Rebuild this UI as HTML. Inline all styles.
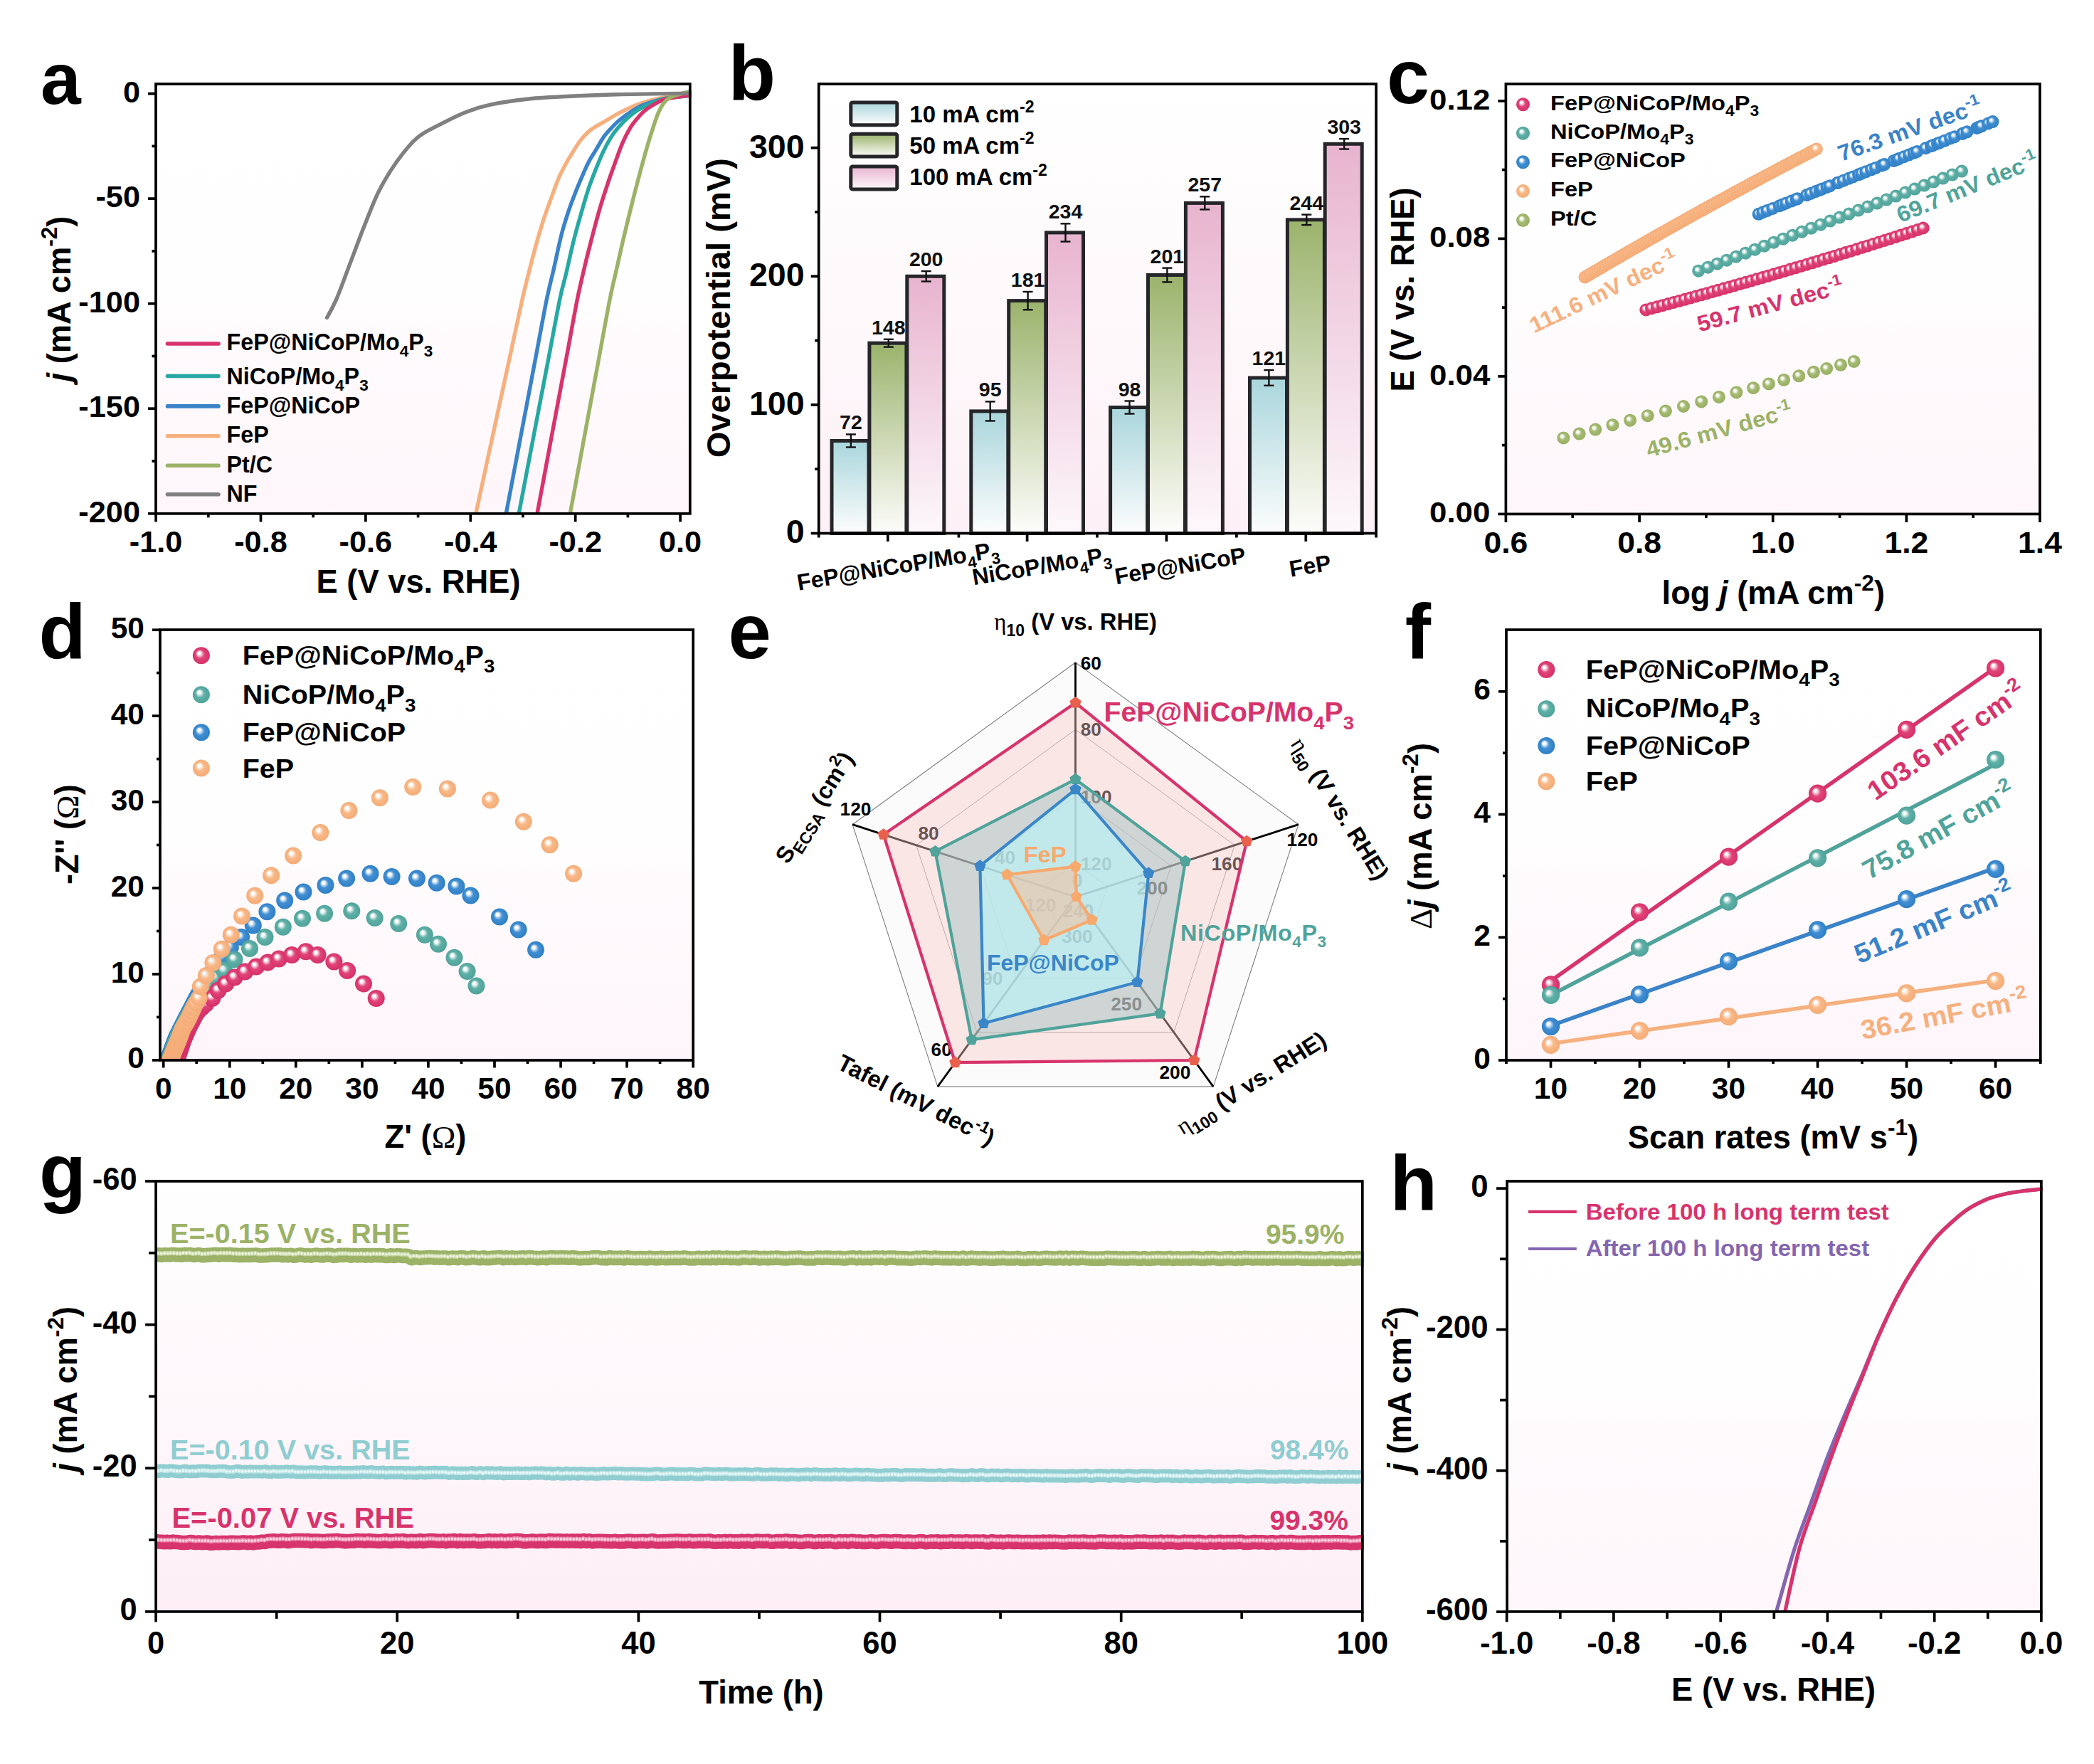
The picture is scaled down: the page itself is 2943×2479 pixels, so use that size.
<!DOCTYPE html>
<html><head><meta charset="utf-8"><title>Figure</title><style>html,body{margin:0;padding:0;background:#fff;}body{width:2943px;height:2479px;overflow:hidden;font-family:"Liberation Sans",sans-serif;}svg{display:block;}</style></head><body><svg width="2943" height="2479" viewBox="0 0 2943 2479" font-family="Liberation Sans, sans-serif" font-weight="bold"><defs><radialGradient id="sR" cx="0.5" cy="0.5" r="0.5" fx="0.35" fy="0.33"><stop offset="0" stop-color="#ffffff"/><stop offset="0.16" stop-color="#ffffff" stop-opacity="0.9"/><stop offset="0.5" stop-color="#e0457a"/><stop offset="1" stop-color="#d62f67"/></radialGradient><radialGradient id="sT" cx="0.5" cy="0.5" r="0.5" fx="0.35" fy="0.33"><stop offset="0" stop-color="#ffffff"/><stop offset="0.16" stop-color="#ffffff" stop-opacity="0.9"/><stop offset="0.5" stop-color="#5fb0a7"/><stop offset="1" stop-color="#4fa39a"/></radialGradient><radialGradient id="sB" cx="0.5" cy="0.5" r="0.5" fx="0.35" fy="0.33"><stop offset="0" stop-color="#ffffff"/><stop offset="0.16" stop-color="#ffffff" stop-opacity="0.9"/><stop offset="0.5" stop-color="#428fd2"/><stop offset="1" stop-color="#2f7fc6"/></radialGradient><radialGradient id="sO" cx="0.5" cy="0.5" r="0.5" fx="0.35" fy="0.33"><stop offset="0" stop-color="#ffffff"/><stop offset="0.16" stop-color="#ffffff" stop-opacity="0.9"/><stop offset="0.5" stop-color="#f8b988"/><stop offset="1" stop-color="#f5ab76"/></radialGradient><radialGradient id="sG" cx="0.5" cy="0.5" r="0.5" fx="0.35" fy="0.33"><stop offset="0" stop-color="#ffffff"/><stop offset="0.16" stop-color="#ffffff" stop-opacity="0.9"/><stop offset="0.5" stop-color="#a5bb72"/><stop offset="1" stop-color="#97ae62"/></radialGradient><linearGradient id="bgA" x1="0" y1="0" x2="0" y2="1"><stop offset="0" stop-color="#ffffff"/><stop offset="0.5" stop-color="#fffefe"/><stop offset="0.58" stop-color="#fffbfd"/><stop offset="1" stop-color="#fef6fa"/></linearGradient><linearGradient id="bgB" x1="0" y1="0" x2="0" y2="1"><stop offset="0" stop-color="#ffffff"/><stop offset="0.5" stop-color="#fef9fb"/><stop offset="1" stop-color="#fdf0f6"/></linearGradient><linearGradient id="gb1" x1="0" y1="0" x2="0" y2="1"><stop offset="0" stop-color="#a9d6dc"/><stop offset="1" stop-color="#fdfdfd"/></linearGradient><linearGradient id="gb2" x1="0" y1="0" x2="0" y2="1"><stop offset="0" stop-color="#9bb36c"/><stop offset="1" stop-color="#fdfdfb"/></linearGradient><linearGradient id="gb3" x1="0" y1="0" x2="0" y2="1"><stop offset="0" stop-color="#e8b4cf"/><stop offset="1" stop-color="#fdf8fb"/></linearGradient><linearGradient id="bgC" x1="0" y1="0" x2="0" y2="1"><stop offset="0" stop-color="#ffffff"/><stop offset="0.5" stop-color="#fffefe"/><stop offset="0.58" stop-color="#fffbfd"/><stop offset="1" stop-color="#fef6fa"/></linearGradient><linearGradient id="bgD" x1="0" y1="0" x2="0" y2="1"><stop offset="0" stop-color="#ffffff"/><stop offset="0.5" stop-color="#fffefe"/><stop offset="0.58" stop-color="#fffbfd"/><stop offset="1" stop-color="#fef5fa"/></linearGradient><linearGradient id="bgF" x1="0" y1="0" x2="0" y2="1"><stop offset="0" stop-color="#ffffff"/><stop offset="0.5" stop-color="#fffefe"/><stop offset="0.58" stop-color="#fffbfd"/><stop offset="1" stop-color="#fef5fa"/></linearGradient><linearGradient id="bgG" x1="0" y1="0" x2="0" y2="1"><stop offset="0" stop-color="#ffffff"/><stop offset="0.5" stop-color="#fef8fb"/><stop offset="1" stop-color="#fdeef6"/></linearGradient><linearGradient id="bgH" x1="0" y1="0" x2="0" y2="1"><stop offset="0" stop-color="#ffffff"/><stop offset="0.5" stop-color="#fffefe"/><stop offset="0.58" stop-color="#fffbfd"/><stop offset="1" stop-color="#fef6fa"/></linearGradient></defs><rect x="219" y="118" width="750.8" height="603.8" fill="url(#bgA)"/>
<clipPath id="clipA"><rect x="219" y="115" width="752.8" height="606.8"/></clipPath>
<g clip-path="url(#clipA)" fill="none" stroke-width="5.4" stroke-linecap="round" stroke-linejoin="round">
<path d="M668.8 721.8C671.5 709.2 679.7 671.5 685.1 646.3C690.6 621.2 696 596 701.5 570.9C707 545.8 712.4 520.6 717.9 495.4C723.3 470.3 730 438.6 734.2 420C738.4 401.4 739.8 396.7 743 384C746.2 371.3 750 356.3 753.5 343.7C757 331.1 760.5 319.3 764 308.5C767.5 297.7 771.1 288.4 774.6 278.7C778.1 269 781.6 258.7 785.1 250.5C788.6 242.3 792.2 235.9 795.7 229.5C799.2 223.1 802.7 217.5 806.2 211.9C809.7 206.3 812.7 201.1 816.8 196.1C820.9 191.1 825.5 186.1 830.8 182C836.1 177.9 842.5 175 848.4 171.5C854.3 168 860.1 164.2 866 161C871.9 157.8 877.6 154.8 883.5 152.2C889.4 149.5 895.2 147.1 901.1 145.1C907 143.1 912.9 141.3 918.7 139.9C924.6 138.5 927.7 137.6 936.2 136.4C944.7 135.2 964 133.4 969.6 132.8" stroke="#f6b07e"/>
<path d="M711.3 721.8C713.7 709.2 720.8 671.5 725.6 646.3C730.4 621.2 735.1 596 739.9 570.9C744.7 545.8 749.4 520.6 754.2 495.4C759 470.3 764.5 439.4 768.5 420C772.5 400.6 774.7 393.6 778.1 378.8C781.5 364 785.2 345.2 788.7 331.4C792.2 317.6 795.7 306.8 799.2 296.2C802.7 285.6 806.5 276.3 809.7 268.1C812.9 259.9 815.6 253.7 818.5 247C821.4 240.3 824.1 233.8 827.3 227.7C830.5 221.5 834.4 215.9 837.9 210.1C841.4 204.2 844.9 197.6 848.4 192.6C851.9 187.6 855.4 184.1 858.9 180.3C862.4 176.5 865.4 173.2 869.5 169.7C873.6 166.2 878.2 162.7 883.5 159.2C888.8 155.7 895.2 151.5 901.1 148.7C907 145.9 912.9 144.3 918.7 142.5C924.6 140.7 927.7 139.4 936.2 138.1C944.7 136.8 964 135.2 969.6 134.6" stroke="#3a83c8"/>
<path d="M729.2 721.8C731.6 709.2 738.8 671.5 743.6 646.3C748.4 621.2 753.2 596 758 570.9C762.9 545.8 767.7 520.6 772.5 495.4C777.3 470.3 783 438.6 786.9 420C790.8 401.4 792.5 397.7 795.7 384.1C798.9 370.5 802.7 352.5 806.2 338.4C809.7 324.3 813.3 312 816.8 299.7C820.3 287.4 823.8 275.1 827.3 264.6C830.8 254.1 834.4 245.3 837.9 236.5C841.4 227.7 844.9 219.2 848.4 211.9C851.9 204.6 855.4 198.2 858.9 192.6C862.4 187 865.4 183.2 869.5 178.5C873.6 173.8 878.8 168.6 883.5 164.5C888.2 160.4 892.3 157.1 897.6 153.9C902.9 150.7 908.8 147.7 915.2 145.1C921.6 142.5 927.1 139.9 936.2 138.1C945.3 136.2 964 134.7 969.6 134" stroke="#26a8a3"/>
<path d="M755 721.8C757.4 709.2 764.4 671.5 769.1 646.3C773.8 621.2 778.5 596 783.2 570.9C788 545.8 792.7 520.6 797.4 495.4C802.1 470.3 807.4 440.3 811.5 420C815.6 399.7 818.5 388.3 822 373.5C825.5 358.7 829.1 344.9 832.6 331.4C836.1 317.9 839.6 304.7 843.1 292.7C846.6 280.7 850.2 269.8 853.7 259.3C857.2 248.8 860.7 239.2 864.2 229.5C867.7 219.8 871.2 209.6 874.7 201.4C878.2 193.2 881.8 186.2 885.3 180.3C888.8 174.4 892 170.6 895.8 166.2C899.6 161.8 903.7 157.4 908.1 153.9C912.5 150.4 917.5 147.6 922.2 145.1C926.9 142.6 928.3 140.9 936.2 139C944.1 137.1 964 134.6 969.6 133.7" stroke="#d7336c"/>
<path d="M801.3 721.8C803.6 709.2 810.6 671.5 815.3 646.3C819.9 621.2 824.6 596 829.2 570.9C833.9 545.8 838.6 520.6 843.2 495.4C847.9 470.3 853.4 439.1 857.2 420C861 400.9 863.1 393.6 866 380.6C868.9 367.6 871.8 354.5 874.7 341.9C877.6 329.3 880.6 317 883.5 305C886.4 293 889.4 281.3 892.3 269.9C895.2 258.5 898.2 247.3 901.1 236.5C904 225.7 907 214.8 909.9 204.9C912.8 195 916.1 184.7 918.7 176.8C921.3 168.9 923.4 162.7 925.7 157.4C928 152.1 930.1 148.5 932.7 145.1C935.3 141.7 938 139.2 941.5 137.2C945 135.1 949.1 134.3 953.8 132.8C958.5 131.3 967 129.1 969.6 128.4" stroke="#9bb267"/>
<path d="M459.6 446.3C461.9 441.8 467.8 432.2 473.4 419.1C479 406 486.5 384.6 493.1 367.4C499.7 350.1 506.2 332.1 512.8 315.6C519.4 299.2 525.1 283.3 532.5 268.7C539.9 254.1 548.2 240.4 557.2 227.8C566.2 215.2 576.3 202.2 586.8 193.3C597.3 184.4 608.6 180.1 620 174.1C631.4 168.1 643.4 161.9 655.1 157.4C666.8 152.9 675.6 150 690.3 146.9C704.9 143.8 725.4 140.9 743 139C760.6 137.1 775.2 136.5 795.7 135.5C816.2 134.5 845.6 133.4 866 132.8C886.4 132.2 900.5 132.2 917.8 131.9C935.1 131.7 961 131.2 969.6 131.1" stroke="#808080"/>
</g>
<rect x="219" y="118" width="750.8" height="603.8" fill="none" stroke="#000" stroke-width="3.7"/>
<line x1="219.1" y1="721.8" x2="219.1" y2="733.3" stroke="#000" stroke-width="3.7" stroke-linecap="butt"/>
<line x1="366.5" y1="721.8" x2="366.5" y2="733.3" stroke="#000" stroke-width="3.7" stroke-linecap="butt"/>
<line x1="513.9" y1="721.8" x2="513.9" y2="733.3" stroke="#000" stroke-width="3.7" stroke-linecap="butt"/>
<line x1="661.3" y1="721.8" x2="661.3" y2="733.3" stroke="#000" stroke-width="3.7" stroke-linecap="butt"/>
<line x1="808.7" y1="721.8" x2="808.7" y2="733.3" stroke="#000" stroke-width="3.7" stroke-linecap="butt"/>
<line x1="956.1" y1="721.8" x2="956.1" y2="733.3" stroke="#000" stroke-width="3.7" stroke-linecap="butt"/>
<line x1="292.8" y1="721.8" x2="292.8" y2="727.3" stroke="#000" stroke-width="3.7" stroke-linecap="butt"/>
<line x1="440.2" y1="721.8" x2="440.2" y2="727.3" stroke="#000" stroke-width="3.7" stroke-linecap="butt"/>
<line x1="587.6" y1="721.8" x2="587.6" y2="727.3" stroke="#000" stroke-width="3.7" stroke-linecap="butt"/>
<line x1="735" y1="721.8" x2="735" y2="727.3" stroke="#000" stroke-width="3.7" stroke-linecap="butt"/>
<line x1="882.4" y1="721.8" x2="882.4" y2="727.3" stroke="#000" stroke-width="3.7" stroke-linecap="butt"/>
<text x="219.1" y="775.8" font-size="43.3" text-anchor="middle" fill="#000" font-weight="bold">-1.0</text>
<text x="366.5" y="775.8" font-size="43.3" text-anchor="middle" fill="#000" font-weight="bold">-0.8</text>
<text x="513.9" y="775.8" font-size="43.3" text-anchor="middle" fill="#000" font-weight="bold">-0.6</text>
<text x="661.3" y="775.8" font-size="43.3" text-anchor="middle" fill="#000" font-weight="bold">-0.4</text>
<text x="808.7" y="775.8" font-size="43.3" text-anchor="middle" fill="#000" font-weight="bold">-0.2</text>
<text x="956.1" y="775.8" font-size="43.3" text-anchor="middle" fill="#000" font-weight="bold">0.0</text>
<line x1="208" y1="131.6" x2="219" y2="131.6" stroke="#000" stroke-width="3.7" stroke-linecap="butt"/>
<line x1="208" y1="279.1" x2="219" y2="279.1" stroke="#000" stroke-width="3.7" stroke-linecap="butt"/>
<line x1="208" y1="426.7" x2="219" y2="426.7" stroke="#000" stroke-width="3.7" stroke-linecap="butt"/>
<line x1="208" y1="574.2" x2="219" y2="574.2" stroke="#000" stroke-width="3.7" stroke-linecap="butt"/>
<line x1="208" y1="721.8" x2="219" y2="721.8" stroke="#000" stroke-width="3.7" stroke-linecap="butt"/>
<line x1="213.5" y1="205.4" x2="219" y2="205.4" stroke="#000" stroke-width="3.7" stroke-linecap="butt"/>
<line x1="213.5" y1="352.9" x2="219" y2="352.9" stroke="#000" stroke-width="3.7" stroke-linecap="butt"/>
<line x1="213.5" y1="500.5" x2="219" y2="500.5" stroke="#000" stroke-width="3.7" stroke-linecap="butt"/>
<line x1="213.5" y1="648" x2="219" y2="648" stroke="#000" stroke-width="3.7" stroke-linecap="butt"/>
<text x="197" y="143.6" font-size="43.3" text-anchor="end" fill="#000" font-weight="bold">0</text>
<text x="197" y="291.1" font-size="43.3" text-anchor="end" fill="#000" font-weight="bold">-50</text>
<text x="197" y="438.7" font-size="43.3" text-anchor="end" fill="#000" font-weight="bold">-100</text>
<text x="197" y="586.2" font-size="43.3" text-anchor="end" fill="#000" font-weight="bold">-150</text>
<text x="197" y="733.8" font-size="43.3" text-anchor="end" fill="#000" font-weight="bold">-200</text>
<text x="588" y="833.2" font-size="45.3" text-anchor="middle" fill="#000" font-weight="bold">E (V vs. RHE)</text>
<text x="98.5" y="420" font-size="45.3" text-anchor="middle" fill="#000" font-weight="bold" transform="rotate(-90 98.5 420)"><tspan font-style="italic">j</tspan><tspan> (mA cm</tspan><tspan font-size="31.7" dy="-19">-2</tspan><tspan dy="19">)</tspan></text>
<text x="57" y="146" font-size="102" text-anchor="start" fill="#000" font-weight="bold">a</text>
<line x1="235.5" y1="483" x2="307" y2="483" stroke="#d7336c" stroke-width="5.6" stroke-linecap="round"/>
<text x="318.5" y="492.3" font-size="32.3" text-anchor="start" fill="#000" font-weight="bold"><tspan>FeP@NiCoP/Mo</tspan><tspan font-size="22.6" dy="9">4</tspan><tspan dy="-9">P</tspan><tspan font-size="22.6" dy="9">3</tspan><tspan dy="-9"></tspan></text>
<line x1="235.5" y1="528.5" x2="307" y2="528.5" stroke="#26a8a3" stroke-width="5.6" stroke-linecap="round"/>
<text x="318.5" y="539.5" font-size="32.3" text-anchor="start" fill="#000" font-weight="bold"><tspan>NiCoP/Mo</tspan><tspan font-size="22.6" dy="9">4</tspan><tspan dy="-9">P</tspan><tspan font-size="22.6" dy="9">3</tspan><tspan dy="-9"></tspan></text>
<line x1="235.5" y1="570.9" x2="307" y2="570.9" stroke="#3a83c8" stroke-width="5.6" stroke-linecap="round"/>
<text x="318.5" y="581.2" font-size="32.3" text-anchor="start" fill="#000" font-weight="bold">FeP@NiCoP</text>
<line x1="235.5" y1="612.7" x2="307" y2="612.7" stroke="#f6b07e" stroke-width="5.6" stroke-linecap="round"/>
<text x="318.5" y="622.3" font-size="32.3" text-anchor="start" fill="#000" font-weight="bold">FeP</text>
<line x1="235.5" y1="654.2" x2="307" y2="654.2" stroke="#9bb267" stroke-width="5.6" stroke-linecap="round"/>
<text x="318.5" y="663.6" font-size="32.3" text-anchor="start" fill="#000" font-weight="bold">Pt/C</text>
<line x1="235.5" y1="694.8" x2="307" y2="694.8" stroke="#808080" stroke-width="5.6" stroke-linecap="round"/>
<text x="318.5" y="705.4" font-size="32.3" text-anchor="start" fill="#000" font-weight="bold">NF</text>
<rect x="1150.7" y="118" width="783.4" height="631.5" fill="url(#bgB)"/>
<rect x="1169" y="619.5" width="52" height="130" fill="url(#gb1)" stroke="#26262a" stroke-width="5"/>
<line x1="1195.9" y1="610.4" x2="1195.9" y2="628.5" stroke="#111" stroke-width="2.4" stroke-linecap="butt"/>
<line x1="1188.9" y1="610.4" x2="1202.9" y2="610.4" stroke="#111" stroke-width="2.4" stroke-linecap="butt"/>
<line x1="1188.9" y1="628.5" x2="1202.9" y2="628.5" stroke="#111" stroke-width="2.4" stroke-linecap="butt"/>
<text x="1195.9" y="603.4" font-size="28.5" text-anchor="middle" fill="#111" font-weight="bold">72</text>
<rect x="1221.9" y="482.2" width="52" height="267.3" fill="url(#gb2)" stroke="#26262a" stroke-width="5"/>
<line x1="1248.8" y1="476.8" x2="1248.8" y2="487.6" stroke="#111" stroke-width="2.4" stroke-linecap="butt"/>
<line x1="1241.8" y1="476.8" x2="1255.8" y2="476.8" stroke="#111" stroke-width="2.4" stroke-linecap="butt"/>
<line x1="1241.8" y1="487.6" x2="1255.8" y2="487.6" stroke="#111" stroke-width="2.4" stroke-linecap="butt"/>
<text x="1248.8" y="469.8" font-size="28.5" text-anchor="middle" fill="#111" font-weight="bold">148</text>
<rect x="1274.8" y="388.3" width="52" height="361.2" fill="url(#gb3)" stroke="#26262a" stroke-width="5"/>
<line x1="1301.7" y1="381.1" x2="1301.7" y2="395.5" stroke="#111" stroke-width="2.4" stroke-linecap="butt"/>
<line x1="1294.7" y1="381.1" x2="1308.7" y2="381.1" stroke="#111" stroke-width="2.4" stroke-linecap="butt"/>
<line x1="1294.7" y1="395.5" x2="1308.7" y2="395.5" stroke="#111" stroke-width="2.4" stroke-linecap="butt"/>
<text x="1301.7" y="374.1" font-size="28.5" text-anchor="middle" fill="#111" font-weight="bold">200</text>
<rect x="1364.8" y="577.9" width="52" height="171.6" fill="url(#gb1)" stroke="#26262a" stroke-width="5"/>
<line x1="1391.7" y1="564.4" x2="1391.7" y2="591.5" stroke="#111" stroke-width="2.4" stroke-linecap="butt"/>
<line x1="1384.7" y1="564.4" x2="1398.7" y2="564.4" stroke="#111" stroke-width="2.4" stroke-linecap="butt"/>
<line x1="1384.7" y1="591.5" x2="1398.7" y2="591.5" stroke="#111" stroke-width="2.4" stroke-linecap="butt"/>
<text x="1391.7" y="557.4" font-size="28.5" text-anchor="middle" fill="#111" font-weight="bold">95</text>
<rect x="1417.7" y="422.6" width="52" height="326.9" fill="url(#gb2)" stroke="#26262a" stroke-width="5"/>
<line x1="1444.6" y1="410" x2="1444.6" y2="435.3" stroke="#111" stroke-width="2.4" stroke-linecap="butt"/>
<line x1="1437.6" y1="410" x2="1451.6" y2="410" stroke="#111" stroke-width="2.4" stroke-linecap="butt"/>
<line x1="1437.6" y1="435.3" x2="1451.6" y2="435.3" stroke="#111" stroke-width="2.4" stroke-linecap="butt"/>
<text x="1444.6" y="403" font-size="28.5" text-anchor="middle" fill="#111" font-weight="bold">181</text>
<rect x="1470.5" y="326.9" width="52" height="422.6" fill="url(#gb3)" stroke="#26262a" stroke-width="5"/>
<line x1="1497.5" y1="314.3" x2="1497.5" y2="339.5" stroke="#111" stroke-width="2.4" stroke-linecap="butt"/>
<line x1="1490.5" y1="314.3" x2="1504.5" y2="314.3" stroke="#111" stroke-width="2.4" stroke-linecap="butt"/>
<line x1="1490.5" y1="339.5" x2="1504.5" y2="339.5" stroke="#111" stroke-width="2.4" stroke-linecap="butt"/>
<text x="1497.5" y="307.3" font-size="28.5" text-anchor="middle" fill="#111" font-weight="bold">234</text>
<rect x="1560.6" y="572.5" width="52" height="177" fill="url(#gb1)" stroke="#26262a" stroke-width="5"/>
<line x1="1587.5" y1="563.5" x2="1587.5" y2="581.5" stroke="#111" stroke-width="2.4" stroke-linecap="butt"/>
<line x1="1580.5" y1="563.5" x2="1594.5" y2="563.5" stroke="#111" stroke-width="2.4" stroke-linecap="butt"/>
<line x1="1580.5" y1="581.5" x2="1594.5" y2="581.5" stroke="#111" stroke-width="2.4" stroke-linecap="butt"/>
<text x="1587.5" y="556.5" font-size="28.5" text-anchor="middle" fill="#111" font-weight="bold">98</text>
<rect x="1613.5" y="386.5" width="52" height="363" fill="url(#gb2)" stroke="#26262a" stroke-width="5"/>
<line x1="1640.4" y1="376.6" x2="1640.4" y2="396.4" stroke="#111" stroke-width="2.4" stroke-linecap="butt"/>
<line x1="1633.4" y1="376.6" x2="1647.4" y2="376.6" stroke="#111" stroke-width="2.4" stroke-linecap="butt"/>
<line x1="1633.4" y1="396.4" x2="1647.4" y2="396.4" stroke="#111" stroke-width="2.4" stroke-linecap="butt"/>
<text x="1640.4" y="369.6" font-size="28.5" text-anchor="middle" fill="#111" font-weight="bold">201</text>
<rect x="1666.4" y="285.4" width="52" height="464.1" fill="url(#gb3)" stroke="#26262a" stroke-width="5"/>
<line x1="1693.3" y1="276.3" x2="1693.3" y2="294.4" stroke="#111" stroke-width="2.4" stroke-linecap="butt"/>
<line x1="1686.3" y1="276.3" x2="1700.3" y2="276.3" stroke="#111" stroke-width="2.4" stroke-linecap="butt"/>
<line x1="1686.3" y1="294.4" x2="1700.3" y2="294.4" stroke="#111" stroke-width="2.4" stroke-linecap="butt"/>
<text x="1693.3" y="269.3" font-size="28.5" text-anchor="middle" fill="#111" font-weight="bold">257</text>
<rect x="1756.5" y="531" width="52" height="218.5" fill="url(#gb1)" stroke="#26262a" stroke-width="5"/>
<line x1="1783.4" y1="520.1" x2="1783.4" y2="541.8" stroke="#111" stroke-width="2.4" stroke-linecap="butt"/>
<line x1="1776.4" y1="520.1" x2="1790.4" y2="520.1" stroke="#111" stroke-width="2.4" stroke-linecap="butt"/>
<line x1="1776.4" y1="541.8" x2="1790.4" y2="541.8" stroke="#111" stroke-width="2.4" stroke-linecap="butt"/>
<text x="1783.4" y="513.1" font-size="28.5" text-anchor="middle" fill="#111" font-weight="bold">121</text>
<rect x="1809.4" y="308.8" width="52" height="440.7" fill="url(#gb2)" stroke="#26262a" stroke-width="5"/>
<line x1="1836.3" y1="301.6" x2="1836.3" y2="316.1" stroke="#111" stroke-width="2.4" stroke-linecap="butt"/>
<line x1="1829.3" y1="301.6" x2="1843.3" y2="301.6" stroke="#111" stroke-width="2.4" stroke-linecap="butt"/>
<line x1="1829.3" y1="316.1" x2="1843.3" y2="316.1" stroke="#111" stroke-width="2.4" stroke-linecap="butt"/>
<text x="1836.3" y="294.6" font-size="28.5" text-anchor="middle" fill="#111" font-weight="bold">244</text>
<rect x="1862.2" y="202.3" width="52" height="547.2" fill="url(#gb3)" stroke="#26262a" stroke-width="5"/>
<line x1="1889.2" y1="195.1" x2="1889.2" y2="209.5" stroke="#111" stroke-width="2.4" stroke-linecap="butt"/>
<line x1="1882.2" y1="195.1" x2="1896.2" y2="195.1" stroke="#111" stroke-width="2.4" stroke-linecap="butt"/>
<line x1="1882.2" y1="209.5" x2="1896.2" y2="209.5" stroke="#111" stroke-width="2.4" stroke-linecap="butt"/>
<text x="1889.2" y="188.1" font-size="28.5" text-anchor="middle" fill="#111" font-weight="bold">303</text>
<rect x="1150.7" y="118" width="783.4" height="631.5" fill="none" stroke="#000" stroke-width="3.7"/>
<line x1="1139.7" y1="749.5" x2="1150.7" y2="749.5" stroke="#000" stroke-width="3.7" stroke-linecap="butt"/>
<line x1="1139.7" y1="568.9" x2="1150.7" y2="568.9" stroke="#000" stroke-width="3.7" stroke-linecap="butt"/>
<line x1="1139.7" y1="388.3" x2="1150.7" y2="388.3" stroke="#000" stroke-width="3.7" stroke-linecap="butt"/>
<line x1="1139.7" y1="207.7" x2="1150.7" y2="207.7" stroke="#000" stroke-width="3.7" stroke-linecap="butt"/>
<line x1="1145.2" y1="659.2" x2="1150.7" y2="659.2" stroke="#000" stroke-width="3.7" stroke-linecap="butt"/>
<line x1="1145.2" y1="478.6" x2="1150.7" y2="478.6" stroke="#000" stroke-width="3.7" stroke-linecap="butt"/>
<line x1="1145.2" y1="298" x2="1150.7" y2="298" stroke="#000" stroke-width="3.7" stroke-linecap="butt"/>
<text x="1130.7" y="763.3" font-size="46.6" text-anchor="end" fill="#000" font-weight="bold">0</text>
<text x="1130.7" y="582.7" font-size="46.6" text-anchor="end" fill="#000" font-weight="bold">100</text>
<text x="1130.7" y="402.1" font-size="46.6" text-anchor="end" fill="#000" font-weight="bold">200</text>
<text x="1130.7" y="221.5" font-size="46.6" text-anchor="end" fill="#000" font-weight="bold">300</text>
<line x1="1247.8" y1="749.5" x2="1247.8" y2="761" stroke="#000" stroke-width="3.7" stroke-linecap="butt"/>
<line x1="1443.6" y1="749.5" x2="1443.6" y2="761" stroke="#000" stroke-width="3.7" stroke-linecap="butt"/>
<line x1="1639.4" y1="749.5" x2="1639.4" y2="761" stroke="#000" stroke-width="3.7" stroke-linecap="butt"/>
<line x1="1835.3" y1="749.5" x2="1835.3" y2="761" stroke="#000" stroke-width="3.7" stroke-linecap="butt"/>
<line x1="1150.7" y1="749.5" x2="1150.7" y2="755.5" stroke="#000" stroke-width="3.7" stroke-linecap="butt"/>
<line x1="1347.4" y1="749.5" x2="1347.4" y2="755.5" stroke="#000" stroke-width="3.7" stroke-linecap="butt"/>
<line x1="1542" y1="749.5" x2="1542" y2="755.5" stroke="#000" stroke-width="3.7" stroke-linecap="butt"/>
<line x1="1737.9" y1="749.5" x2="1737.9" y2="755.5" stroke="#000" stroke-width="3.7" stroke-linecap="butt"/>
<line x1="1934.1" y1="749.5" x2="1934.1" y2="755.5" stroke="#000" stroke-width="3.7" stroke-linecap="butt"/>
<text x="1026.5" y="432.7" font-size="47.1" text-anchor="middle" fill="#000" font-weight="bold" transform="rotate(-90 1026.5 432.7)">Overpotential (mV)</text>
<text x="1023.5" y="139.5" font-size="109" text-anchor="start" fill="#000" font-weight="bold">b</text>
<rect x="1195.8" y="143.9" width="65" height="31.8" rx="2.5" fill="url(#gb1)" stroke="#26262a" stroke-width="5"/>
<text x="1278.3" y="171.6" font-size="33" text-anchor="start" fill="#000" font-weight="bold"><tspan>10 mA cm</tspan><tspan font-size="23.1" dy="-13.9">-2</tspan><tspan dy="13.9"></tspan></text>
<rect x="1195.8" y="188.3" width="65" height="31.8" rx="2.5" fill="url(#gb2)" stroke="#26262a" stroke-width="5"/>
<text x="1278.3" y="215.5" font-size="33" text-anchor="start" fill="#000" font-weight="bold"><tspan>50 mA cm</tspan><tspan font-size="23.1" dy="-13.9">-2</tspan><tspan dy="13.9"></tspan></text>
<rect x="1195.8" y="234.1" width="65" height="31.8" rx="2.5" fill="url(#gb3)" stroke="#26262a" stroke-width="5"/>
<text x="1278.3" y="260.4" font-size="33" text-anchor="start" fill="#000" font-weight="bold"><tspan>100 mA cm</tspan><tspan font-size="23.1" dy="-13.9">-2</tspan><tspan dy="13.9"></tspan></text>
<text x="1264" y="806" font-size="32" text-anchor="middle" fill="#000" font-weight="bold" transform="rotate(-9.5 1264 806)"><tspan>FeP@NiCoP/Mo</tspan><tspan font-size="22.4" dy="9">4</tspan><tspan dy="-9">P</tspan><tspan font-size="22.4" dy="9">3</tspan><tspan dy="-9"></tspan></text>
<text x="1465.8" y="806" font-size="32" text-anchor="middle" fill="#000" font-weight="bold" transform="rotate(-9.5 1465.8 806)"><tspan>NiCoP/Mo</tspan><tspan font-size="22.4" dy="9">4</tspan><tspan dy="-9">P</tspan><tspan font-size="22.4" dy="9">3</tspan><tspan dy="-9"></tspan></text>
<text x="1660.5" y="806" font-size="32" text-anchor="middle" fill="#000" font-weight="bold" transform="rotate(-9.5 1660.5 806)">FeP@NiCoP</text>
<text x="1843" y="806" font-size="32" text-anchor="middle" fill="#000" font-weight="bold" transform="rotate(-9.5 1843 806)">FeP</text>
<rect x="2116.4" y="118" width="750.6" height="604.4" fill="url(#bgC)"/>
<circle cx="2197.4" cy="615.4" r="9" fill="url(#sG)"/>
<circle cx="2219.6" cy="609.6" r="9" fill="url(#sG)"/>
<circle cx="2242.3" cy="603.6" r="9" fill="url(#sG)"/>
<circle cx="2266.4" cy="597.2" r="9" fill="url(#sG)"/>
<circle cx="2291.1" cy="590.7" r="9" fill="url(#sG)"/>
<circle cx="2315.7" cy="584.2" r="9" fill="url(#sG)"/>
<circle cx="2340.9" cy="577.6" r="9" fill="url(#sG)"/>
<circle cx="2366" cy="571" r="9" fill="url(#sG)"/>
<circle cx="2391.2" cy="564.4" r="9" fill="url(#sG)"/>
<circle cx="2415.9" cy="557.9" r="9" fill="url(#sG)"/>
<circle cx="2440.5" cy="551.4" r="9" fill="url(#sG)"/>
<circle cx="2464.2" cy="545.2" r="9" fill="url(#sG)"/>
<circle cx="2485.9" cy="539.4" r="9" fill="url(#sG)"/>
<circle cx="2507.1" cy="533.9" r="9" fill="url(#sG)"/>
<circle cx="2528.3" cy="528.3" r="9" fill="url(#sG)"/>
<circle cx="2549" cy="522.8" r="9" fill="url(#sG)"/>
<circle cx="2567.2" cy="518" r="9" fill="url(#sG)"/>
<circle cx="2587" cy="512.8" r="9" fill="url(#sG)"/>
<circle cx="2605.7" cy="507.9" r="9" fill="url(#sG)"/>
<circle cx="2227.5" cy="389.5" r="9" fill="url(#sO)"/>
<circle cx="2231.1" cy="387.4" r="9" fill="url(#sO)"/>
<circle cx="2234.7" cy="385.3" r="9" fill="url(#sO)"/>
<circle cx="2238.2" cy="383.2" r="9" fill="url(#sO)"/>
<circle cx="2241.8" cy="381.1" r="9" fill="url(#sO)"/>
<circle cx="2245.4" cy="379" r="9" fill="url(#sO)"/>
<circle cx="2249" cy="376.9" r="9" fill="url(#sO)"/>
<circle cx="2252.5" cy="374.8" r="9" fill="url(#sO)"/>
<circle cx="2256.1" cy="372.7" r="9" fill="url(#sO)"/>
<circle cx="2259.7" cy="370.6" r="9" fill="url(#sO)"/>
<circle cx="2263.3" cy="368.6" r="9" fill="url(#sO)"/>
<circle cx="2266.8" cy="366.5" r="9" fill="url(#sO)"/>
<circle cx="2270.4" cy="364.4" r="9" fill="url(#sO)"/>
<circle cx="2274" cy="362.3" r="9" fill="url(#sO)"/>
<circle cx="2277.6" cy="360.3" r="9" fill="url(#sO)"/>
<circle cx="2281.1" cy="358.2" r="9" fill="url(#sO)"/>
<circle cx="2284.7" cy="356.1" r="9" fill="url(#sO)"/>
<circle cx="2288.3" cy="354.1" r="9" fill="url(#sO)"/>
<circle cx="2291.9" cy="352" r="9" fill="url(#sO)"/>
<circle cx="2295.4" cy="350" r="9" fill="url(#sO)"/>
<circle cx="2299" cy="347.9" r="9" fill="url(#sO)"/>
<circle cx="2302.6" cy="345.9" r="9" fill="url(#sO)"/>
<circle cx="2306.2" cy="343.8" r="9" fill="url(#sO)"/>
<circle cx="2309.7" cy="341.8" r="9" fill="url(#sO)"/>
<circle cx="2313.3" cy="339.7" r="9" fill="url(#sO)"/>
<circle cx="2316.9" cy="337.7" r="9" fill="url(#sO)"/>
<circle cx="2320.5" cy="335.7" r="9" fill="url(#sO)"/>
<circle cx="2324" cy="333.6" r="9" fill="url(#sO)"/>
<circle cx="2327.6" cy="331.6" r="9" fill="url(#sO)"/>
<circle cx="2331.2" cy="329.6" r="9" fill="url(#sO)"/>
<circle cx="2334.8" cy="327.5" r="9" fill="url(#sO)"/>
<circle cx="2338.4" cy="325.5" r="9" fill="url(#sO)"/>
<circle cx="2341.9" cy="323.5" r="9" fill="url(#sO)"/>
<circle cx="2345.5" cy="321.5" r="9" fill="url(#sO)"/>
<circle cx="2349.1" cy="319.5" r="9" fill="url(#sO)"/>
<circle cx="2352.7" cy="317.5" r="9" fill="url(#sO)"/>
<circle cx="2356.2" cy="315.5" r="9" fill="url(#sO)"/>
<circle cx="2359.8" cy="313.5" r="9" fill="url(#sO)"/>
<circle cx="2363.4" cy="311.5" r="9" fill="url(#sO)"/>
<circle cx="2367" cy="309.5" r="9" fill="url(#sO)"/>
<circle cx="2370.5" cy="307.5" r="9" fill="url(#sO)"/>
<circle cx="2374.1" cy="305.5" r="9" fill="url(#sO)"/>
<circle cx="2377.7" cy="303.5" r="9" fill="url(#sO)"/>
<circle cx="2381.3" cy="301.5" r="9" fill="url(#sO)"/>
<circle cx="2384.8" cy="299.5" r="9" fill="url(#sO)"/>
<circle cx="2388.4" cy="297.5" r="9" fill="url(#sO)"/>
<circle cx="2392" cy="295.6" r="9" fill="url(#sO)"/>
<circle cx="2395.6" cy="293.6" r="9" fill="url(#sO)"/>
<circle cx="2399.1" cy="291.6" r="9" fill="url(#sO)"/>
<circle cx="2402.7" cy="289.6" r="9" fill="url(#sO)"/>
<circle cx="2406.3" cy="287.7" r="9" fill="url(#sO)"/>
<circle cx="2409.9" cy="285.7" r="9" fill="url(#sO)"/>
<circle cx="2413.4" cy="283.8" r="9" fill="url(#sO)"/>
<circle cx="2417" cy="281.8" r="9" fill="url(#sO)"/>
<circle cx="2420.6" cy="279.9" r="9" fill="url(#sO)"/>
<circle cx="2424.2" cy="277.9" r="9" fill="url(#sO)"/>
<circle cx="2427.7" cy="276" r="9" fill="url(#sO)"/>
<circle cx="2431.3" cy="274" r="9" fill="url(#sO)"/>
<circle cx="2434.9" cy="272.1" r="9" fill="url(#sO)"/>
<circle cx="2438.5" cy="270.1" r="9" fill="url(#sO)"/>
<circle cx="2442" cy="268.2" r="9" fill="url(#sO)"/>
<circle cx="2445.6" cy="266.3" r="9" fill="url(#sO)"/>
<circle cx="2449.2" cy="264.3" r="9" fill="url(#sO)"/>
<circle cx="2452.8" cy="262.4" r="9" fill="url(#sO)"/>
<circle cx="2456.4" cy="260.5" r="9" fill="url(#sO)"/>
<circle cx="2459.9" cy="258.6" r="9" fill="url(#sO)"/>
<circle cx="2463.5" cy="256.6" r="9" fill="url(#sO)"/>
<circle cx="2467.1" cy="254.7" r="9" fill="url(#sO)"/>
<circle cx="2470.7" cy="252.8" r="9" fill="url(#sO)"/>
<circle cx="2474.2" cy="250.9" r="9" fill="url(#sO)"/>
<circle cx="2477.8" cy="249" r="9" fill="url(#sO)"/>
<circle cx="2481.4" cy="247.1" r="9" fill="url(#sO)"/>
<circle cx="2485" cy="245.2" r="9" fill="url(#sO)"/>
<circle cx="2488.5" cy="243.3" r="9" fill="url(#sO)"/>
<circle cx="2492.1" cy="241.4" r="9" fill="url(#sO)"/>
<circle cx="2495.7" cy="239.5" r="9" fill="url(#sO)"/>
<circle cx="2499.3" cy="237.6" r="9" fill="url(#sO)"/>
<circle cx="2502.8" cy="235.7" r="9" fill="url(#sO)"/>
<circle cx="2506.4" cy="233.8" r="9" fill="url(#sO)"/>
<circle cx="2510" cy="231.9" r="9" fill="url(#sO)"/>
<circle cx="2513.6" cy="230.1" r="9" fill="url(#sO)"/>
<circle cx="2517.1" cy="228.2" r="9" fill="url(#sO)"/>
<circle cx="2520.7" cy="226.3" r="9" fill="url(#sO)"/>
<circle cx="2524.3" cy="224.5" r="9" fill="url(#sO)"/>
<circle cx="2527.9" cy="222.6" r="9" fill="url(#sO)"/>
<circle cx="2531.4" cy="220.7" r="9" fill="url(#sO)"/>
<circle cx="2535" cy="218.9" r="9" fill="url(#sO)"/>
<circle cx="2538.6" cy="217" r="9" fill="url(#sO)"/>
<circle cx="2542.2" cy="215.1" r="9" fill="url(#sO)"/>
<circle cx="2545.7" cy="213.3" r="9" fill="url(#sO)"/>
<circle cx="2549.3" cy="211.4" r="9" fill="url(#sO)"/>
<circle cx="2552.9" cy="209.6" r="9" fill="url(#sO)"/>
<circle cx="2471.6" cy="300.8" r="9" fill="url(#sB)"/>
<circle cx="2477.4" cy="298.5" r="9" fill="url(#sB)"/>
<circle cx="2483.5" cy="296.1" r="9" fill="url(#sB)"/>
<circle cx="2491.5" cy="293" r="9" fill="url(#sB)"/>
<circle cx="2501" cy="289.2" r="9" fill="url(#sB)"/>
<circle cx="2505.3" cy="287.5" r="9" fill="url(#sB)"/>
<circle cx="2510.4" cy="285.5" r="9" fill="url(#sB)"/>
<circle cx="2517.7" cy="282.6" r="9" fill="url(#sB)"/>
<circle cx="2524.6" cy="279.9" r="9" fill="url(#sB)"/>
<circle cx="2526.1" cy="279.3" r="9" fill="url(#sB)"/>
<circle cx="2539.2" cy="274.1" r="9" fill="url(#sB)"/>
<circle cx="2544.7" cy="272" r="9" fill="url(#sB)"/>
<circle cx="2551.9" cy="269.1" r="9" fill="url(#sB)"/>
<circle cx="2557.8" cy="266.8" r="9" fill="url(#sB)"/>
<circle cx="2561" cy="265.5" r="9" fill="url(#sB)"/>
<circle cx="2567.5" cy="263" r="9" fill="url(#sB)"/>
<circle cx="2571.7" cy="261.3" r="9" fill="url(#sB)"/>
<circle cx="2582.3" cy="257.1" r="9" fill="url(#sB)"/>
<circle cx="2584.2" cy="256.4" r="9" fill="url(#sB)"/>
<circle cx="2590.7" cy="253.8" r="9" fill="url(#sB)"/>
<circle cx="2598.3" cy="250.8" r="9" fill="url(#sB)"/>
<circle cx="2604.4" cy="248.4" r="9" fill="url(#sB)"/>
<circle cx="2612.2" cy="245.3" r="9" fill="url(#sB)"/>
<circle cx="2616.4" cy="243.7" r="9" fill="url(#sB)"/>
<circle cx="2622.4" cy="241.3" r="9" fill="url(#sB)"/>
<circle cx="2630.1" cy="238.3" r="9" fill="url(#sB)"/>
<circle cx="2636.1" cy="235.9" r="9" fill="url(#sB)"/>
<circle cx="2644.6" cy="232.6" r="9" fill="url(#sB)"/>
<circle cx="2648.4" cy="231.1" r="9" fill="url(#sB)"/>
<circle cx="2661.6" cy="225.9" r="9" fill="url(#sB)"/>
<circle cx="2666" cy="224.2" r="9" fill="url(#sB)"/>
<circle cx="2668.7" cy="223.1" r="9" fill="url(#sB)"/>
<circle cx="2676" cy="220.2" r="9" fill="url(#sB)"/>
<circle cx="2683.2" cy="217.4" r="9" fill="url(#sB)"/>
<circle cx="2689.8" cy="214.8" r="9" fill="url(#sB)"/>
<circle cx="2694.3" cy="213" r="9" fill="url(#sB)"/>
<circle cx="2706.5" cy="208.2" r="9" fill="url(#sB)"/>
<circle cx="2714.1" cy="205.2" r="9" fill="url(#sB)"/>
<circle cx="2716.4" cy="204.3" r="9" fill="url(#sB)"/>
<circle cx="2723" cy="201.7" r="9" fill="url(#sB)"/>
<circle cx="2726.3" cy="200.4" r="9" fill="url(#sB)"/>
<circle cx="2732.9" cy="197.8" r="9" fill="url(#sB)"/>
<circle cx="2741.2" cy="194.5" r="9" fill="url(#sB)"/>
<circle cx="2747.1" cy="192.2" r="9" fill="url(#sB)"/>
<circle cx="2758" cy="187.9" r="9" fill="url(#sB)"/>
<circle cx="2759.1" cy="187.4" r="9" fill="url(#sB)"/>
<circle cx="2764.5" cy="185.3" r="9" fill="url(#sB)"/>
<circle cx="2778.3" cy="179.9" r="9" fill="url(#sB)"/>
<circle cx="2781.4" cy="178.6" r="9" fill="url(#sB)"/>
<circle cx="2784.8" cy="177.3" r="9" fill="url(#sB)"/>
<circle cx="2794.4" cy="173.5" r="9" fill="url(#sB)"/>
<circle cx="2800.5" cy="171.1" r="9" fill="url(#sB)"/>
<circle cx="2387.2" cy="380.7" r="9" fill="url(#sT)"/>
<circle cx="2400.4" cy="375.7" r="9" fill="url(#sT)"/>
<circle cx="2413.6" cy="370.7" r="9" fill="url(#sT)"/>
<circle cx="2426.8" cy="365.7" r="9" fill="url(#sT)"/>
<circle cx="2440" cy="360.7" r="9" fill="url(#sT)"/>
<circle cx="2453.3" cy="355.7" r="9" fill="url(#sT)"/>
<circle cx="2466.5" cy="350.7" r="9" fill="url(#sT)"/>
<circle cx="2479.7" cy="345.7" r="9" fill="url(#sT)"/>
<circle cx="2492.9" cy="340.7" r="9" fill="url(#sT)"/>
<circle cx="2506.1" cy="335.7" r="9" fill="url(#sT)"/>
<circle cx="2519.3" cy="330.7" r="9" fill="url(#sT)"/>
<circle cx="2532.5" cy="325.7" r="9" fill="url(#sT)"/>
<circle cx="2545.7" cy="320.7" r="9" fill="url(#sT)"/>
<circle cx="2558.9" cy="315.7" r="9" fill="url(#sT)"/>
<circle cx="2572.1" cy="310.6" r="9" fill="url(#sT)"/>
<circle cx="2585.4" cy="305.6" r="9" fill="url(#sT)"/>
<circle cx="2598.6" cy="300.6" r="9" fill="url(#sT)"/>
<circle cx="2611.8" cy="295.6" r="9" fill="url(#sT)"/>
<circle cx="2625" cy="290.6" r="9" fill="url(#sT)"/>
<circle cx="2638.2" cy="285.6" r="9" fill="url(#sT)"/>
<circle cx="2651.4" cy="280.6" r="9" fill="url(#sT)"/>
<circle cx="2664.6" cy="275.6" r="9" fill="url(#sT)"/>
<circle cx="2677.8" cy="270.6" r="9" fill="url(#sT)"/>
<circle cx="2691" cy="265.6" r="9" fill="url(#sT)"/>
<circle cx="2704.3" cy="260.6" r="9" fill="url(#sT)"/>
<circle cx="2717.5" cy="255.6" r="9" fill="url(#sT)"/>
<circle cx="2730.7" cy="250.6" r="9" fill="url(#sT)"/>
<circle cx="2743.9" cy="245.6" r="9" fill="url(#sT)"/>
<circle cx="2757.1" cy="240.6" r="9" fill="url(#sT)"/>
<circle cx="2313.3" cy="435.4" r="9" fill="url(#sR)"/>
<circle cx="2321.1" cy="433.3" r="9" fill="url(#sR)"/>
<circle cx="2328.9" cy="431.3" r="9" fill="url(#sR)"/>
<circle cx="2336.7" cy="429.2" r="9" fill="url(#sR)"/>
<circle cx="2344.5" cy="427.1" r="9" fill="url(#sR)"/>
<circle cx="2352.2" cy="425" r="9" fill="url(#sR)"/>
<circle cx="2360" cy="422.9" r="9" fill="url(#sR)"/>
<circle cx="2367.8" cy="420.8" r="9" fill="url(#sR)"/>
<circle cx="2375.6" cy="418.6" r="9" fill="url(#sR)"/>
<circle cx="2383.4" cy="416.5" r="9" fill="url(#sR)"/>
<circle cx="2391.2" cy="414.3" r="9" fill="url(#sR)"/>
<circle cx="2399" cy="412.2" r="9" fill="url(#sR)"/>
<circle cx="2406.8" cy="410" r="9" fill="url(#sR)"/>
<circle cx="2414.6" cy="407.8" r="9" fill="url(#sR)"/>
<circle cx="2422.4" cy="405.6" r="9" fill="url(#sR)"/>
<circle cx="2430.2" cy="403.4" r="9" fill="url(#sR)"/>
<circle cx="2437.9" cy="401.2" r="9" fill="url(#sR)"/>
<circle cx="2445.7" cy="399" r="9" fill="url(#sR)"/>
<circle cx="2453.5" cy="396.8" r="9" fill="url(#sR)"/>
<circle cx="2461.3" cy="394.6" r="9" fill="url(#sR)"/>
<circle cx="2469.1" cy="392.3" r="9" fill="url(#sR)"/>
<circle cx="2476.9" cy="390.1" r="9" fill="url(#sR)"/>
<circle cx="2484.7" cy="387.8" r="9" fill="url(#sR)"/>
<circle cx="2492.5" cy="385.5" r="9" fill="url(#sR)"/>
<circle cx="2500.3" cy="383.2" r="9" fill="url(#sR)"/>
<circle cx="2508.1" cy="380.9" r="9" fill="url(#sR)"/>
<circle cx="2515.8" cy="378.6" r="9" fill="url(#sR)"/>
<circle cx="2523.6" cy="376.3" r="9" fill="url(#sR)"/>
<circle cx="2531.4" cy="374" r="9" fill="url(#sR)"/>
<circle cx="2539.2" cy="371.7" r="9" fill="url(#sR)"/>
<circle cx="2547" cy="369.3" r="9" fill="url(#sR)"/>
<circle cx="2554.8" cy="367" r="9" fill="url(#sR)"/>
<circle cx="2562.6" cy="364.6" r="9" fill="url(#sR)"/>
<circle cx="2570.4" cy="362.3" r="9" fill="url(#sR)"/>
<circle cx="2578.2" cy="359.9" r="9" fill="url(#sR)"/>
<circle cx="2586" cy="357.5" r="9" fill="url(#sR)"/>
<circle cx="2593.7" cy="355.1" r="9" fill="url(#sR)"/>
<circle cx="2601.5" cy="352.7" r="9" fill="url(#sR)"/>
<circle cx="2609.3" cy="350.3" r="9" fill="url(#sR)"/>
<circle cx="2617.1" cy="347.8" r="9" fill="url(#sR)"/>
<circle cx="2624.9" cy="345.4" r="9" fill="url(#sR)"/>
<circle cx="2632.7" cy="343" r="9" fill="url(#sR)"/>
<circle cx="2640.5" cy="340.5" r="9" fill="url(#sR)"/>
<circle cx="2648.3" cy="338" r="9" fill="url(#sR)"/>
<circle cx="2656.1" cy="335.6" r="9" fill="url(#sR)"/>
<circle cx="2663.9" cy="333.1" r="9" fill="url(#sR)"/>
<circle cx="2671.6" cy="330.6" r="9" fill="url(#sR)"/>
<circle cx="2679.4" cy="328.1" r="9" fill="url(#sR)"/>
<circle cx="2687.2" cy="325.6" r="9" fill="url(#sR)"/>
<circle cx="2695" cy="323" r="9" fill="url(#sR)"/>
<circle cx="2702.8" cy="320.5" r="9" fill="url(#sR)"/>
<rect x="2116.4" y="118" width="750.6" height="604.4" fill="none" stroke="#000" stroke-width="3.7"/>
<line x1="2116.4" y1="722.4" x2="2116.4" y2="733.9" stroke="#000" stroke-width="3.7" stroke-linecap="butt"/>
<line x1="2304.1" y1="722.4" x2="2304.1" y2="733.9" stroke="#000" stroke-width="3.7" stroke-linecap="butt"/>
<line x1="2491.7" y1="722.4" x2="2491.7" y2="733.9" stroke="#000" stroke-width="3.7" stroke-linecap="butt"/>
<line x1="2679.4" y1="722.4" x2="2679.4" y2="733.9" stroke="#000" stroke-width="3.7" stroke-linecap="butt"/>
<line x1="2867" y1="722.4" x2="2867" y2="733.9" stroke="#000" stroke-width="3.7" stroke-linecap="butt"/>
<line x1="2210.2" y1="722.4" x2="2210.2" y2="727.9" stroke="#000" stroke-width="3.7" stroke-linecap="butt"/>
<line x1="2397.9" y1="722.4" x2="2397.9" y2="727.9" stroke="#000" stroke-width="3.7" stroke-linecap="butt"/>
<line x1="2585.6" y1="722.4" x2="2585.6" y2="727.9" stroke="#000" stroke-width="3.7" stroke-linecap="butt"/>
<line x1="2773.2" y1="722.4" x2="2773.2" y2="727.9" stroke="#000" stroke-width="3.7" stroke-linecap="butt"/>
<text transform="translate(2116.4 777.4) scale(1.060 1)" font-size="42" text-anchor="middle" fill="#000" font-weight="bold">0.6</text>
<text transform="translate(2304.1 777.4) scale(1.060 1)" font-size="42" text-anchor="middle" fill="#000" font-weight="bold">0.8</text>
<text transform="translate(2491.7 777.4) scale(1.060 1)" font-size="42" text-anchor="middle" fill="#000" font-weight="bold">1.0</text>
<text transform="translate(2679.4 777.4) scale(1.060 1)" font-size="42" text-anchor="middle" fill="#000" font-weight="bold">1.2</text>
<text transform="translate(2867 777.4) scale(1.060 1)" font-size="42" text-anchor="middle" fill="#000" font-weight="bold">1.4</text>
<line x1="2105.4" y1="722.4" x2="2116.4" y2="722.4" stroke="#000" stroke-width="3.7" stroke-linecap="butt"/>
<line x1="2105.4" y1="528.9" x2="2116.4" y2="528.9" stroke="#000" stroke-width="3.7" stroke-linecap="butt"/>
<line x1="2105.4" y1="335.4" x2="2116.4" y2="335.4" stroke="#000" stroke-width="3.7" stroke-linecap="butt"/>
<line x1="2105.4" y1="141.9" x2="2116.4" y2="141.9" stroke="#000" stroke-width="3.7" stroke-linecap="butt"/>
<line x1="2110.9" y1="625.6" x2="2116.4" y2="625.6" stroke="#000" stroke-width="3.7" stroke-linecap="butt"/>
<line x1="2110.9" y1="432.1" x2="2116.4" y2="432.1" stroke="#000" stroke-width="3.7" stroke-linecap="butt"/>
<line x1="2110.9" y1="238.6" x2="2116.4" y2="238.6" stroke="#000" stroke-width="3.7" stroke-linecap="butt"/>
<text transform="translate(2094.4 734.4) scale(1.070 1)" font-size="41" text-anchor="end" fill="#000" font-weight="bold">0.00</text>
<text transform="translate(2094.4 540.9) scale(1.070 1)" font-size="41" text-anchor="end" fill="#000" font-weight="bold">0.04</text>
<text transform="translate(2094.4 347.4) scale(1.070 1)" font-size="41" text-anchor="end" fill="#000" font-weight="bold">0.08</text>
<text transform="translate(2094.4 153.9) scale(1.070 1)" font-size="41" text-anchor="end" fill="#000" font-weight="bold">0.12</text>
<text x="1986.5" y="407" font-size="45.3" text-anchor="middle" fill="#000" font-weight="bold" transform="rotate(-90 1986.5 407)">E (V vs. RHE)</text>
<text x="2492.3" y="849" font-size="45.3" text-anchor="middle" fill="#000" font-weight="bold"><tspan>log </tspan><tspan font-style="italic">j</tspan><tspan> (mA cm</tspan><tspan font-size="31.7" dy="-19">-2</tspan><tspan dy="19">)</tspan></text>
<text x="1949" y="145.2" font-size="108" text-anchor="start" fill="#000" font-weight="bold">c</text>
<circle cx="2140.5" cy="146.7" r="9.5" fill="url(#sR)"/>
<text transform="translate(2179 154.8) scale(1.075 1)" font-size="30.4" text-anchor="start" fill="#000" font-weight="bold"><tspan>FeP@NiCoP/Mo</tspan><tspan font-size="21.3" dy="8.5">4</tspan><tspan dy="-8.5">P</tspan><tspan font-size="21.3" dy="8.5">3</tspan><tspan dy="-8.5"></tspan></text>
<circle cx="2140.5" cy="187.2" r="9.5" fill="url(#sT)"/>
<text transform="translate(2179 194.9) scale(1.075 1)" font-size="30.4" text-anchor="start" fill="#000" font-weight="bold"><tspan>NiCoP/Mo</tspan><tspan font-size="21.3" dy="8.5">4</tspan><tspan dy="-8.5">P</tspan><tspan font-size="21.3" dy="8.5">3</tspan><tspan dy="-8.5"></tspan></text>
<circle cx="2140.5" cy="227.7" r="9.5" fill="url(#sB)"/>
<text transform="translate(2179 235.4) scale(1.075 1)" font-size="30.4" text-anchor="start" fill="#000" font-weight="bold">FeP@NiCoP</text>
<circle cx="2140.5" cy="268.6" r="9.5" fill="url(#sO)"/>
<text transform="translate(2179 275.9) scale(1.075 1)" font-size="30.4" text-anchor="start" fill="#000" font-weight="bold">FeP</text>
<circle cx="2140.5" cy="309.6" r="9.5" fill="url(#sG)"/>
<text transform="translate(2179 317.3) scale(1.075 1)" font-size="30.4" text-anchor="start" fill="#000" font-weight="bold">Pt/C</text>
<text transform="translate(2687.5 192.3) rotate(-19.2) scale(1.050 1)" font-size="31.5" text-anchor="middle" fill="#3a83c8" font-weight="bold"><tspan>76.3 mV dec</tspan><tspan font-size="22" dy="-13.2">-1</tspan><tspan dy="13.2"></tspan></text>
<text transform="translate(2769 273.5) rotate(-22.1) scale(1.050 1)" font-size="31.5" text-anchor="middle" fill="#4fa39a" font-weight="bold"><tspan>69.7 mV dec</tspan><tspan font-size="22" dy="-13.2">-1</tspan><tspan dy="13.2"></tspan></text>
<text transform="translate(2490.7 439) rotate(-15) scale(1.050 1)" font-size="31.5" text-anchor="middle" fill="#d7336c" font-weight="bold"><tspan>59.7 mV dec</tspan><tspan font-size="22" dy="-13.2">-1</tspan><tspan dy="13.2"></tspan></text>
<text transform="translate(2258.3 420) rotate(-25.5) scale(1.050 1)" font-size="31.5" text-anchor="middle" fill="#f6b07e" font-weight="bold"><tspan>111.6 mV dec</tspan><tspan font-size="22" dy="-13.2">-1</tspan><tspan dy="13.2"></tspan></text>
<text transform="translate(2419 615) rotate(-15.5) scale(1.050 1)" font-size="31.5" text-anchor="middle" fill="#9bb267" font-weight="bold"><tspan>49.6 mV dec</tspan><tspan font-size="22" dy="-13.2">-1</tspan><tspan dy="13.2"></tspan></text>
<rect x="225" y="885" width="749.2" height="605" fill="url(#bgD)"/>
<clipPath id="clipD"><rect x="225" y="885" width="749.2" height="605"/></clipPath>
<g clip-path="url(#clipD)">
<circle cx="236.5" cy="1489" r="12" fill="url(#sB)"/>
<circle cx="237.1" cy="1487.5" r="12" fill="url(#sB)"/>
<circle cx="237.6" cy="1486" r="12" fill="url(#sB)"/>
<circle cx="238.2" cy="1484.4" r="12" fill="url(#sB)"/>
<circle cx="238.8" cy="1482.8" r="12" fill="url(#sB)"/>
<circle cx="239.4" cy="1481.2" r="12" fill="url(#sB)"/>
<circle cx="240" cy="1479.5" r="12" fill="url(#sB)"/>
<circle cx="240.7" cy="1477.8" r="12" fill="url(#sB)"/>
<circle cx="241.3" cy="1476.1" r="12" fill="url(#sB)"/>
<circle cx="242" cy="1474.3" r="12" fill="url(#sB)"/>
<circle cx="242.6" cy="1472.4" r="12" fill="url(#sB)"/>
<circle cx="243.3" cy="1470.6" r="12" fill="url(#sB)"/>
<circle cx="244.1" cy="1468.6" r="12" fill="url(#sB)"/>
<circle cx="244.8" cy="1466.7" r="12" fill="url(#sB)"/>
<circle cx="245.5" cy="1464.6" r="12" fill="url(#sB)"/>
<circle cx="246.3" cy="1462.5" r="12" fill="url(#sB)"/>
<circle cx="247.1" cy="1460.4" r="12" fill="url(#sB)"/>
<circle cx="247.9" cy="1458.2" r="12" fill="url(#sB)"/>
<circle cx="249" cy="1456" r="12" fill="url(#sB)"/>
<circle cx="250.1" cy="1453.8" r="12" fill="url(#sB)"/>
<circle cx="251.3" cy="1451.4" r="12" fill="url(#sB)"/>
<circle cx="252.5" cy="1449" r="12" fill="url(#sB)"/>
<circle cx="253.7" cy="1446.6" r="12" fill="url(#sB)"/>
<circle cx="255" cy="1444" r="12" fill="url(#sB)"/>
<circle cx="256.3" cy="1441.4" r="12" fill="url(#sB)"/>
<circle cx="257.7" cy="1438.6" r="12" fill="url(#sB)"/>
<circle cx="259.1" cy="1435.7" r="12" fill="url(#sB)"/>
<circle cx="260.6" cy="1432.7" r="12" fill="url(#sB)"/>
<circle cx="262.2" cy="1429.6" r="12" fill="url(#sB)"/>
<circle cx="263.9" cy="1426.4" r="12" fill="url(#sB)"/>
<circle cx="265.6" cy="1423" r="12" fill="url(#sB)"/>
<circle cx="267.5" cy="1419.4" r="12" fill="url(#sB)"/>
<circle cx="269.4" cy="1415.7" r="12" fill="url(#sB)"/>
<circle cx="271.5" cy="1411.7" r="12" fill="url(#sB)"/>
<circle cx="273.6" cy="1407.5" r="12" fill="url(#sB)"/>
<circle cx="275.9" cy="1403.1" r="12" fill="url(#sB)"/>
<circle cx="278.5" cy="1398.4" r="12" fill="url(#sB)"/>
<circle cx="281.4" cy="1393.5" r="12" fill="url(#sB)"/>
<circle cx="284.4" cy="1388.1" r="12" fill="url(#sB)"/>
<circle cx="287.7" cy="1382.4" r="12" fill="url(#sB)"/>
<circle cx="291.3" cy="1376.1" r="12" fill="url(#sB)"/>
<circle cx="295.6" cy="1369.5" r="12" fill="url(#sB)"/>
<circle cx="300.4" cy="1362.1" r="12" fill="url(#sB)"/>
<circle cx="305.7" cy="1354" r="12" fill="url(#sB)"/>
<circle cx="312.5" cy="1345.2" r="12" fill="url(#sB)"/>
<circle cx="323.8" cy="1331.4" r="12" fill="url(#sB)"/>
<circle cx="339.1" cy="1317.1" r="12" fill="url(#sB)"/>
<circle cx="355.8" cy="1300.4" r="12" fill="url(#sB)"/>
<circle cx="375.4" cy="1281.3" r="12" fill="url(#sB)"/>
<circle cx="400.2" cy="1265.5" r="12" fill="url(#sB)"/>
<circle cx="426.5" cy="1253.6" r="12" fill="url(#sB)"/>
<circle cx="457.5" cy="1244" r="12" fill="url(#sB)"/>
<circle cx="487.1" cy="1234.5" r="12" fill="url(#sB)"/>
<circle cx="520.5" cy="1227.8" r="12" fill="url(#sB)"/>
<circle cx="550.6" cy="1232.1" r="12" fill="url(#sB)"/>
<circle cx="586" cy="1234.5" r="12" fill="url(#sB)"/>
<circle cx="613.7" cy="1240.7" r="12" fill="url(#sB)"/>
<circle cx="641.4" cy="1245.5" r="12" fill="url(#sB)"/>
<circle cx="661.4" cy="1258.4" r="12" fill="url(#sB)"/>
<circle cx="702" cy="1288.5" r="12" fill="url(#sB)"/>
<circle cx="728.7" cy="1306.6" r="12" fill="url(#sB)"/>
<circle cx="753.1" cy="1334.8" r="12" fill="url(#sB)"/>
<circle cx="238" cy="1489" r="12" fill="url(#sT)"/>
<circle cx="238.6" cy="1487.5" r="12" fill="url(#sT)"/>
<circle cx="239.1" cy="1486" r="12" fill="url(#sT)"/>
<circle cx="239.7" cy="1484.4" r="12" fill="url(#sT)"/>
<circle cx="240.4" cy="1482.8" r="12" fill="url(#sT)"/>
<circle cx="241" cy="1481.1" r="12" fill="url(#sT)"/>
<circle cx="241.6" cy="1479.4" r="12" fill="url(#sT)"/>
<circle cx="242.3" cy="1477.7" r="12" fill="url(#sT)"/>
<circle cx="243" cy="1475.9" r="12" fill="url(#sT)"/>
<circle cx="243.7" cy="1474.1" r="12" fill="url(#sT)"/>
<circle cx="244.4" cy="1472.2" r="12" fill="url(#sT)"/>
<circle cx="245.1" cy="1470.2" r="12" fill="url(#sT)"/>
<circle cx="245.9" cy="1468.2" r="12" fill="url(#sT)"/>
<circle cx="246.7" cy="1466.1" r="12" fill="url(#sT)"/>
<circle cx="247.5" cy="1463.9" r="12" fill="url(#sT)"/>
<circle cx="248.4" cy="1461.7" r="12" fill="url(#sT)"/>
<circle cx="249.3" cy="1459.4" r="12" fill="url(#sT)"/>
<circle cx="250.4" cy="1457.1" r="12" fill="url(#sT)"/>
<circle cx="251.6" cy="1454.7" r="12" fill="url(#sT)"/>
<circle cx="252.8" cy="1452.1" r="12" fill="url(#sT)"/>
<circle cx="254" cy="1449.5" r="12" fill="url(#sT)"/>
<circle cx="255.4" cy="1446.8" r="12" fill="url(#sT)"/>
<circle cx="256.7" cy="1443.9" r="12" fill="url(#sT)"/>
<circle cx="258.2" cy="1440.9" r="12" fill="url(#sT)"/>
<circle cx="259.7" cy="1437.8" r="12" fill="url(#sT)"/>
<circle cx="261.3" cy="1434.5" r="12" fill="url(#sT)"/>
<circle cx="263.1" cy="1431" r="12" fill="url(#sT)"/>
<circle cx="265.1" cy="1427.4" r="12" fill="url(#sT)"/>
<circle cx="267.3" cy="1423.6" r="12" fill="url(#sT)"/>
<circle cx="269.6" cy="1419.5" r="12" fill="url(#sT)"/>
<circle cx="272" cy="1415.1" r="12" fill="url(#sT)"/>
<circle cx="274.7" cy="1410.3" r="12" fill="url(#sT)"/>
<circle cx="277.9" cy="1405.3" r="12" fill="url(#sT)"/>
<circle cx="281.6" cy="1400" r="12" fill="url(#sT)"/>
<circle cx="285.6" cy="1394.2" r="12" fill="url(#sT)"/>
<circle cx="290.2" cy="1387.8" r="12" fill="url(#sT)"/>
<circle cx="296.3" cy="1381.3" r="12" fill="url(#sT)"/>
<circle cx="303.2" cy="1373.8" r="12" fill="url(#sT)"/>
<circle cx="315.2" cy="1363.7" r="12" fill="url(#sT)"/>
<circle cx="329.5" cy="1348.2" r="12" fill="url(#sT)"/>
<circle cx="351" cy="1332.9" r="12" fill="url(#sT)"/>
<circle cx="372.5" cy="1317.1" r="12" fill="url(#sT)"/>
<circle cx="397.8" cy="1302.8" r="12" fill="url(#sT)"/>
<circle cx="425" cy="1290.8" r="12" fill="url(#sT)"/>
<circle cx="456.1" cy="1283.7" r="12" fill="url(#sT)"/>
<circle cx="494.3" cy="1280.3" r="12" fill="url(#sT)"/>
<circle cx="526.7" cy="1289.9" r="12" fill="url(#sT)"/>
<circle cx="560.2" cy="1298" r="12" fill="url(#sT)"/>
<circle cx="596.9" cy="1313.8" r="12" fill="url(#sT)"/>
<circle cx="616" cy="1326.7" r="12" fill="url(#sT)"/>
<circle cx="638.5" cy="1345.8" r="12" fill="url(#sT)"/>
<circle cx="656.6" cy="1364.9" r="12" fill="url(#sT)"/>
<circle cx="669.5" cy="1385.4" r="12" fill="url(#sT)"/>
<circle cx="248.3" cy="1489" r="12" fill="url(#sR)"/>
<circle cx="248.8" cy="1487.6" r="12" fill="url(#sR)"/>
<circle cx="249.3" cy="1486.1" r="12" fill="url(#sR)"/>
<circle cx="249.8" cy="1484.6" r="12" fill="url(#sR)"/>
<circle cx="250.3" cy="1483" r="12" fill="url(#sR)"/>
<circle cx="250.8" cy="1481.4" r="12" fill="url(#sR)"/>
<circle cx="251.4" cy="1479.8" r="12" fill="url(#sR)"/>
<circle cx="252" cy="1478.1" r="12" fill="url(#sR)"/>
<circle cx="252.6" cy="1476.3" r="12" fill="url(#sR)"/>
<circle cx="253.2" cy="1474.4" r="12" fill="url(#sR)"/>
<circle cx="253.9" cy="1472.5" r="12" fill="url(#sR)"/>
<circle cx="254.5" cy="1470.5" r="12" fill="url(#sR)"/>
<circle cx="255.2" cy="1468.4" r="12" fill="url(#sR)"/>
<circle cx="256" cy="1466.3" r="12" fill="url(#sR)"/>
<circle cx="256.7" cy="1464" r="12" fill="url(#sR)"/>
<circle cx="257.6" cy="1461.6" r="12" fill="url(#sR)"/>
<circle cx="258.6" cy="1459.2" r="12" fill="url(#sR)"/>
<circle cx="259.8" cy="1456.7" r="12" fill="url(#sR)"/>
<circle cx="260.9" cy="1454" r="12" fill="url(#sR)"/>
<circle cx="262.2" cy="1451.1" r="12" fill="url(#sR)"/>
<circle cx="263.5" cy="1448.1" r="12" fill="url(#sR)"/>
<circle cx="265" cy="1444.9" r="12" fill="url(#sR)"/>
<circle cx="266.5" cy="1441.5" r="12" fill="url(#sR)"/>
<circle cx="268.5" cy="1437.9" r="12" fill="url(#sR)"/>
<circle cx="270.5" cy="1434" r="12" fill="url(#sR)"/>
<circle cx="272.8" cy="1429.8" r="12" fill="url(#sR)"/>
<circle cx="275.3" cy="1425.1" r="12" fill="url(#sR)"/>
<circle cx="278.8" cy="1420.5" r="12" fill="url(#sR)"/>
<circle cx="283.6" cy="1416.1" r="12" fill="url(#sR)"/>
<circle cx="289" cy="1411" r="12" fill="url(#sR)"/>
<circle cx="298.4" cy="1402.7" r="12" fill="url(#sR)"/>
<circle cx="306.6" cy="1391.7" r="12" fill="url(#sR)"/>
<circle cx="317.2" cy="1382.5" r="12" fill="url(#sR)"/>
<circle cx="329.7" cy="1373.5" r="12" fill="url(#sR)"/>
<circle cx="344.2" cy="1365.5" r="12" fill="url(#sR)"/>
<circle cx="360.1" cy="1358.5" r="12" fill="url(#sR)"/>
<circle cx="376.4" cy="1352.6" r="12" fill="url(#sR)"/>
<circle cx="391.9" cy="1347.5" r="12" fill="url(#sR)"/>
<circle cx="410.2" cy="1342" r="12" fill="url(#sR)"/>
<circle cx="429.8" cy="1337.2" r="12" fill="url(#sR)"/>
<circle cx="446.5" cy="1341.9" r="12" fill="url(#sR)"/>
<circle cx="469.4" cy="1351.5" r="12" fill="url(#sR)"/>
<circle cx="488.1" cy="1363.9" r="12" fill="url(#sR)"/>
<circle cx="511" cy="1382.5" r="12" fill="url(#sR)"/>
<circle cx="528.7" cy="1403.1" r="12" fill="url(#sR)"/>
<circle cx="239.5" cy="1489" r="12" fill="url(#sO)"/>
<circle cx="240.1" cy="1487.6" r="12" fill="url(#sO)"/>
<circle cx="240.7" cy="1486.2" r="12" fill="url(#sO)"/>
<circle cx="241.3" cy="1484.7" r="12" fill="url(#sO)"/>
<circle cx="241.9" cy="1483.2" r="12" fill="url(#sO)"/>
<circle cx="242.5" cy="1481.6" r="12" fill="url(#sO)"/>
<circle cx="243.2" cy="1480" r="12" fill="url(#sO)"/>
<circle cx="243.9" cy="1478.3" r="12" fill="url(#sO)"/>
<circle cx="244.6" cy="1476.6" r="12" fill="url(#sO)"/>
<circle cx="245.3" cy="1474.8" r="12" fill="url(#sO)"/>
<circle cx="246.1" cy="1472.9" r="12" fill="url(#sO)"/>
<circle cx="246.9" cy="1471" r="12" fill="url(#sO)"/>
<circle cx="247.7" cy="1469" r="12" fill="url(#sO)"/>
<circle cx="248.6" cy="1466.9" r="12" fill="url(#sO)"/>
<circle cx="249.5" cy="1464.7" r="12" fill="url(#sO)"/>
<circle cx="250.4" cy="1462.4" r="12" fill="url(#sO)"/>
<circle cx="251.4" cy="1459.9" r="12" fill="url(#sO)"/>
<circle cx="252.4" cy="1457.4" r="12" fill="url(#sO)"/>
<circle cx="253.4" cy="1454.6" r="12" fill="url(#sO)"/>
<circle cx="254.4" cy="1451.8" r="12" fill="url(#sO)"/>
<circle cx="255.5" cy="1448.7" r="12" fill="url(#sO)"/>
<circle cx="256.8" cy="1445.5" r="12" fill="url(#sO)"/>
<circle cx="258.6" cy="1442.3" r="12" fill="url(#sO)"/>
<circle cx="260.7" cy="1438.9" r="12" fill="url(#sO)"/>
<circle cx="262.8" cy="1435.2" r="12" fill="url(#sO)"/>
<circle cx="265.1" cy="1431.1" r="12" fill="url(#sO)"/>
<circle cx="267.2" cy="1426.5" r="12" fill="url(#sO)"/>
<circle cx="269.6" cy="1421.3" r="12" fill="url(#sO)"/>
<circle cx="272.2" cy="1415.6" r="12" fill="url(#sO)"/>
<circle cx="275.6" cy="1409.4" r="12" fill="url(#sO)"/>
<circle cx="279.7" cy="1402.4" r="12" fill="url(#sO)"/>
<circle cx="281.8" cy="1386.4" r="12" fill="url(#sO)"/>
<circle cx="289.9" cy="1371.1" r="12" fill="url(#sO)"/>
<circle cx="299.4" cy="1352.9" r="12" fill="url(#sO)"/>
<circle cx="311.8" cy="1333.8" r="12" fill="url(#sO)"/>
<circle cx="324.7" cy="1313.8" r="12" fill="url(#sO)"/>
<circle cx="340" cy="1287.5" r="12" fill="url(#sO)"/>
<circle cx="358.2" cy="1258.8" r="12" fill="url(#sO)"/>
<circle cx="381.1" cy="1230.2" r="12" fill="url(#sO)"/>
<circle cx="412.1" cy="1202.5" r="12" fill="url(#sO)"/>
<circle cx="450.3" cy="1170" r="12" fill="url(#sO)"/>
<circle cx="490.4" cy="1139" r="12" fill="url(#sO)"/>
<circle cx="533.9" cy="1121.3" r="12" fill="url(#sO)"/>
<circle cx="580.2" cy="1106" r="12" fill="url(#sO)"/>
<circle cx="628.9" cy="1108.4" r="12" fill="url(#sO)"/>
<circle cx="689.1" cy="1124.6" r="12" fill="url(#sO)"/>
<circle cx="735.9" cy="1154.7" r="12" fill="url(#sO)"/>
<circle cx="772.7" cy="1187.2" r="12" fill="url(#sO)"/>
<circle cx="806.1" cy="1227.8" r="12" fill="url(#sO)"/>
</g>
<rect x="225" y="885" width="749.2" height="605" fill="none" stroke="#000" stroke-width="3.7"/>
<line x1="229.7" y1="1490" x2="229.7" y2="1500.5" stroke="#000" stroke-width="3.7" stroke-linecap="butt"/>
<line x1="322.8" y1="1490" x2="322.8" y2="1500.5" stroke="#000" stroke-width="3.7" stroke-linecap="butt"/>
<line x1="415.8" y1="1490" x2="415.8" y2="1500.5" stroke="#000" stroke-width="3.7" stroke-linecap="butt"/>
<line x1="508.9" y1="1490" x2="508.9" y2="1500.5" stroke="#000" stroke-width="3.7" stroke-linecap="butt"/>
<line x1="601.9" y1="1490" x2="601.9" y2="1500.5" stroke="#000" stroke-width="3.7" stroke-linecap="butt"/>
<line x1="695" y1="1490" x2="695" y2="1500.5" stroke="#000" stroke-width="3.7" stroke-linecap="butt"/>
<line x1="788.1" y1="1490" x2="788.1" y2="1500.5" stroke="#000" stroke-width="3.7" stroke-linecap="butt"/>
<line x1="881.1" y1="1490" x2="881.1" y2="1500.5" stroke="#000" stroke-width="3.7" stroke-linecap="butt"/>
<line x1="974.2" y1="1490" x2="974.2" y2="1500.5" stroke="#000" stroke-width="3.7" stroke-linecap="butt"/>
<line x1="276.2" y1="1490" x2="276.2" y2="1495" stroke="#000" stroke-width="3.7" stroke-linecap="butt"/>
<line x1="369.3" y1="1490" x2="369.3" y2="1495" stroke="#000" stroke-width="3.7" stroke-linecap="butt"/>
<line x1="462.3" y1="1490" x2="462.3" y2="1495" stroke="#000" stroke-width="3.7" stroke-linecap="butt"/>
<line x1="555.4" y1="1490" x2="555.4" y2="1495" stroke="#000" stroke-width="3.7" stroke-linecap="butt"/>
<line x1="648.5" y1="1490" x2="648.5" y2="1495" stroke="#000" stroke-width="3.7" stroke-linecap="butt"/>
<line x1="741.5" y1="1490" x2="741.5" y2="1495" stroke="#000" stroke-width="3.7" stroke-linecap="butt"/>
<line x1="834.6" y1="1490" x2="834.6" y2="1495" stroke="#000" stroke-width="3.7" stroke-linecap="butt"/>
<line x1="927.6" y1="1490" x2="927.6" y2="1495" stroke="#000" stroke-width="3.7" stroke-linecap="butt"/>
<text x="229.7" y="1544" font-size="42.5" text-anchor="middle" fill="#000" font-weight="bold">0</text>
<text x="322.8" y="1544" font-size="42.5" text-anchor="middle" fill="#000" font-weight="bold">10</text>
<text x="415.8" y="1544" font-size="42.5" text-anchor="middle" fill="#000" font-weight="bold">20</text>
<text x="508.9" y="1544" font-size="42.5" text-anchor="middle" fill="#000" font-weight="bold">30</text>
<text x="601.9" y="1544" font-size="42.5" text-anchor="middle" fill="#000" font-weight="bold">40</text>
<text x="695" y="1544" font-size="42.5" text-anchor="middle" fill="#000" font-weight="bold">50</text>
<text x="788.1" y="1544" font-size="42.5" text-anchor="middle" fill="#000" font-weight="bold">60</text>
<text x="881.1" y="1544" font-size="42.5" text-anchor="middle" fill="#000" font-weight="bold">70</text>
<text x="974.2" y="1544" font-size="42.5" text-anchor="middle" fill="#000" font-weight="bold">80</text>
<line x1="214" y1="1489.9" x2="225" y2="1489.9" stroke="#000" stroke-width="3.7" stroke-linecap="butt"/>
<line x1="214" y1="1369" x2="225" y2="1369" stroke="#000" stroke-width="3.7" stroke-linecap="butt"/>
<line x1="214" y1="1248" x2="225" y2="1248" stroke="#000" stroke-width="3.7" stroke-linecap="butt"/>
<line x1="214" y1="1127.1" x2="225" y2="1127.1" stroke="#000" stroke-width="3.7" stroke-linecap="butt"/>
<line x1="214" y1="1006.1" x2="225" y2="1006.1" stroke="#000" stroke-width="3.7" stroke-linecap="butt"/>
<line x1="214" y1="885.2" x2="225" y2="885.2" stroke="#000" stroke-width="3.7" stroke-linecap="butt"/>
<line x1="220" y1="1429.4" x2="225" y2="1429.4" stroke="#000" stroke-width="3.7" stroke-linecap="butt"/>
<line x1="220" y1="1308.5" x2="225" y2="1308.5" stroke="#000" stroke-width="3.7" stroke-linecap="butt"/>
<line x1="220" y1="1187.5" x2="225" y2="1187.5" stroke="#000" stroke-width="3.7" stroke-linecap="butt"/>
<line x1="220" y1="1066.6" x2="225" y2="1066.6" stroke="#000" stroke-width="3.7" stroke-linecap="butt"/>
<line x1="220" y1="945.6" x2="225" y2="945.6" stroke="#000" stroke-width="3.7" stroke-linecap="butt"/>
<text x="203" y="1501.4" font-size="42.5" text-anchor="end" fill="#000" font-weight="bold">0</text>
<text x="203" y="1380.5" font-size="42.5" text-anchor="end" fill="#000" font-weight="bold">10</text>
<text x="203" y="1259.5" font-size="42.5" text-anchor="end" fill="#000" font-weight="bold">20</text>
<text x="203" y="1138.6" font-size="42.5" text-anchor="end" fill="#000" font-weight="bold">30</text>
<text x="203" y="1017.6" font-size="42.5" text-anchor="end" fill="#000" font-weight="bold">40</text>
<text x="203" y="896.7" font-size="42.5" text-anchor="end" fill="#000" font-weight="bold">50</text>
<text x="54.5" y="924.5" font-size="108.5" text-anchor="start" fill="#000" font-weight="bold">d</text>
<text x="110" y="1172.6" font-size="45.3" text-anchor="middle" fill="#000" font-weight="bold" transform="rotate(-90 110 1172.6)"><tspan>-Z'' (</tspan><tspan font-family="Liberation Serif, serif" font-weight="normal">Ω</tspan><tspan>)</tspan></text>
<text x="598" y="1613" font-size="45.3" text-anchor="middle" fill="#000" font-weight="bold"><tspan>Z' (</tspan><tspan font-family="Liberation Serif, serif" font-weight="normal">Ω</tspan><tspan>)</tspan></text>
<circle cx="282.9" cy="921.3" r="12" fill="url(#sR)"/>
<text transform="translate(340.7 934.2) scale(1.068 1)" font-size="37" text-anchor="start" fill="#000" font-weight="bold"><tspan>FeP@NiCoP/Mo</tspan><tspan font-size="25.9" dy="10.4">4</tspan><tspan dy="-10.4">P</tspan><tspan font-size="25.9" dy="10.4">3</tspan><tspan dy="-10.4"></tspan></text>
<circle cx="282.9" cy="976.3" r="12" fill="url(#sT)"/>
<text transform="translate(340.7 989.2) scale(1.068 1)" font-size="37" text-anchor="start" fill="#000" font-weight="bold"><tspan>NiCoP/Mo</tspan><tspan font-size="25.9" dy="10.4">4</tspan><tspan dy="-10.4">P</tspan><tspan font-size="25.9" dy="10.4">3</tspan><tspan dy="-10.4"></tspan></text>
<circle cx="282.9" cy="1029.3" r="12" fill="url(#sB)"/>
<text transform="translate(340.7 1042.2) scale(1.068 1)" font-size="37" text-anchor="start" fill="#000" font-weight="bold">FeP@NiCoP</text>
<circle cx="282.9" cy="1079.4" r="12" fill="url(#sO)"/>
<text transform="translate(340.7 1093.3) scale(1.068 1)" font-size="37" text-anchor="start" fill="#000" font-weight="bold">FeP</text>
<polygon points="1511.5,931 1824.9,1158.7 1705.2,1527.1 1317.8,1527.1 1198.1,1158.7" fill="#fbfbfb" stroke="#808080" stroke-width="1.1"/>
<polygon points="1511.5,1025.2 1735.2,1187.8 1649.8,1450.8 1373.2,1450.8 1287.8,1187.8" fill="none" stroke="#8a8a8a" stroke-width="0.9"/>
<polygon points="1511.5,1119.1 1645.9,1216.8 1594.6,1374.9 1428.4,1374.9 1377.1,1216.8" fill="none" stroke="#8a8a8a" stroke-width="0.9"/>
<polygon points="1511.5,1213.4 1556.3,1245.9 1539.2,1298.6 1483.8,1298.6 1466.7,1245.9" fill="none" stroke="#8a8a8a" stroke-width="0.9"/>
<line x1="1511.5" y1="1260.5" x2="1511.5" y2="931" stroke="#000" stroke-width="2.8" stroke-linecap="butt"/>
<line x1="1511.5" y1="1260.5" x2="1824.9" y2="1158.7" stroke="#000" stroke-width="2.8" stroke-linecap="butt"/>
<line x1="1511.5" y1="1260.5" x2="1705.2" y2="1527.1" stroke="#000" stroke-width="2.8" stroke-linecap="butt"/>
<line x1="1511.5" y1="1260.5" x2="1317.8" y2="1527.1" stroke="#000" stroke-width="2.8" stroke-linecap="butt"/>
<line x1="1511.5" y1="1260.5" x2="1198.1" y2="1158.7" stroke="#000" stroke-width="2.8" stroke-linecap="butt"/>
<text transform="translate(1518.7 940.8) scale(1.030 1)" font-size="25.5" text-anchor="start" fill="#000" font-weight="bold">60</text>
<text transform="translate(1518.7 1034.4) scale(1.030 1)" font-size="25.5" text-anchor="start" fill="#000" font-weight="bold">80</text>
<text transform="translate(1518.7 1128.5) scale(1.030 1)" font-size="25.5" text-anchor="start" fill="#000" font-weight="bold">100</text>
<text transform="translate(1518.7 1222.5) scale(1.030 1)" font-size="25.5" text-anchor="start" fill="#000" font-weight="bold">120</text>
<text transform="translate(1808.6 1188.6) scale(1.030 1)" font-size="25.5" text-anchor="start" fill="#000" font-weight="bold">120</text>
<text transform="translate(1702.5 1222.5) scale(1.030 1)" font-size="25.5" text-anchor="start" fill="#000" font-weight="bold">160</text>
<text transform="translate(1597.5 1257.4) scale(1.030 1)" font-size="25.5" text-anchor="start" fill="#000" font-weight="bold">200</text>
<text transform="translate(1493.4 1288.5) scale(1.030 1)" font-size="25.5" text-anchor="start" fill="#000" font-weight="bold">240</text>
<text transform="translate(1629.5 1516.2) scale(1.030 1)" font-size="25.5" text-anchor="start" fill="#000" font-weight="bold">200</text>
<text transform="translate(1561.2 1419.8) scale(1.030 1)" font-size="25.5" text-anchor="start" fill="#000" font-weight="bold">250</text>
<text transform="translate(1491.9 1325.2) scale(1.030 1)" font-size="25.5" text-anchor="start" fill="#000" font-weight="bold">300</text>
<text transform="translate(1308.6 1484.3) scale(1.030 1)" font-size="25.5" text-anchor="start" fill="#000" font-weight="bold">60</text>
<text transform="translate(1380.2 1384) scale(1.030 1)" font-size="25.5" text-anchor="start" fill="#000" font-weight="bold">90</text>
<text transform="translate(1440.8 1281.3) scale(1.030 1)" font-size="25.5" text-anchor="start" fill="#000" font-weight="bold">120</text>
<text transform="translate(1180.6 1146.1) scale(1.030 1)" font-size="25.5" text-anchor="start" fill="#000" font-weight="bold">120</text>
<text transform="translate(1290.4 1179.6) scale(1.030 1)" font-size="25.5" text-anchor="start" fill="#000" font-weight="bold">80</text>
<text transform="translate(1397.9 1214.4) scale(1.030 1)" font-size="25.5" text-anchor="start" fill="#000" font-weight="bold">40</text>
<text transform="translate(1506.7 1245.5) scale(1.030 1)" font-size="25.5" text-anchor="start" fill="#000" font-weight="bold">0</text>
<polygon points="1511.5,987.7 1752.2,1182.3 1678.3,1490 1342.4,1493.2 1241.7,1172.8" fill="rgba(250,200,200,0.42)" stroke="#d7336c" stroke-width="4.2" stroke-linejoin="miter"/>
<polygon points="1511.5,979.1 1519.7,985 1516.6,994.6 1506.4,994.6 1503.3,985" fill="#e9604d"/>
<polygon points="1752.2,1173.7 1760.3,1179.6 1757.2,1189.3 1747.1,1189.3 1744,1179.6" fill="#e9604d"/>
<polygon points="1678.3,1481.4 1686.4,1487.4 1683.3,1497 1673.2,1497 1670.1,1487.4" fill="#e9604d"/>
<polygon points="1342.4,1484.6 1350.6,1490.6 1347.5,1500.2 1337.4,1500.2 1334.2,1490.6" fill="#e9604d"/>
<polygon points="1241.7,1164.2 1249.9,1170.2 1246.7,1179.8 1236.6,1179.8 1233.5,1170.2" fill="#e9604d"/>
<polygon points="1511.5,1095.1 1666,1210.3 1630.6,1424.4 1365.7,1461.2 1314.4,1196.5" fill="rgba(165,198,196,0.52)" stroke="#4fa39a" stroke-width="4.2" stroke-linejoin="miter"/>
<polygon points="1511.5,1086.5 1519.7,1092.4 1516.6,1102 1506.4,1102 1503.3,1092.4" fill="#4fa39a"/>
<polygon points="1666,1201.7 1674.2,1207.6 1671,1217.3 1660.9,1217.3 1657.8,1207.6" fill="#4fa39a"/>
<polygon points="1630.6,1415.8 1638.8,1421.8 1635.7,1431.4 1625.6,1431.4 1622.4,1421.8" fill="#4fa39a"/>
<polygon points="1365.7,1452.6 1373.8,1458.6 1370.7,1468.2 1360.6,1468.2 1357.5,1458.6" fill="#4fa39a"/>
<polygon points="1314.4,1187.9 1322.6,1193.8 1319.4,1203.4 1309.3,1203.4 1306.2,1193.8" fill="#4fa39a"/>
<polygon points="1511.5,1109.3 1614.3,1227.1 1598.5,1380.2 1382.5,1438 1377.4,1216.9" fill="rgba(186,246,250,0.62)" stroke="#3a86c8" stroke-width="4.2" stroke-linejoin="miter"/>
<polygon points="1511.5,1100.7 1519.7,1106.6 1516.6,1116.2 1506.4,1116.2 1503.3,1106.6" fill="#3a86c8"/>
<polygon points="1614.3,1218.5 1622.5,1224.4 1619.3,1234.1 1609.2,1234.1 1606.1,1224.4" fill="#3a86c8"/>
<polygon points="1598.5,1371.6 1606.6,1377.5 1603.5,1387.1 1593.4,1387.1 1590.3,1377.5" fill="#3a86c8"/>
<polygon points="1382.5,1429.4 1390.7,1435.4 1387.6,1445 1377.5,1445 1374.3,1435.4" fill="#3a86c8"/>
<polygon points="1377.4,1208.3 1385.6,1214.3 1382.4,1223.9 1372.3,1223.9 1369.2,1214.3" fill="#3a86c8"/>
<polygon points="1511.5,1217.7 1512.8,1260.1 1534.9,1292.8 1467.3,1321.3 1415.3,1229.2" fill="rgba(250,188,148,0.50)" stroke="#f7a96e" stroke-width="4.2" stroke-linejoin="miter"/>
<polygon points="1511.5,1209.1 1519.7,1215 1516.6,1224.6 1506.4,1224.6 1503.3,1215" fill="#f7a96e"/>
<polygon points="1512.8,1251.5 1520.9,1257.4 1517.8,1267.1 1507.7,1267.1 1504.6,1257.4" fill="#f7a96e"/>
<polygon points="1534.9,1284.2 1543.1,1290.1 1540,1299.7 1529.9,1299.7 1526.8,1290.1" fill="#f7a96e"/>
<polygon points="1467.3,1312.7 1475.5,1318.6 1472.4,1328.2 1462.3,1328.2 1459.2,1318.6" fill="#f7a96e"/>
<polygon points="1415.3,1220.6 1423.5,1226.6 1420.3,1236.2 1410.2,1236.2 1407.1,1226.6" fill="#f7a96e"/>
<text transform="translate(1551.6 1013.9) scale(1.030 1)" font-size="38" text-anchor="start" fill="#d7336c" font-weight="bold"><tspan>FeP@NiCoP/Mo</tspan><tspan font-size="26.6" dy="10.6">4</tspan><tspan dy="-10.6">P</tspan><tspan font-size="26.6" dy="10.6">3</tspan><tspan dy="-10.6"></tspan></text>
<text transform="translate(1659 1321.9) scale(1.030 1)" font-size="31.5" text-anchor="start" fill="#4fa39a" font-weight="bold" letter-spacing="0.5"><tspan>NiCoP/Mo</tspan><tspan font-size="22" dy="8.8">4</tspan><tspan dy="-8.8">P</tspan><tspan font-size="22" dy="8.8">3</tspan><tspan dy="-8.8"></tspan></text>
<text x="1386.9" y="1363.9" font-size="32" text-anchor="start" fill="#3a86c8" font-weight="bold">FeP@NiCoP</text>
<text transform="translate(1438.4 1212) scale(1.030 1)" font-size="32" text-anchor="start" fill="#f7a96e" font-weight="bold">FeP</text>
<text x="1511.7" y="884.9" font-size="32.8" text-anchor="middle" fill="#000" font-weight="bold"><tspan font-family="Liberation Serif, serif" font-weight="normal">η</tspan><tspan font-size="23" dy="9.2">10</tspan><tspan dy="-9.2"> (V vs. RHE)</tspan></text>
<text x="1873.6" y="1142.3" font-size="32.8" text-anchor="middle" fill="#000" font-weight="bold" transform="rotate(58 1873.6 1142.3)"><tspan font-family="Liberation Serif, serif" font-weight="normal">η</tspan><tspan font-size="23" dy="9.2">50</tspan><tspan dy="-9.2"> (V vs. RHE)</tspan></text>
<text x="1764.5" y="1531.5" font-size="32.8" text-anchor="middle" fill="#000" font-weight="bold" transform="rotate(-32 1764.5 1531.5)"><tspan font-family="Liberation Serif, serif" font-weight="normal">η</tspan><tspan font-size="23" dy="9.2">100</tspan><tspan dy="-9.2"> (V vs. RHE)</tspan></text>
<text x="1282.5" y="1556" font-size="32.8" text-anchor="middle" fill="#000" font-weight="bold" transform="rotate(27 1282.5 1556)"><tspan>Tafel (mV dec</tspan><tspan font-size="23" dy="-13.8">-1</tspan><tspan dy="13.8">)</tspan></text>
<text x="1154.1" y="1140.7" font-size="32.8" text-anchor="middle" fill="#000" font-weight="bold" transform="rotate(-58 1154.1 1140.7)"><tspan>S</tspan><tspan font-size="23" dy="9.2">ECSA</tspan><tspan dy="-9.2"> (cm</tspan><tspan font-size="23" dy="-13.8">2</tspan><tspan dy="13.8">)</tspan></text>
<text x="1023.6" y="924.8" font-size="108.5" text-anchor="start" fill="#000" font-weight="bold">e</text>
<rect x="2117" y="885" width="750.8" height="605" fill="url(#bgF)"/>
<line x1="2179.5" y1="1378.4" x2="2804.6" y2="938" stroke="#d7336c" stroke-width="5.5" stroke-linecap="round"/>
<line x1="2179.5" y1="1398.5" x2="2804.6" y2="1073.9" stroke="#4fa39a" stroke-width="5.5" stroke-linecap="round"/>
<line x1="2179.5" y1="1441.3" x2="2804.6" y2="1219.7" stroke="#3a83c8" stroke-width="5.5" stroke-linecap="round"/>
<line x1="2179.5" y1="1466.6" x2="2804.6" y2="1377.5" stroke="#f6b07e" stroke-width="5.5" stroke-linecap="round"/>
<circle cx="2179.5" cy="1383.9" r="12.6" fill="url(#sR)"/>
<circle cx="2304.5" cy="1281.8" r="12.6" fill="url(#sR)"/>
<circle cx="2429.5" cy="1204.1" r="12.6" fill="url(#sR)"/>
<circle cx="2554.6" cy="1115.2" r="12.6" fill="url(#sR)"/>
<circle cx="2679.6" cy="1025.3" r="12.6" fill="url(#sR)"/>
<circle cx="2804.6" cy="939" r="12.6" fill="url(#sR)"/>
<circle cx="2179.5" cy="1398.4" r="12.6" fill="url(#sT)"/>
<circle cx="2304.5" cy="1331.9" r="12.6" fill="url(#sT)"/>
<circle cx="2429.5" cy="1267.2" r="12.6" fill="url(#sT)"/>
<circle cx="2554.6" cy="1205.8" r="12.6" fill="url(#sT)"/>
<circle cx="2679.6" cy="1146.2" r="12.6" fill="url(#sT)"/>
<circle cx="2804.6" cy="1067.7" r="12.6" fill="url(#sT)"/>
<circle cx="2179.5" cy="1442.5" r="12.6" fill="url(#sB)"/>
<circle cx="2304.5" cy="1397.6" r="12.6" fill="url(#sB)"/>
<circle cx="2429.5" cy="1350.9" r="12.6" fill="url(#sB)"/>
<circle cx="2554.6" cy="1306.9" r="12.6" fill="url(#sB)"/>
<circle cx="2679.6" cy="1263.7" r="12.6" fill="url(#sB)"/>
<circle cx="2804.6" cy="1221.4" r="12.6" fill="url(#sB)"/>
<circle cx="2179.5" cy="1468.4" r="12.6" fill="url(#sO)"/>
<circle cx="2304.5" cy="1448.5" r="12.6" fill="url(#sO)"/>
<circle cx="2429.5" cy="1428.7" r="12.6" fill="url(#sO)"/>
<circle cx="2554.6" cy="1412.3" r="12.6" fill="url(#sO)"/>
<circle cx="2679.6" cy="1395.9" r="12.6" fill="url(#sO)"/>
<circle cx="2804.6" cy="1378.6" r="12.6" fill="url(#sO)"/>
<rect x="2117" y="885" width="750.8" height="605" fill="none" stroke="#000" stroke-width="3.7"/>
<line x1="2179.5" y1="1490" x2="2179.5" y2="1500.7" stroke="#000" stroke-width="3.7" stroke-linecap="butt"/>
<line x1="2304.5" y1="1490" x2="2304.5" y2="1500.7" stroke="#000" stroke-width="3.7" stroke-linecap="butt"/>
<line x1="2429.5" y1="1490" x2="2429.5" y2="1500.7" stroke="#000" stroke-width="3.7" stroke-linecap="butt"/>
<line x1="2554.6" y1="1490" x2="2554.6" y2="1500.7" stroke="#000" stroke-width="3.7" stroke-linecap="butt"/>
<line x1="2679.6" y1="1490" x2="2679.6" y2="1500.7" stroke="#000" stroke-width="3.7" stroke-linecap="butt"/>
<line x1="2804.6" y1="1490" x2="2804.6" y2="1500.7" stroke="#000" stroke-width="3.7" stroke-linecap="butt"/>
<line x1="2117" y1="1490" x2="2117" y2="1495" stroke="#000" stroke-width="3.7" stroke-linecap="butt"/>
<line x1="2242" y1="1490" x2="2242" y2="1495" stroke="#000" stroke-width="3.7" stroke-linecap="butt"/>
<line x1="2367" y1="1490" x2="2367" y2="1495" stroke="#000" stroke-width="3.7" stroke-linecap="butt"/>
<line x1="2492.1" y1="1490" x2="2492.1" y2="1495" stroke="#000" stroke-width="3.7" stroke-linecap="butt"/>
<line x1="2617.1" y1="1490" x2="2617.1" y2="1495" stroke="#000" stroke-width="3.7" stroke-linecap="butt"/>
<line x1="2742.1" y1="1490" x2="2742.1" y2="1495" stroke="#000" stroke-width="3.7" stroke-linecap="butt"/>
<line x1="2867.8" y1="1490" x2="2867.8" y2="1495" stroke="#000" stroke-width="3.7" stroke-linecap="butt"/>
<text x="2179.5" y="1544" font-size="42.5" text-anchor="middle" fill="#000" font-weight="bold">10</text>
<text x="2304.5" y="1544" font-size="42.5" text-anchor="middle" fill="#000" font-weight="bold">20</text>
<text x="2429.5" y="1544" font-size="42.5" text-anchor="middle" fill="#000" font-weight="bold">30</text>
<text x="2554.6" y="1544" font-size="42.5" text-anchor="middle" fill="#000" font-weight="bold">40</text>
<text x="2679.6" y="1544" font-size="42.5" text-anchor="middle" fill="#000" font-weight="bold">50</text>
<text x="2804.6" y="1544" font-size="42.5" text-anchor="middle" fill="#000" font-weight="bold">60</text>
<line x1="2106" y1="1490" x2="2117" y2="1490" stroke="#000" stroke-width="3.7" stroke-linecap="butt"/>
<line x1="2106" y1="1317.3" x2="2117" y2="1317.3" stroke="#000" stroke-width="3.7" stroke-linecap="butt"/>
<line x1="2106" y1="1144.5" x2="2117" y2="1144.5" stroke="#000" stroke-width="3.7" stroke-linecap="butt"/>
<line x1="2106" y1="971.8" x2="2117" y2="971.8" stroke="#000" stroke-width="3.7" stroke-linecap="butt"/>
<line x1="2112" y1="1403.6" x2="2117" y2="1403.6" stroke="#000" stroke-width="3.7" stroke-linecap="butt"/>
<line x1="2112" y1="1230.9" x2="2117" y2="1230.9" stroke="#000" stroke-width="3.7" stroke-linecap="butt"/>
<line x1="2112" y1="1058.2" x2="2117" y2="1058.2" stroke="#000" stroke-width="3.7" stroke-linecap="butt"/>
<text x="2095" y="1501.5" font-size="42.5" text-anchor="end" fill="#000" font-weight="bold">0</text>
<text x="2095" y="1328.8" font-size="42.5" text-anchor="end" fill="#000" font-weight="bold">2</text>
<text x="2095" y="1156" font-size="42.5" text-anchor="end" fill="#000" font-weight="bold">4</text>
<text x="2095" y="983.3" font-size="42.5" text-anchor="end" fill="#000" font-weight="bold">6</text>
<text x="1974.7" y="924.6" font-size="109" text-anchor="start" fill="#000" font-weight="bold">f</text>
<text x="2012" y="1175" font-size="45.3" text-anchor="middle" fill="#000" font-weight="bold" transform="rotate(-90 2012 1175)"><tspan font-family="Liberation Serif, serif" font-weight="normal">Δ</tspan><tspan font-style="italic">j</tspan><tspan> (mA cm</tspan><tspan font-size="31.7" dy="-19">-2</tspan><tspan dy="19">)</tspan></text>
<text x="2492" y="1614" font-size="45.3" text-anchor="middle" fill="#000" font-weight="bold"><tspan>Scan rates (mV s</tspan><tspan font-size="31.7" dy="-19">-1</tspan><tspan dy="19">)</tspan></text>
<circle cx="2173.3" cy="941.1" r="12" fill="url(#sR)"/>
<text transform="translate(2228.8 953.6) scale(1.075 1)" font-size="37" text-anchor="start" fill="#000" font-weight="bold"><tspan>FeP@NiCoP/Mo</tspan><tspan font-size="25.9" dy="10.4">4</tspan><tspan dy="-10.4">P</tspan><tspan font-size="25.9" dy="10.4">3</tspan><tspan dy="-10.4"></tspan></text>
<circle cx="2173.3" cy="996.2" r="12" fill="url(#sT)"/>
<text transform="translate(2228.8 1008.2) scale(1.075 1)" font-size="37" text-anchor="start" fill="#000" font-weight="bold"><tspan>NiCoP/Mo</tspan><tspan font-size="25.9" dy="10.4">4</tspan><tspan dy="-10.4">P</tspan><tspan font-size="25.9" dy="10.4">3</tspan><tspan dy="-10.4"></tspan></text>
<circle cx="2173.3" cy="1047.9" r="12" fill="url(#sB)"/>
<text transform="translate(2228.8 1060.9) scale(1.075 1)" font-size="37" text-anchor="start" fill="#000" font-weight="bold">FeP@NiCoP</text>
<circle cx="2173.3" cy="1098.2" r="12" fill="url(#sO)"/>
<text transform="translate(2228.8 1111.2) scale(1.075 1)" font-size="37" text-anchor="start" fill="#000" font-weight="bold">FeP</text>
<text transform="translate(2743 1052) rotate(-34.6) scale(1.040 1)" font-size="37.8" text-anchor="middle" fill="#d7336c" font-weight="bold"><tspan>103.6 mF cm</tspan><tspan font-size="26.5" dy="-15.9">-2</tspan><tspan dy="15.9"></tspan></text>
<text transform="translate(2731 1179) rotate(-29) scale(1.040 1)" font-size="37.8" text-anchor="middle" fill="#4fa39a" font-weight="bold"><tspan>75.8 mF cm</tspan><tspan font-size="26.5" dy="-15.9">-2</tspan><tspan dy="15.9"></tspan></text>
<text transform="translate(2723 1309) rotate(-22.5) scale(1.040 1)" font-size="37.8" text-anchor="middle" fill="#3a83c8" font-weight="bold"><tspan>51.2 mF cm</tspan><tspan font-size="26.5" dy="-15.9">-2</tspan><tspan dy="15.9"></tspan></text>
<text transform="translate(2735 1439) rotate(-10.5) scale(1.040 1)" font-size="37.8" text-anchor="middle" fill="#f6b07e" font-weight="bold"><tspan>36.2 mF cm</tspan><tspan font-size="26.5" dy="-15.9">-2</tspan><tspan dy="15.9"></tspan></text>
<rect x="219.1" y="1660" width="1695.7" height="604.9" fill="url(#bgG)"/>
<clipPath id="clipG"><rect x="219.1" y="1660" width="1697.7" height="604.9"/></clipPath>
<g clip-path="url(#clipG)">
<path d="M219.1 1763.2L223.1 1763.4L227.2 1763.9L231.2 1763.3L235.2 1763.4L239.3 1763.5L243.3 1762.9L247.4 1763.4L251.4 1763.6L255.4 1763.8L259.5 1762.9L263.5 1763.2L267.5 1762.9L271.6 1763.9L275.6 1763.8L279.7 1762.9L283.7 1764.2L287.7 1764.2L291.8 1763.8L295.8 1763.7L299.8 1763.1L303.9 1762.9L307.9 1763.7L312 1763L316 1763.2L320 1763.3L324.1 1763L328.1 1763.7L332.1 1763.6L336.2 1764.2L340.2 1763.8L344.3 1764L348.3 1763.8L352.3 1764L356.4 1763.7L360.4 1763.5L364.4 1764.5L368.5 1764.5L372.5 1764.3L376.6 1764.2L380.6 1763.6L384.6 1763.5L388.7 1763.6L392.7 1763.3L396.7 1764.3L400.8 1763.8L404.8 1764.5L408.9 1763.8L412.9 1764.7L416.9 1764.5L421 1763.3L425 1763.7L429 1764.6L433.1 1764L437.1 1764.8L441.2 1764L445.2 1763.5L449.2 1764.3L453.3 1764.6L457.3 1763.9L461.3 1763.6L465.4 1764L469.4 1764.9L473.5 1764.6L477.5 1763.7L481.5 1763.9L485.6 1763.7L489.6 1763.7L493.6 1764.7L497.7 1763.9L501.7 1764.4L505.8 1764.3L509.8 1763.9L513.8 1764.7L517.9 1763.9L521.9 1764.6L525.9 1763.9L530 1764.3L534 1764.1L538.1 1764.2L542.1 1765.1L546.1 1764.9L550.2 1764.2L554.2 1765.1L558.2 1764.1L562.3 1764.4L566.3 1765.1L570.4 1764.8L574.4 1765.2L578.4 1768.2L582.5 1767.2L586.5 1767.3L590.5 1768L594.6 1767.4L598.6 1767.3L602.7 1767L606.7 1767L610.7 1767.7L614.8 1767.3L618.8 1767.8L622.8 1767.4L626.9 1767.6L630.9 1768.3L635 1767.6L639 1767.7L643 1768.2L647.1 1767.2L651.1 1767.2L655.1 1768.2L659.2 1768.1L663.2 1767.3L667.2 1767.2L671.3 1768L675.3 1768.3L679.4 1767.2L683.4 1768.3L687.4 1768.2L691.5 1767.8L695.5 1767.6L699.5 1767.1L703.6 1767L707.6 1768.3L711.7 1767.3L715.7 1768L719.7 1767.3L723.8 1768.1L727.8 1767.8L731.8 1767.4L735.9 1767.2L739.9 1768L744 1767.1L748 1767.3L752 1767.8L756.1 1768.2L760.1 1767.9L764.1 1767.4L768.2 1768.3L772.2 1767.3L776.3 1767L780.3 1767.4L784.3 1767.6L788.4 1767.1L792.4 1767.3L796.4 1767.5L800.5 1767.8L804.5 1767.2L808.6 1767.5L812.6 1768.3L816.6 1768.4L820.7 1768L824.7 1768L828.7 1767.9L832.8 1767.3L836.8 1767.1L840.9 1767.1L844.9 1768.3L848.9 1768L853 1768.4L857 1767.1L861 1768L865.1 1767.7L869.1 1768.1L873.2 1767.5L877.2 1768.5L881.2 1767.2L885.3 1767.9L889.3 1768.1L893.3 1768.4L897.4 1768.1L901.4 1768.1L905.5 1768.2L909.5 1768.4L913.5 1767.6L917.6 1768.1L921.6 1768.4L925.6 1768.3L929.7 1767.7L933.7 1768.2L937.8 1768.3L941.8 1767.9L945.8 1768L949.9 1767.7L953.9 1767.9L957.9 1768L962 1767.2L966 1768L970.1 1768.5L974.1 1768.4L978.1 1768.2L982.2 1767.7L986.2 1768.2L990.2 1768L994.3 1767.8L998.3 1768.3L1002.4 1767.3L1006.4 1768.2L1010.4 1767.2L1014.5 1768L1018.5 1767.8L1022.5 1767.5L1026.6 1768.2L1030.6 1767.9L1034.7 1768L1038.7 1768.5L1042.7 1767.5L1046.8 1767.2L1050.8 1767.6L1054.8 1768.1L1058.9 1767.5L1062.9 1767.4L1067 1768.5L1071 1768.1L1075 1767.8L1079.1 1768.5L1083.1 1767.7L1087.1 1768.1L1091.2 1767.5L1095.2 1767.8L1099.2 1768.3L1103.3 1768.5L1107.3 1768.5L1111.4 1767.8L1115.4 1768L1119.4 1767.7L1123.5 1767.4L1127.5 1767.9L1131.5 1768.4L1135.6 1768.4L1139.6 1768.2L1143.7 1768.6L1147.7 1767.6L1151.7 1767.5L1155.8 1767.9L1159.8 1767.6L1163.8 1767.6L1167.9 1767.8L1171.9 1768.1L1176 1768L1180 1767.7L1184 1768.4L1188.1 1768.6L1192.1 1767.9L1196.1 1767.4L1200.2 1767.3L1204.2 1768.5L1208.3 1767.3L1212.3 1768.3L1216.3 1768.1L1220.4 1767.7L1224.4 1768.4L1228.4 1767.3L1232.5 1767.5L1236.5 1767.9L1240.6 1767.3L1244.6 1768.5L1248.6 1767.6L1252.7 1767.5L1256.7 1767.4L1260.7 1768.2L1264.8 1768L1268.8 1768.2L1272.9 1768.2L1276.9 1768.5L1280.9 1768.7L1285 1768.3L1289 1767.6L1293 1768L1297.1 1767.6L1301.1 1767.4L1305.2 1768L1309.2 1768.4L1313.2 1767.6L1317.3 1767.8L1321.3 1767.9L1325.3 1768.4L1329.4 1768.1L1333.4 1768.2L1337.5 1768.4L1341.5 1767.9L1345.5 1768.5L1349.6 1768.7L1353.6 1767.5L1357.6 1768.7L1361.7 1768.4L1365.7 1767.6L1369.8 1768.1L1373.8 1768.3L1377.8 1768.7L1381.9 1768L1385.9 1768.2L1389.9 1768.7L1394 1768.6L1398 1768.8L1402.1 1768.1L1406.1 1768.4L1410.1 1767.7L1414.2 1768.5L1418.2 1768.6L1422.2 1768.4L1426.3 1768.5L1430.3 1767.8L1434.4 1768.7L1438.4 1768.9L1442.4 1768.9L1446.5 1768.2L1450.5 1768.6L1454.5 1767.9L1458.6 1768.8L1462.6 1768.7L1466.7 1768L1470.7 1767.6L1474.7 1768.1L1478.8 1768.3L1482.8 1768.6L1486.8 1768.2L1490.9 1767.6L1494.9 1768.7L1498.9 1767.6L1503 1768.7L1507 1767.8L1511.1 1768L1515.1 1768.6L1519.1 1767.7L1523.2 1767.8L1527.2 1768.3L1531.2 1768.6L1535.3 1768.7L1539.3 1768.5L1543.4 1768.9L1547.4 1768.3L1551.4 1768.9L1555.5 1767.7L1559.5 1767.9L1563.5 1768.3L1567.6 1768L1571.6 1768.6L1575.7 1768.5L1579.7 1768.3L1583.7 1768.8L1587.8 1768.4L1591.8 1768.1L1595.8 1768.2L1599.9 1768.8L1603.9 1768.9L1608 1767.9L1612 1768.8L1616 1769L1620.1 1768.4L1624.1 1768.4L1628.1 1767.9L1632.2 1768.4L1636.2 1768.4L1640.3 1768.5L1644.3 1767.7L1648.3 1769L1652.4 1768.4L1656.4 1768.2L1660.4 1768.8L1664.5 1768.5L1668.5 1768.4L1672.6 1768.7L1676.6 1767.8L1680.6 1768.4L1684.7 1768.3L1688.7 1769L1692.7 1769L1696.8 1768.1L1700.8 1768.4L1704.9 1767.9L1708.9 1768.3L1712.9 1768.9L1717 1769L1721 1768.4L1725 1768.2L1729.1 1768L1733.1 1768.6L1737.2 1769L1741.2 1767.9L1745.2 1768.8L1749.3 1767.8L1753.3 1768L1757.3 1768.1L1761.4 1768.7L1765.4 1768.2L1769.5 1768.3L1773.5 1768.6L1777.5 1767.9L1781.6 1768.8L1785.6 1768L1789.6 1768.5L1793.7 1768.1L1797.7 1768.1L1801.8 1768.5L1805.8 1768.4L1809.8 1768.3L1813.9 1768.4L1817.9 1768.6L1821.9 1768L1826 1768.1L1830 1768.7L1834.1 1768.7L1838.1 1768.6L1842.1 1769L1846.2 1768.7L1850.2 1769L1854.2 1768.2L1858.3 1768.9L1862.3 1769L1866.4 1769.1L1870.4 1768.3L1874.4 1768.3L1878.5 1769.2L1882.5 1768.2L1886.5 1769.3L1890.6 1769.1L1894.6 1768.1L1898.7 1768.2L1902.7 1768.9L1906.7 1768.3L1910.8 1768L1914.8 1769.1" fill="none" stroke="#9bb267" stroke-width="20.5" stroke-linecap="round" stroke-linejoin="round"/>
<path d="M217.9 1761L221.9 1761.2L226 1761.7L230 1761.1L234 1761.2L238.1 1761.3L242.1 1760.7L246.2 1761.2L250.2 1761.4L254.2 1761.6L258.3 1760.7L262.3 1761L266.3 1760.7L270.4 1761.7L274.4 1761.6L278.5 1760.7L282.5 1762L286.5 1762L290.6 1761.6L294.6 1761.5L298.6 1760.9L302.7 1760.7L306.7 1761.5L310.8 1760.8L314.8 1761L318.8 1761.1L322.9 1760.8L326.9 1761.5L330.9 1761.4L335 1762L339 1761.6L343.1 1761.8L347.1 1761.6L351.1 1761.8L355.2 1761.5L359.2 1761.3L363.2 1762.3L367.3 1762.3L371.3 1762.1L375.4 1762L379.4 1761.4L383.4 1761.3L387.5 1761.4L391.5 1761.1L395.5 1762.1L399.6 1761.6L403.6 1762.3L407.7 1761.6L411.7 1762.5L415.7 1762.3L419.8 1761.1L423.8 1761.5L427.8 1762.4L431.9 1761.8L435.9 1762.6L440 1761.8L444 1761.3L448 1762.1L452.1 1762.4L456.1 1761.7L460.1 1761.4L464.2 1761.8L468.2 1762.7L472.3 1762.4L476.3 1761.5L480.3 1761.7L484.4 1761.5L488.4 1761.5L492.4 1762.5L496.5 1761.7L500.5 1762.2L504.6 1762.1L508.6 1761.7L512.6 1762.5L516.7 1761.7L520.7 1762.4L524.7 1761.7L528.8 1762.1L532.8 1761.9L536.9 1762L540.9 1762.9L544.9 1762.7L549 1762L553 1762.9L557 1761.9L561.1 1762.2L565.1 1762.9L569.2 1762.6L573.2 1763L577.2 1766L581.3 1765L585.3 1765.1L589.3 1765.8L593.4 1765.2L597.4 1765.1L601.5 1764.8L605.5 1764.8L609.5 1765.5L613.6 1765.1L617.6 1765.6L621.6 1765.2L625.7 1765.4L629.7 1766.1L633.8 1765.4L637.8 1765.5L641.8 1766L645.9 1765L649.9 1765L653.9 1766L658 1765.9L662 1765.1L666 1765L670.1 1765.8L674.1 1766.1L678.2 1765L682.2 1766.1L686.2 1766L690.3 1765.6L694.3 1765.4L698.3 1764.9L702.4 1764.8L706.4 1766.1L710.5 1765.1L714.5 1765.8L718.5 1765.1L722.6 1765.9L726.6 1765.6L730.6 1765.2L734.7 1765L738.7 1765.8L742.8 1764.9L746.8 1765.1L750.8 1765.6L754.9 1766L758.9 1765.7L762.9 1765.2L767 1766.1L771 1765.1L775.1 1764.8L779.1 1765.2L783.1 1765.4L787.2 1764.9L791.2 1765.1L795.2 1765.3L799.3 1765.6L803.3 1765L807.4 1765.3L811.4 1766.1L815.4 1766.2L819.5 1765.8L823.5 1765.8L827.5 1765.7L831.6 1765.1L835.6 1764.9L839.7 1764.9L843.7 1766.1L847.7 1765.8L851.8 1766.2L855.8 1764.9L859.8 1765.8L863.9 1765.5L867.9 1765.9L872 1765.3L876 1766.3L880 1765L884.1 1765.7L888.1 1765.9L892.1 1766.2L896.2 1765.9L900.2 1765.9L904.3 1766L908.3 1766.2L912.3 1765.4L916.4 1765.9L920.4 1766.2L924.4 1766.1L928.5 1765.5L932.5 1766L936.6 1766.1L940.6 1765.7L944.6 1765.8L948.7 1765.5L952.7 1765.7L956.7 1765.8L960.8 1765L964.8 1765.8L968.9 1766.3L972.9 1766.2L976.9 1766L981 1765.5L985 1766L989 1765.8L993.1 1765.6L997.1 1766.1L1001.2 1765.1L1005.2 1766L1009.2 1765L1013.3 1765.8L1017.3 1765.6L1021.3 1765.3L1025.4 1766L1029.4 1765.7L1033.5 1765.8L1037.5 1766.3L1041.5 1765.3L1045.6 1765L1049.6 1765.4L1053.6 1765.9L1057.7 1765.3L1061.7 1765.2L1065.8 1766.3L1069.8 1765.9L1073.8 1765.6L1077.9 1766.3L1081.9 1765.5L1085.9 1765.9L1090 1765.3L1094 1765.6L1098 1766.1L1102.1 1766.3L1106.1 1766.3L1110.2 1765.6L1114.2 1765.8L1118.2 1765.5L1122.3 1765.2L1126.3 1765.7L1130.3 1766.2L1134.4 1766.2L1138.4 1766L1142.5 1766.4L1146.5 1765.4L1150.5 1765.3L1154.6 1765.7L1158.6 1765.4L1162.6 1765.4L1166.7 1765.6L1170.7 1765.9L1174.8 1765.8L1178.8 1765.5L1182.8 1766.2L1186.9 1766.4L1190.9 1765.7L1194.9 1765.2L1199 1765.1L1203 1766.3L1207.1 1765.1L1211.1 1766.1L1215.1 1765.9L1219.2 1765.5L1223.2 1766.2L1227.2 1765.1L1231.3 1765.3L1235.3 1765.7L1239.4 1765.1L1243.4 1766.3L1247.4 1765.4L1251.5 1765.3L1255.5 1765.2L1259.5 1766L1263.6 1765.8L1267.6 1766L1271.7 1766L1275.7 1766.3L1279.7 1766.5L1283.8 1766.1L1287.8 1765.4L1291.8 1765.8L1295.9 1765.4L1299.9 1765.2L1304 1765.8L1308 1766.2L1312 1765.4L1316.1 1765.6L1320.1 1765.7L1324.1 1766.2L1328.2 1765.9L1332.2 1766L1336.3 1766.2L1340.3 1765.7L1344.3 1766.3L1348.4 1766.5L1352.4 1765.3L1356.4 1766.5L1360.5 1766.2L1364.5 1765.4L1368.6 1765.9L1372.6 1766.1L1376.6 1766.5L1380.7 1765.8L1384.7 1766L1388.7 1766.5L1392.8 1766.4L1396.8 1766.6L1400.9 1765.9L1404.9 1766.2L1408.9 1765.5L1413 1766.3L1417 1766.4L1421 1766.2L1425.1 1766.3L1429.1 1765.6L1433.2 1766.5L1437.2 1766.7L1441.2 1766.7L1445.3 1766L1449.3 1766.4L1453.3 1765.7L1457.4 1766.6L1461.4 1766.5L1465.5 1765.8L1469.5 1765.4L1473.5 1765.9L1477.6 1766.1L1481.6 1766.4L1485.6 1766L1489.7 1765.4L1493.7 1766.5L1497.7 1765.4L1501.8 1766.5L1505.8 1765.6L1509.9 1765.8L1513.9 1766.4L1517.9 1765.5L1522 1765.6L1526 1766.1L1530 1766.4L1534.1 1766.5L1538.1 1766.3L1542.2 1766.7L1546.2 1766.1L1550.2 1766.7L1554.3 1765.5L1558.3 1765.7L1562.3 1766.1L1566.4 1765.8L1570.4 1766.4L1574.5 1766.3L1578.5 1766.1L1582.5 1766.6L1586.6 1766.2L1590.6 1765.9L1594.6 1766L1598.7 1766.6L1602.7 1766.7L1606.8 1765.7L1610.8 1766.6L1614.8 1766.8L1618.9 1766.2L1622.9 1766.2L1626.9 1765.7L1631 1766.2L1635 1766.2L1639.1 1766.3L1643.1 1765.5L1647.1 1766.8L1651.2 1766.2L1655.2 1766L1659.2 1766.6L1663.3 1766.3L1667.3 1766.2L1671.4 1766.5L1675.4 1765.6L1679.4 1766.2L1683.5 1766.1L1687.5 1766.8L1691.5 1766.8L1695.6 1765.9L1699.6 1766.2L1703.7 1765.7L1707.7 1766.1L1711.7 1766.7L1715.8 1766.8L1719.8 1766.2L1723.8 1766L1727.9 1765.8L1731.9 1766.4L1736 1766.8L1740 1765.7L1744 1766.6L1748.1 1765.6L1752.1 1765.8L1756.1 1765.9L1760.2 1766.5L1764.2 1766L1768.3 1766.1L1772.3 1766.4L1776.3 1765.7L1780.4 1766.6L1784.4 1765.8L1788.4 1766.3L1792.5 1765.9L1796.5 1765.9L1800.6 1766.3L1804.6 1766.2L1808.6 1766.1L1812.7 1766.2L1816.7 1766.4L1820.7 1765.8L1824.8 1765.9L1828.8 1766.5L1832.9 1766.5L1836.9 1766.4L1840.9 1766.8L1845 1766.5L1849 1766.8L1853 1766L1857.1 1766.7L1861.1 1766.8L1865.2 1766.9L1869.2 1766.1L1873.2 1766.1L1877.3 1767L1881.3 1766L1885.3 1767.1L1889.4 1766.9L1893.4 1765.9L1897.5 1766L1901.5 1766.7L1905.5 1766.1L1909.6 1765.8L1913.6 1766.9" fill="none" stroke="#f3f9e6" stroke-width="6.6" stroke-linecap="round" stroke-dasharray="0.1 4.33" opacity="0.5"/>
<path d="M217.9 1761L221.9 1761.2L226 1761.7L230 1761.1L234 1761.2L238.1 1761.3L242.1 1760.7L246.2 1761.2L250.2 1761.4L254.2 1761.6L258.3 1760.7L262.3 1761L266.3 1760.7L270.4 1761.7L274.4 1761.6L278.5 1760.7L282.5 1762L286.5 1762L290.6 1761.6L294.6 1761.5L298.6 1760.9L302.7 1760.7L306.7 1761.5L310.8 1760.8L314.8 1761L318.8 1761.1L322.9 1760.8L326.9 1761.5L330.9 1761.4L335 1762L339 1761.6L343.1 1761.8L347.1 1761.6L351.1 1761.8L355.2 1761.5L359.2 1761.3L363.2 1762.3L367.3 1762.3L371.3 1762.1L375.4 1762L379.4 1761.4L383.4 1761.3L387.5 1761.4L391.5 1761.1L395.5 1762.1L399.6 1761.6L403.6 1762.3L407.7 1761.6L411.7 1762.5L415.7 1762.3L419.8 1761.1L423.8 1761.5L427.8 1762.4L431.9 1761.8L435.9 1762.6L440 1761.8L444 1761.3L448 1762.1L452.1 1762.4L456.1 1761.7L460.1 1761.4L464.2 1761.8L468.2 1762.7L472.3 1762.4L476.3 1761.5L480.3 1761.7L484.4 1761.5L488.4 1761.5L492.4 1762.5L496.5 1761.7L500.5 1762.2L504.6 1762.1L508.6 1761.7L512.6 1762.5L516.7 1761.7L520.7 1762.4L524.7 1761.7L528.8 1762.1L532.8 1761.9L536.9 1762L540.9 1762.9L544.9 1762.7L549 1762L553 1762.9L557 1761.9L561.1 1762.2L565.1 1762.9L569.2 1762.6L573.2 1763L577.2 1766L581.3 1765L585.3 1765.1L589.3 1765.8L593.4 1765.2L597.4 1765.1L601.5 1764.8L605.5 1764.8L609.5 1765.5L613.6 1765.1L617.6 1765.6L621.6 1765.2L625.7 1765.4L629.7 1766.1L633.8 1765.4L637.8 1765.5L641.8 1766L645.9 1765L649.9 1765L653.9 1766L658 1765.9L662 1765.1L666 1765L670.1 1765.8L674.1 1766.1L678.2 1765L682.2 1766.1L686.2 1766L690.3 1765.6L694.3 1765.4L698.3 1764.9L702.4 1764.8L706.4 1766.1L710.5 1765.1L714.5 1765.8L718.5 1765.1L722.6 1765.9L726.6 1765.6L730.6 1765.2L734.7 1765L738.7 1765.8L742.8 1764.9L746.8 1765.1L750.8 1765.6L754.9 1766L758.9 1765.7L762.9 1765.2L767 1766.1L771 1765.1L775.1 1764.8L779.1 1765.2L783.1 1765.4L787.2 1764.9L791.2 1765.1L795.2 1765.3L799.3 1765.6L803.3 1765L807.4 1765.3L811.4 1766.1L815.4 1766.2L819.5 1765.8L823.5 1765.8L827.5 1765.7L831.6 1765.1L835.6 1764.9L839.7 1764.9L843.7 1766.1L847.7 1765.8L851.8 1766.2L855.8 1764.9L859.8 1765.8L863.9 1765.5L867.9 1765.9L872 1765.3L876 1766.3L880 1765L884.1 1765.7L888.1 1765.9L892.1 1766.2L896.2 1765.9L900.2 1765.9L904.3 1766L908.3 1766.2L912.3 1765.4L916.4 1765.9L920.4 1766.2L924.4 1766.1L928.5 1765.5L932.5 1766L936.6 1766.1L940.6 1765.7L944.6 1765.8L948.7 1765.5L952.7 1765.7L956.7 1765.8L960.8 1765L964.8 1765.8L968.9 1766.3L972.9 1766.2L976.9 1766L981 1765.5L985 1766L989 1765.8L993.1 1765.6L997.1 1766.1L1001.2 1765.1L1005.2 1766L1009.2 1765L1013.3 1765.8L1017.3 1765.6L1021.3 1765.3L1025.4 1766L1029.4 1765.7L1033.5 1765.8L1037.5 1766.3L1041.5 1765.3L1045.6 1765L1049.6 1765.4L1053.6 1765.9L1057.7 1765.3L1061.7 1765.2L1065.8 1766.3L1069.8 1765.9L1073.8 1765.6L1077.9 1766.3L1081.9 1765.5L1085.9 1765.9L1090 1765.3L1094 1765.6L1098 1766.1L1102.1 1766.3L1106.1 1766.3L1110.2 1765.6L1114.2 1765.8L1118.2 1765.5L1122.3 1765.2L1126.3 1765.7L1130.3 1766.2L1134.4 1766.2L1138.4 1766L1142.5 1766.4L1146.5 1765.4L1150.5 1765.3L1154.6 1765.7L1158.6 1765.4L1162.6 1765.4L1166.7 1765.6L1170.7 1765.9L1174.8 1765.8L1178.8 1765.5L1182.8 1766.2L1186.9 1766.4L1190.9 1765.7L1194.9 1765.2L1199 1765.1L1203 1766.3L1207.1 1765.1L1211.1 1766.1L1215.1 1765.9L1219.2 1765.5L1223.2 1766.2L1227.2 1765.1L1231.3 1765.3L1235.3 1765.7L1239.4 1765.1L1243.4 1766.3L1247.4 1765.4L1251.5 1765.3L1255.5 1765.2L1259.5 1766L1263.6 1765.8L1267.6 1766L1271.7 1766L1275.7 1766.3L1279.7 1766.5L1283.8 1766.1L1287.8 1765.4L1291.8 1765.8L1295.9 1765.4L1299.9 1765.2L1304 1765.8L1308 1766.2L1312 1765.4L1316.1 1765.6L1320.1 1765.7L1324.1 1766.2L1328.2 1765.9L1332.2 1766L1336.3 1766.2L1340.3 1765.7L1344.3 1766.3L1348.4 1766.5L1352.4 1765.3L1356.4 1766.5L1360.5 1766.2L1364.5 1765.4L1368.6 1765.9L1372.6 1766.1L1376.6 1766.5L1380.7 1765.8L1384.7 1766L1388.7 1766.5L1392.8 1766.4L1396.8 1766.6L1400.9 1765.9L1404.9 1766.2L1408.9 1765.5L1413 1766.3L1417 1766.4L1421 1766.2L1425.1 1766.3L1429.1 1765.6L1433.2 1766.5L1437.2 1766.7L1441.2 1766.7L1445.3 1766L1449.3 1766.4L1453.3 1765.7L1457.4 1766.6L1461.4 1766.5L1465.5 1765.8L1469.5 1765.4L1473.5 1765.9L1477.6 1766.1L1481.6 1766.4L1485.6 1766L1489.7 1765.4L1493.7 1766.5L1497.7 1765.4L1501.8 1766.5L1505.8 1765.6L1509.9 1765.8L1513.9 1766.4L1517.9 1765.5L1522 1765.6L1526 1766.1L1530 1766.4L1534.1 1766.5L1538.1 1766.3L1542.2 1766.7L1546.2 1766.1L1550.2 1766.7L1554.3 1765.5L1558.3 1765.7L1562.3 1766.1L1566.4 1765.8L1570.4 1766.4L1574.5 1766.3L1578.5 1766.1L1582.5 1766.6L1586.6 1766.2L1590.6 1765.9L1594.6 1766L1598.7 1766.6L1602.7 1766.7L1606.8 1765.7L1610.8 1766.6L1614.8 1766.8L1618.9 1766.2L1622.9 1766.2L1626.9 1765.7L1631 1766.2L1635 1766.2L1639.1 1766.3L1643.1 1765.5L1647.1 1766.8L1651.2 1766.2L1655.2 1766L1659.2 1766.6L1663.3 1766.3L1667.3 1766.2L1671.4 1766.5L1675.4 1765.6L1679.4 1766.2L1683.5 1766.1L1687.5 1766.8L1691.5 1766.8L1695.6 1765.9L1699.6 1766.2L1703.7 1765.7L1707.7 1766.1L1711.7 1766.7L1715.8 1766.8L1719.8 1766.2L1723.8 1766L1727.9 1765.8L1731.9 1766.4L1736 1766.8L1740 1765.7L1744 1766.6L1748.1 1765.6L1752.1 1765.8L1756.1 1765.9L1760.2 1766.5L1764.2 1766L1768.3 1766.1L1772.3 1766.4L1776.3 1765.7L1780.4 1766.6L1784.4 1765.8L1788.4 1766.3L1792.5 1765.9L1796.5 1765.9L1800.6 1766.3L1804.6 1766.2L1808.6 1766.1L1812.7 1766.2L1816.7 1766.4L1820.7 1765.8L1824.8 1765.9L1828.8 1766.5L1832.9 1766.5L1836.9 1766.4L1840.9 1766.8L1845 1766.5L1849 1766.8L1853 1766L1857.1 1766.7L1861.1 1766.8L1865.2 1766.9L1869.2 1766.1L1873.2 1766.1L1877.3 1767L1881.3 1766L1885.3 1767.1L1889.4 1766.9L1893.4 1765.9L1897.5 1766L1901.5 1766.7L1905.5 1766.1L1909.6 1765.8L1913.6 1766.9" fill="none" stroke="#f3f9e6" stroke-width="3.6" stroke-linecap="round" stroke-dasharray="0.1 4.33" opacity="0.85"/>
<path d="M219.1 2067.2L223.1 2067.7L227.2 2066.8L231.2 2067.2L235.2 2067.7L239.3 2066.8L243.3 2067L247.4 2067.7L251.4 2068.1L255.4 2068.2L259.5 2067L263.5 2067.6L267.5 2068L271.6 2067.6L275.6 2067.9L279.7 2067.2L283.7 2067.1L287.7 2067.2L291.8 2067.1L295.8 2067.9L299.8 2067.8L303.9 2067.9L307.9 2067.4L312 2067.4L316 2067.5L320 2068.4L324.1 2068.6L328.1 2068.6L332.1 2067.4L336.2 2067.4L340.2 2068.7L344.3 2068L348.3 2068.5L352.3 2067.9L356.4 2068.1L360.4 2068.2L364.4 2068.1L368.5 2068.4L372.5 2067.6L376.6 2068.6L380.6 2068.8L384.6 2067.9L388.7 2068.3L392.7 2068.7L396.7 2068.3L400.8 2068L404.8 2068L408.9 2068.5L412.9 2067.8L416.9 2069.1L421 2069L425 2068.9L429 2069.1L433.1 2068.8L437.1 2068.5L441.2 2068.8L445.2 2068.7L449.2 2069.4L453.3 2069.2L457.3 2068.5L461.3 2069.4L465.4 2069.2L469.4 2069.3L473.5 2069.3L477.5 2068.8L481.5 2069.5L485.6 2069.5L489.6 2069.3L493.6 2069.4L497.7 2069.4L501.7 2068.9L505.8 2069.4L509.8 2068.5L513.8 2068.9L517.9 2069.1L521.9 2068.5L525.9 2069L530 2069.4L534 2069.5L538.1 2068.9L542.1 2070L546.1 2069.6L550.2 2069.2L554.2 2069.6L558.2 2069.5L562.3 2069.5L566.3 2069.3L570.4 2070.2L574.4 2069.7L578.4 2069.8L582.5 2070L586.5 2070.3L590.5 2069L594.6 2069.8L598.6 2070L602.7 2069.4L606.7 2069.6L610.7 2069.1L614.8 2069.4L618.8 2069.6L622.8 2069.3L626.9 2069.5L630.9 2070.5L635 2070L639 2070L643 2070.6L647.1 2070.1L651.1 2070.7L655.1 2070.2L659.2 2070.5L663.2 2069.5L667.2 2070.3L671.3 2070.5L675.3 2069.5L679.4 2070.8L683.4 2069.7L687.4 2070.2L691.5 2069.8L695.5 2070.3L699.5 2070.5L703.6 2069.7L707.6 2071L711.7 2070.3L715.7 2070.5L719.7 2070.6L723.8 2070.3L727.8 2070.2L731.8 2070.7L735.9 2070.6L739.9 2070.2L744 2070.9L748 2070.3L752 2069.9L756.1 2070.3L760.1 2070L764.1 2070.2L768.2 2071L772.2 2070.5L776.3 2071.3L780.3 2071.1L784.3 2070.1L788.4 2071.4L792.4 2071.4L796.4 2070.2L800.5 2071.4L804.5 2070.7L808.6 2070.8L812.6 2071.5L816.6 2070.5L820.7 2070.9L824.7 2071.5L828.7 2071.2L832.8 2070.9L836.8 2071.6L840.9 2071.4L844.9 2071.1L848.9 2070.5L853 2071.2L857 2071L861 2070.7L865.1 2070.5L869.1 2071.1L873.2 2070.6L877.2 2071.1L881.2 2071.4L885.3 2071.1L889.3 2070.9L893.3 2071.3L897.4 2071.1L901.4 2071.6L905.5 2071.3L909.5 2072L913.5 2071.9L917.6 2071.6L921.6 2071L925.6 2070.8L929.7 2071.9L933.7 2071.8L937.8 2071.6L941.8 2071.2L945.8 2071.1L949.9 2071.7L953.9 2071.6L957.9 2071.6L962 2071.7L966 2071.9L970.1 2071.1L974.1 2071.2L978.1 2072.2L982.2 2072.2L986.2 2072.1L990.2 2071L994.3 2071L998.3 2071.3L1002.4 2071.6L1006.4 2071.9L1010.4 2071.2L1014.5 2071.8L1018.5 2071.2L1022.5 2071.2L1026.6 2072L1030.6 2071.9L1034.7 2072L1038.7 2071.7L1042.7 2071.8L1046.8 2071.5L1050.8 2071.7L1054.8 2072.2L1058.9 2072.4L1062.9 2071.3L1067 2071.4L1071 2072.4L1075 2072.2L1079.1 2072.4L1083.1 2071.6L1087.1 2071.9L1091.2 2071.7L1095.2 2072.5L1099.2 2071.9L1103.3 2072.3L1107.3 2072.8L1111.4 2071.9L1115.4 2072.2L1119.4 2072.5L1123.5 2072.8L1127.5 2072.1L1131.5 2072.1L1135.6 2071.7L1139.6 2072.8L1143.7 2071.7L1147.7 2071.7L1151.7 2072.4L1155.8 2072.3L1159.8 2072.6L1163.8 2072.1L1167.9 2072.8L1171.9 2071.8L1176 2072L1180 2072.7L1184 2071.9L1188.1 2072.2L1192.1 2072.8L1196.1 2072.8L1200.2 2072.2L1204.2 2072L1208.3 2072.4L1212.3 2072.9L1216.3 2072.4L1220.4 2072.1L1224.4 2072.9L1228.4 2072.7L1232.5 2073.3L1236.5 2073.3L1240.6 2073.3L1244.6 2072.6L1248.6 2073.2L1252.7 2072.5L1256.7 2072.5L1260.7 2072.6L1264.8 2073.4L1268.8 2073.4L1272.9 2072.5L1276.9 2072.7L1280.9 2072.7L1285 2072.7L1289 2072.8L1293 2072.8L1297.1 2072.5L1301.1 2073.1L1305.2 2073.4L1309.2 2073.1L1313.2 2073.5L1317.3 2073.1L1321.3 2072.6L1325.3 2073.4L1329.4 2073.6L1333.4 2072.8L1337.5 2072.5L1341.5 2073.2L1345.5 2073.2L1349.6 2073.3L1353.6 2073.8L1357.6 2073.4L1361.7 2073.6L1365.7 2072.6L1369.8 2073.3L1373.8 2073.7L1377.8 2072.7L1381.9 2072.7L1385.9 2073.7L1389.9 2073.9L1394 2072.8L1398 2073.6L1402.1 2072.9L1406.1 2073.8L1410.1 2073.6L1414.2 2073.1L1418.2 2073.1L1422.2 2073.9L1426.3 2073.5L1430.3 2073.9L1434.4 2073.4L1438.4 2073.3L1442.4 2074.2L1446.5 2073.8L1450.5 2073.6L1454.5 2073.7L1458.6 2073.9L1462.6 2073.9L1466.7 2074.3L1470.7 2073.6L1474.7 2074.2L1478.8 2074L1482.8 2074.2L1486.8 2074.2L1490.9 2074.2L1494.9 2074.3L1498.9 2074.5L1503 2074L1507 2073.9L1511.1 2074.2L1515.1 2074.3L1519.1 2073.8L1523.2 2073.8L1527.2 2073.4L1531.2 2074.3L1535.3 2074.7L1539.3 2073.8L1543.4 2073.5L1547.4 2073.6L1551.4 2073.9L1555.5 2073.8L1559.5 2074.7L1563.5 2073.5L1567.6 2073.8L1571.6 2073.6L1575.7 2074.4L1579.7 2074.5L1583.7 2073.7L1587.8 2073.6L1591.8 2074.2L1595.8 2074.3L1599.9 2074.8L1603.9 2073.6L1608 2073.7L1612 2073.9L1616 2073.9L1620.1 2074L1624.1 2074.7L1628.1 2074.5L1632.2 2074L1636.2 2074L1640.3 2074.1L1644.3 2074L1648.3 2074.8L1652.4 2074.2L1656.4 2074.6L1660.4 2075L1664.5 2074.5L1668.5 2074.2L1672.6 2075.1L1676.6 2075.2L1680.6 2074.4L1684.7 2074.7L1688.7 2075.3L1692.7 2074.6L1696.8 2074.3L1700.8 2074.1L1704.9 2075.3L1708.9 2075.1L1712.9 2074.6L1717 2074.8L1721 2074.8L1725 2074.5L1729.1 2075.5L1733.1 2075L1737.2 2074.5L1741.2 2074.2L1745.2 2074.8L1749.3 2074.7L1753.3 2075.3L1757.3 2075.2L1761.4 2075.1L1765.4 2074.5L1769.5 2074.5L1773.5 2074.7L1777.5 2074.7L1781.6 2075.5L1785.6 2075.1L1789.6 2075.3L1793.7 2075.8L1797.7 2074.8L1801.8 2075.2L1805.8 2074.6L1809.8 2075.5L1813.9 2074.5L1817.9 2075.6L1821.9 2075.7L1826 2075.7L1830 2074.7L1834.1 2074.9L1838.1 2075.6L1842.1 2074.7L1846.2 2075.3L1850.2 2075.3L1854.2 2076L1858.3 2075.5L1862.3 2075.9L1866.4 2075.1L1870.4 2075.8L1874.4 2075.3L1878.5 2076L1882.5 2074.9L1886.5 2075.9L1890.6 2075.1L1894.6 2075.6L1898.7 2075.6L1902.7 2075.1L1906.7 2076L1910.8 2075.3L1914.8 2075.3" fill="none" stroke="#8fcdd1" stroke-width="18.8" stroke-linecap="round" stroke-linejoin="round"/>
<path d="M217.9 2066.6L221.9 2067.1L226 2066.2L230 2066.6L234 2067.1L238.1 2066.2L242.1 2066.4L246.2 2067.1L250.2 2067.5L254.2 2067.6L258.3 2066.4L262.3 2067L266.3 2067.4L270.4 2067L274.4 2067.3L278.5 2066.6L282.5 2066.5L286.5 2066.6L290.6 2066.5L294.6 2067.3L298.6 2067.2L302.7 2067.3L306.7 2066.8L310.8 2066.8L314.8 2066.9L318.8 2067.8L322.9 2068L326.9 2068L330.9 2066.8L335 2066.8L339 2068.1L343.1 2067.4L347.1 2067.9L351.1 2067.3L355.2 2067.5L359.2 2067.6L363.2 2067.5L367.3 2067.8L371.3 2067L375.4 2068L379.4 2068.2L383.4 2067.3L387.5 2067.7L391.5 2068.1L395.5 2067.7L399.6 2067.4L403.6 2067.4L407.7 2067.9L411.7 2067.2L415.7 2068.5L419.8 2068.4L423.8 2068.3L427.8 2068.5L431.9 2068.2L435.9 2067.9L440 2068.2L444 2068.1L448 2068.8L452.1 2068.6L456.1 2067.9L460.1 2068.8L464.2 2068.6L468.2 2068.7L472.3 2068.7L476.3 2068.2L480.3 2068.9L484.4 2068.9L488.4 2068.7L492.4 2068.8L496.5 2068.8L500.5 2068.3L504.6 2068.8L508.6 2067.9L512.6 2068.3L516.7 2068.5L520.7 2067.9L524.7 2068.4L528.8 2068.8L532.8 2068.9L536.9 2068.3L540.9 2069.4L544.9 2069L549 2068.6L553 2069L557 2068.9L561.1 2068.9L565.1 2068.7L569.2 2069.6L573.2 2069.1L577.2 2069.2L581.3 2069.4L585.3 2069.7L589.3 2068.4L593.4 2069.2L597.4 2069.4L601.5 2068.8L605.5 2069L609.5 2068.5L613.6 2068.8L617.6 2069L621.6 2068.7L625.7 2068.9L629.7 2069.9L633.8 2069.4L637.8 2069.4L641.8 2070L645.9 2069.5L649.9 2070.1L653.9 2069.6L658 2069.9L662 2068.9L666 2069.7L670.1 2069.9L674.1 2068.9L678.2 2070.2L682.2 2069.1L686.2 2069.6L690.3 2069.2L694.3 2069.7L698.3 2069.9L702.4 2069.1L706.4 2070.4L710.5 2069.7L714.5 2069.9L718.5 2070L722.6 2069.7L726.6 2069.6L730.6 2070.1L734.7 2070L738.7 2069.6L742.8 2070.3L746.8 2069.7L750.8 2069.3L754.9 2069.7L758.9 2069.4L762.9 2069.6L767 2070.4L771 2069.9L775.1 2070.7L779.1 2070.5L783.1 2069.5L787.2 2070.8L791.2 2070.8L795.2 2069.6L799.3 2070.8L803.3 2070.1L807.4 2070.2L811.4 2070.9L815.4 2069.9L819.5 2070.3L823.5 2070.9L827.5 2070.6L831.6 2070.3L835.6 2071L839.7 2070.8L843.7 2070.5L847.7 2069.9L851.8 2070.6L855.8 2070.4L859.8 2070.1L863.9 2069.9L867.9 2070.5L872 2070L876 2070.5L880 2070.8L884.1 2070.5L888.1 2070.3L892.1 2070.7L896.2 2070.5L900.2 2071L904.3 2070.7L908.3 2071.4L912.3 2071.3L916.4 2071L920.4 2070.4L924.4 2070.2L928.5 2071.3L932.5 2071.2L936.6 2071L940.6 2070.6L944.6 2070.5L948.7 2071.1L952.7 2071L956.7 2071L960.8 2071.1L964.8 2071.3L968.9 2070.5L972.9 2070.6L976.9 2071.6L981 2071.6L985 2071.5L989 2070.4L993.1 2070.4L997.1 2070.7L1001.2 2071L1005.2 2071.3L1009.2 2070.6L1013.3 2071.2L1017.3 2070.6L1021.3 2070.6L1025.4 2071.4L1029.4 2071.3L1033.5 2071.4L1037.5 2071.1L1041.5 2071.2L1045.6 2070.9L1049.6 2071.1L1053.6 2071.6L1057.7 2071.8L1061.7 2070.7L1065.8 2070.8L1069.8 2071.8L1073.8 2071.6L1077.9 2071.8L1081.9 2071L1085.9 2071.3L1090 2071.1L1094 2071.9L1098 2071.3L1102.1 2071.7L1106.1 2072.2L1110.2 2071.3L1114.2 2071.6L1118.2 2071.9L1122.3 2072.2L1126.3 2071.5L1130.3 2071.5L1134.4 2071.1L1138.4 2072.2L1142.5 2071.1L1146.5 2071.1L1150.5 2071.8L1154.6 2071.7L1158.6 2072L1162.6 2071.5L1166.7 2072.2L1170.7 2071.2L1174.8 2071.4L1178.8 2072.1L1182.8 2071.3L1186.9 2071.6L1190.9 2072.2L1194.9 2072.2L1199 2071.6L1203 2071.4L1207.1 2071.8L1211.1 2072.3L1215.1 2071.8L1219.2 2071.5L1223.2 2072.3L1227.2 2072.1L1231.3 2072.7L1235.3 2072.7L1239.4 2072.7L1243.4 2072L1247.4 2072.6L1251.5 2071.9L1255.5 2071.9L1259.5 2072L1263.6 2072.8L1267.6 2072.8L1271.7 2071.9L1275.7 2072.1L1279.7 2072.1L1283.8 2072.1L1287.8 2072.2L1291.8 2072.2L1295.9 2071.9L1299.9 2072.5L1304 2072.8L1308 2072.5L1312 2072.9L1316.1 2072.5L1320.1 2072L1324.1 2072.8L1328.2 2073L1332.2 2072.2L1336.3 2071.9L1340.3 2072.6L1344.3 2072.6L1348.4 2072.7L1352.4 2073.2L1356.4 2072.8L1360.5 2073L1364.5 2072L1368.6 2072.7L1372.6 2073.1L1376.6 2072.1L1380.7 2072.1L1384.7 2073.1L1388.7 2073.3L1392.8 2072.2L1396.8 2073L1400.9 2072.3L1404.9 2073.2L1408.9 2073L1413 2072.5L1417 2072.5L1421 2073.3L1425.1 2072.9L1429.1 2073.3L1433.2 2072.8L1437.2 2072.7L1441.2 2073.6L1445.3 2073.2L1449.3 2073L1453.3 2073.1L1457.4 2073.3L1461.4 2073.3L1465.5 2073.7L1469.5 2073L1473.5 2073.6L1477.6 2073.4L1481.6 2073.6L1485.6 2073.6L1489.7 2073.6L1493.7 2073.7L1497.7 2073.9L1501.8 2073.4L1505.8 2073.3L1509.9 2073.6L1513.9 2073.7L1517.9 2073.2L1522 2073.2L1526 2072.8L1530 2073.7L1534.1 2074.1L1538.1 2073.2L1542.2 2072.9L1546.2 2073L1550.2 2073.3L1554.3 2073.2L1558.3 2074.1L1562.3 2072.9L1566.4 2073.2L1570.4 2073L1574.5 2073.8L1578.5 2073.9L1582.5 2073.1L1586.6 2073L1590.6 2073.6L1594.6 2073.7L1598.7 2074.2L1602.7 2073L1606.8 2073.1L1610.8 2073.3L1614.8 2073.3L1618.9 2073.4L1622.9 2074.1L1626.9 2073.9L1631 2073.4L1635 2073.4L1639.1 2073.5L1643.1 2073.4L1647.1 2074.2L1651.2 2073.6L1655.2 2074L1659.2 2074.4L1663.3 2073.9L1667.3 2073.6L1671.4 2074.5L1675.4 2074.6L1679.4 2073.8L1683.5 2074.1L1687.5 2074.7L1691.5 2074L1695.6 2073.7L1699.6 2073.5L1703.7 2074.7L1707.7 2074.5L1711.7 2074L1715.8 2074.2L1719.8 2074.2L1723.8 2073.9L1727.9 2074.9L1731.9 2074.4L1736 2073.9L1740 2073.6L1744 2074.2L1748.1 2074.1L1752.1 2074.7L1756.1 2074.6L1760.2 2074.5L1764.2 2073.9L1768.3 2073.9L1772.3 2074.1L1776.3 2074.1L1780.4 2074.9L1784.4 2074.5L1788.4 2074.7L1792.5 2075.2L1796.5 2074.2L1800.6 2074.6L1804.6 2074L1808.6 2074.9L1812.7 2073.9L1816.7 2075L1820.7 2075.1L1824.8 2075.1L1828.8 2074.1L1832.9 2074.3L1836.9 2075L1840.9 2074.1L1845 2074.7L1849 2074.7L1853 2075.4L1857.1 2074.9L1861.1 2075.3L1865.2 2074.5L1869.2 2075.2L1873.2 2074.7L1877.3 2075.4L1881.3 2074.3L1885.3 2075.3L1889.4 2074.5L1893.4 2075L1897.5 2075L1901.5 2074.5L1905.5 2075.4L1909.6 2074.7L1913.6 2074.7" fill="none" stroke="#f0fcfc" stroke-width="6.6" stroke-linecap="round" stroke-dasharray="0.1 4.33" opacity="0.5"/>
<path d="M217.9 2066.6L221.9 2067.1L226 2066.2L230 2066.6L234 2067.1L238.1 2066.2L242.1 2066.4L246.2 2067.1L250.2 2067.5L254.2 2067.6L258.3 2066.4L262.3 2067L266.3 2067.4L270.4 2067L274.4 2067.3L278.5 2066.6L282.5 2066.5L286.5 2066.6L290.6 2066.5L294.6 2067.3L298.6 2067.2L302.7 2067.3L306.7 2066.8L310.8 2066.8L314.8 2066.9L318.8 2067.8L322.9 2068L326.9 2068L330.9 2066.8L335 2066.8L339 2068.1L343.1 2067.4L347.1 2067.9L351.1 2067.3L355.2 2067.5L359.2 2067.6L363.2 2067.5L367.3 2067.8L371.3 2067L375.4 2068L379.4 2068.2L383.4 2067.3L387.5 2067.7L391.5 2068.1L395.5 2067.7L399.6 2067.4L403.6 2067.4L407.7 2067.9L411.7 2067.2L415.7 2068.5L419.8 2068.4L423.8 2068.3L427.8 2068.5L431.9 2068.2L435.9 2067.9L440 2068.2L444 2068.1L448 2068.8L452.1 2068.6L456.1 2067.9L460.1 2068.8L464.2 2068.6L468.2 2068.7L472.3 2068.7L476.3 2068.2L480.3 2068.9L484.4 2068.9L488.4 2068.7L492.4 2068.8L496.5 2068.8L500.5 2068.3L504.6 2068.8L508.6 2067.9L512.6 2068.3L516.7 2068.5L520.7 2067.9L524.7 2068.4L528.8 2068.8L532.8 2068.9L536.9 2068.3L540.9 2069.4L544.9 2069L549 2068.6L553 2069L557 2068.9L561.1 2068.9L565.1 2068.7L569.2 2069.6L573.2 2069.1L577.2 2069.2L581.3 2069.4L585.3 2069.7L589.3 2068.4L593.4 2069.2L597.4 2069.4L601.5 2068.8L605.5 2069L609.5 2068.5L613.6 2068.8L617.6 2069L621.6 2068.7L625.7 2068.9L629.7 2069.9L633.8 2069.4L637.8 2069.4L641.8 2070L645.9 2069.5L649.9 2070.1L653.9 2069.6L658 2069.9L662 2068.9L666 2069.7L670.1 2069.9L674.1 2068.9L678.2 2070.2L682.2 2069.1L686.2 2069.6L690.3 2069.2L694.3 2069.7L698.3 2069.9L702.4 2069.1L706.4 2070.4L710.5 2069.7L714.5 2069.9L718.5 2070L722.6 2069.7L726.6 2069.6L730.6 2070.1L734.7 2070L738.7 2069.6L742.8 2070.3L746.8 2069.7L750.8 2069.3L754.9 2069.7L758.9 2069.4L762.9 2069.6L767 2070.4L771 2069.9L775.1 2070.7L779.1 2070.5L783.1 2069.5L787.2 2070.8L791.2 2070.8L795.2 2069.6L799.3 2070.8L803.3 2070.1L807.4 2070.2L811.4 2070.9L815.4 2069.9L819.5 2070.3L823.5 2070.9L827.5 2070.6L831.6 2070.3L835.6 2071L839.7 2070.8L843.7 2070.5L847.7 2069.9L851.8 2070.6L855.8 2070.4L859.8 2070.1L863.9 2069.9L867.9 2070.5L872 2070L876 2070.5L880 2070.8L884.1 2070.5L888.1 2070.3L892.1 2070.7L896.2 2070.5L900.2 2071L904.3 2070.7L908.3 2071.4L912.3 2071.3L916.4 2071L920.4 2070.4L924.4 2070.2L928.5 2071.3L932.5 2071.2L936.6 2071L940.6 2070.6L944.6 2070.5L948.7 2071.1L952.7 2071L956.7 2071L960.8 2071.1L964.8 2071.3L968.9 2070.5L972.9 2070.6L976.9 2071.6L981 2071.6L985 2071.5L989 2070.4L993.1 2070.4L997.1 2070.7L1001.2 2071L1005.2 2071.3L1009.2 2070.6L1013.3 2071.2L1017.3 2070.6L1021.3 2070.6L1025.4 2071.4L1029.4 2071.3L1033.5 2071.4L1037.5 2071.1L1041.5 2071.2L1045.6 2070.9L1049.6 2071.1L1053.6 2071.6L1057.7 2071.8L1061.7 2070.7L1065.8 2070.8L1069.8 2071.8L1073.8 2071.6L1077.9 2071.8L1081.9 2071L1085.9 2071.3L1090 2071.1L1094 2071.9L1098 2071.3L1102.1 2071.7L1106.1 2072.2L1110.2 2071.3L1114.2 2071.6L1118.2 2071.9L1122.3 2072.2L1126.3 2071.5L1130.3 2071.5L1134.4 2071.1L1138.4 2072.2L1142.5 2071.1L1146.5 2071.1L1150.5 2071.8L1154.6 2071.7L1158.6 2072L1162.6 2071.5L1166.7 2072.2L1170.7 2071.2L1174.8 2071.4L1178.8 2072.1L1182.8 2071.3L1186.9 2071.6L1190.9 2072.2L1194.9 2072.2L1199 2071.6L1203 2071.4L1207.1 2071.8L1211.1 2072.3L1215.1 2071.8L1219.2 2071.5L1223.2 2072.3L1227.2 2072.1L1231.3 2072.7L1235.3 2072.7L1239.4 2072.7L1243.4 2072L1247.4 2072.6L1251.5 2071.9L1255.5 2071.9L1259.5 2072L1263.6 2072.8L1267.6 2072.8L1271.7 2071.9L1275.7 2072.1L1279.7 2072.1L1283.8 2072.1L1287.8 2072.2L1291.8 2072.2L1295.9 2071.9L1299.9 2072.5L1304 2072.8L1308 2072.5L1312 2072.9L1316.1 2072.5L1320.1 2072L1324.1 2072.8L1328.2 2073L1332.2 2072.2L1336.3 2071.9L1340.3 2072.6L1344.3 2072.6L1348.4 2072.7L1352.4 2073.2L1356.4 2072.8L1360.5 2073L1364.5 2072L1368.6 2072.7L1372.6 2073.1L1376.6 2072.1L1380.7 2072.1L1384.7 2073.1L1388.7 2073.3L1392.8 2072.2L1396.8 2073L1400.9 2072.3L1404.9 2073.2L1408.9 2073L1413 2072.5L1417 2072.5L1421 2073.3L1425.1 2072.9L1429.1 2073.3L1433.2 2072.8L1437.2 2072.7L1441.2 2073.6L1445.3 2073.2L1449.3 2073L1453.3 2073.1L1457.4 2073.3L1461.4 2073.3L1465.5 2073.7L1469.5 2073L1473.5 2073.6L1477.6 2073.4L1481.6 2073.6L1485.6 2073.6L1489.7 2073.6L1493.7 2073.7L1497.7 2073.9L1501.8 2073.4L1505.8 2073.3L1509.9 2073.6L1513.9 2073.7L1517.9 2073.2L1522 2073.2L1526 2072.8L1530 2073.7L1534.1 2074.1L1538.1 2073.2L1542.2 2072.9L1546.2 2073L1550.2 2073.3L1554.3 2073.2L1558.3 2074.1L1562.3 2072.9L1566.4 2073.2L1570.4 2073L1574.5 2073.8L1578.5 2073.9L1582.5 2073.1L1586.6 2073L1590.6 2073.6L1594.6 2073.7L1598.7 2074.2L1602.7 2073L1606.8 2073.1L1610.8 2073.3L1614.8 2073.3L1618.9 2073.4L1622.9 2074.1L1626.9 2073.9L1631 2073.4L1635 2073.4L1639.1 2073.5L1643.1 2073.4L1647.1 2074.2L1651.2 2073.6L1655.2 2074L1659.2 2074.4L1663.3 2073.9L1667.3 2073.6L1671.4 2074.5L1675.4 2074.6L1679.4 2073.8L1683.5 2074.1L1687.5 2074.7L1691.5 2074L1695.6 2073.7L1699.6 2073.5L1703.7 2074.7L1707.7 2074.5L1711.7 2074L1715.8 2074.2L1719.8 2074.2L1723.8 2073.9L1727.9 2074.9L1731.9 2074.4L1736 2073.9L1740 2073.6L1744 2074.2L1748.1 2074.1L1752.1 2074.7L1756.1 2074.6L1760.2 2074.5L1764.2 2073.9L1768.3 2073.9L1772.3 2074.1L1776.3 2074.1L1780.4 2074.9L1784.4 2074.5L1788.4 2074.7L1792.5 2075.2L1796.5 2074.2L1800.6 2074.6L1804.6 2074L1808.6 2074.9L1812.7 2073.9L1816.7 2075L1820.7 2075.1L1824.8 2075.1L1828.8 2074.1L1832.9 2074.3L1836.9 2075L1840.9 2074.1L1845 2074.7L1849 2074.7L1853 2075.4L1857.1 2074.9L1861.1 2075.3L1865.2 2074.5L1869.2 2075.2L1873.2 2074.7L1877.3 2075.4L1881.3 2074.3L1885.3 2075.3L1889.4 2074.5L1893.4 2075L1897.5 2075L1901.5 2074.5L1905.5 2075.4L1909.6 2074.7L1913.6 2074.7" fill="none" stroke="#f0fcfc" stroke-width="3.6" stroke-linecap="round" stroke-dasharray="0.1 4.33" opacity="0.85"/>
<path d="M219.1 2166.1L223.1 2166.5L227.2 2166.8L231.2 2167.2L235.2 2166.8L239.3 2167.3L243.3 2166.6L247.4 2167.1L251.4 2167.3L255.4 2168L259.5 2167.9L263.5 2167.8L267.5 2166.9L271.6 2167.5L275.6 2168.1L279.7 2167.5L283.7 2168L287.7 2167.9L291.8 2167.4L295.8 2168.8L299.8 2168.6L303.9 2167.9L307.9 2168.4L312 2167.9L316 2168L320 2168.2L324.1 2167.8L328.1 2167.8L332.1 2167.9L336.2 2168.2L340.2 2167.6L344.3 2167.5L348.3 2168.2L352.3 2167.6L356.4 2168.3L360.4 2167.5L364.4 2167.5L368.5 2166.6L372.5 2167.1L376.6 2165.8L380.6 2165.5L384.6 2165.2L388.7 2165.7L392.7 2165.8L396.7 2165.1L400.8 2165.4L404.8 2166L408.9 2165.6L412.9 2164.9L416.9 2165.1L421 2165L425 2165L429 2165.4L433.1 2164.9L437.1 2166.1L441.2 2165.4L445.2 2165.5L449.2 2165.7L453.3 2165.9L457.3 2166L461.3 2165.4L465.4 2165.3L469.4 2165.4L473.5 2164.8L477.5 2165.4L481.5 2165.8L485.6 2166.2L489.6 2165.9L493.6 2165.8L497.7 2165.7L501.7 2164.9L505.8 2165.3L509.8 2165.3L513.8 2165.7L517.9 2165L521.9 2165.4L525.9 2165.6L530 2165.9L534 2166L538.1 2165.7L542.1 2165.1L546.1 2165.9L550.2 2166.1L554.2 2165.6L558.2 2165.3L562.3 2165.6L566.3 2165.1L570.4 2165.9L574.4 2166.2L578.4 2165.6L582.5 2165.9L586.5 2166L590.5 2165.1L594.6 2166.2L598.6 2165.7L602.7 2165.1L606.7 2165L610.7 2165.2L614.8 2165.7L618.8 2165.8L622.8 2165.3L626.9 2166.2L630.9 2165.4L635 2165.5L639 2165L643 2166.2L647.1 2165.1L651.1 2166.1L655.1 2165.6L659.2 2165.7L663.2 2165.7L667.2 2165.3L671.3 2166.2L675.3 2166.3L679.4 2166L683.4 2165.7L687.4 2165.1L691.5 2166L695.5 2165.3L699.5 2166.1L703.6 2165.2L707.6 2165.7L711.7 2166.1L715.7 2165.2L719.7 2165.7L723.8 2165L727.8 2164.9L731.8 2165.2L735.9 2166.3L739.9 2166.2L744 2165.9L748 2165.4L752 2165.9L756.1 2166L760.1 2165.5L764.1 2165.8L768.2 2166.1L772.2 2165L776.3 2165.3L780.3 2165.6L784.3 2165.2L788.4 2165.5L792.4 2165.8L796.4 2165.3L800.5 2165.8L804.5 2165.4L808.6 2165.8L812.6 2165.5L816.6 2166L820.7 2165.1L824.7 2166L828.7 2165.3L832.8 2166.4L836.8 2165.9L840.9 2165.8L844.9 2165.7L848.9 2166L853 2166.1L857 2166.2L861 2166.2L865.1 2165.8L869.1 2166.5L873.2 2166.3L877.2 2166.4L881.2 2165.7L885.3 2165.8L889.3 2166L893.3 2166.5L897.4 2165.9L901.4 2165.9L905.5 2165.8L909.5 2166.5L913.5 2165.7L917.6 2165.3L921.6 2166.3L925.6 2166.5L929.7 2166.3L933.7 2166.1L937.8 2166.3L941.8 2165.7L945.8 2166.1L949.9 2165.4L953.9 2165.5L957.9 2165.9L962 2166L966 2165.9L970.1 2165.4L974.1 2166.3L978.1 2166.1L982.2 2165.7L986.2 2165.8L990.2 2165.9L994.3 2165.7L998.3 2165.5L1002.4 2166.7L1006.4 2166.7L1010.4 2166.3L1014.5 2166.6L1018.5 2166L1022.5 2166.5L1026.6 2165.7L1030.6 2166.5L1034.7 2166.2L1038.7 2166.7L1042.7 2165.6L1046.8 2166.6L1050.8 2165.6L1054.8 2166.2L1058.9 2166.8L1062.9 2165.5L1067 2165.8L1071 2165.9L1075 2166L1079.1 2165.6L1083.1 2166.8L1087.1 2166.7L1091.2 2166.1L1095.2 2166L1099.2 2166.4L1103.3 2165.6L1107.3 2165.6L1111.4 2166.8L1115.4 2166L1119.4 2166.3L1123.5 2166.9L1127.5 2167L1131.5 2166.3L1135.6 2165.9L1139.6 2166L1143.7 2166.9L1147.7 2166.9L1151.7 2165.9L1155.8 2166.8L1159.8 2166.2L1163.8 2166.3L1167.9 2165.9L1171.9 2166.9L1176 2167.1L1180 2166L1184 2166.6L1188.1 2166L1192.1 2167L1196.1 2165.8L1200.2 2165.9L1204.2 2166.8L1208.3 2166.2L1212.3 2167L1216.3 2167L1220.4 2166.8L1224.4 2166L1228.4 2166.8L1232.5 2167.1L1236.5 2166.4L1240.6 2165.9L1244.6 2166.1L1248.6 2166.3L1252.7 2166.8L1256.7 2166.1L1260.7 2166.1L1264.8 2166.2L1268.8 2166.8L1272.9 2167L1276.9 2166.4L1280.9 2166.8L1285 2167.1L1289 2166.7L1293 2166.2L1297.1 2166.3L1301.1 2167.2L1305.2 2166.9L1309.2 2166.3L1313.2 2166.8L1317.3 2166.1L1321.3 2167.3L1325.3 2166.6L1329.4 2166.7L1333.4 2166.7L1337.5 2166L1341.5 2166.8L1345.5 2166.4L1349.6 2166.4L1353.6 2167.1L1357.6 2166.1L1361.7 2166.4L1365.7 2167.1L1369.8 2166.4L1373.8 2166.4L1377.8 2166.8L1381.9 2166.3L1385.9 2167.3L1389.9 2167.5L1394 2166.1L1398 2166.7L1402.1 2167.1L1406.1 2166.6L1410.1 2167.4L1414.2 2166.8L1418.2 2166.4L1422.2 2166.9L1426.3 2167L1430.3 2166.6L1434.4 2167.1L1438.4 2167.3L1442.4 2166.9L1446.5 2166.9L1450.5 2167.4L1454.5 2167.1L1458.6 2166.9L1462.6 2167.5L1466.7 2166.5L1470.7 2167.3L1474.7 2166.5L1478.8 2167.1L1482.8 2166.6L1486.8 2166.9L1490.9 2167.3L1494.9 2167.4L1498.9 2167.4L1503 2166.6L1507 2167L1511.1 2166.6L1515.1 2167.1L1519.1 2167L1523.2 2166.4L1527.2 2167.1L1531.2 2167.3L1535.3 2167.1L1539.3 2167.6L1543.4 2166.6L1547.4 2166.6L1551.4 2166.4L1555.5 2167.1L1559.5 2167L1563.5 2167L1567.6 2166.8L1571.6 2167.5L1575.7 2166.5L1579.7 2167.7L1583.7 2167.2L1587.8 2167.2L1591.8 2167.5L1595.8 2166.8L1599.9 2166.6L1603.9 2166.9L1608 2166.5L1612 2166.9L1616 2167.3L1620.1 2167.2L1624.1 2166.9L1628.1 2167.3L1632.2 2166.6L1636.2 2167.7L1640.3 2166.8L1644.3 2166.9L1648.3 2166.8L1652.4 2167.5L1656.4 2167.7L1660.4 2167.7L1664.5 2166.6L1668.5 2167.1L1672.6 2167.1L1676.6 2166.9L1680.6 2167.9L1684.7 2166.7L1688.7 2167.3L1692.7 2167.7L1696.8 2168L1700.8 2166.8L1704.9 2167.3L1708.9 2167.7L1712.9 2166.7L1717 2167L1721 2167.9L1725 2166.9L1729.1 2167.2L1733.1 2167.1L1737.2 2167.3L1741.2 2166.8L1745.2 2166.7L1749.3 2168.1L1753.3 2167.8L1757.3 2167.7L1761.4 2167.1L1765.4 2167.1L1769.5 2167.5L1773.5 2167.1L1777.5 2167.4L1781.6 2168.1L1785.6 2167.3L1789.6 2167.3L1793.7 2168.2L1797.7 2167.6L1801.8 2166.9L1805.8 2167.4L1809.8 2167.7L1813.9 2166.9L1817.9 2167.3L1821.9 2167.8L1826 2168.1L1830 2167.7L1834.1 2168.1L1838.1 2167.5L1842.1 2167.4L1846.2 2168.1L1850.2 2167.4L1854.2 2168L1858.3 2167.2L1862.3 2167.4L1866.4 2167.2L1870.4 2167.7L1874.4 2167.2L1878.5 2167.2L1882.5 2167.2L1886.5 2167.6L1890.6 2167.4L1894.6 2167.6L1898.7 2168.4L1902.7 2167.9L1906.7 2168.2L1910.8 2167.3L1914.8 2167.5" fill="none" stroke="#d7336c" stroke-width="20.5" stroke-linecap="round" stroke-linejoin="round"/>
<path d="M217.9 2163.4L221.9 2163.8L226 2164.1L230 2164.5L234 2164.1L238.1 2164.6L242.1 2163.9L246.2 2164.4L250.2 2164.6L254.2 2165.3L258.3 2165.2L262.3 2165.1L266.3 2164.2L270.4 2164.8L274.4 2165.4L278.5 2164.8L282.5 2165.3L286.5 2165.2L290.6 2164.7L294.6 2166.1L298.6 2165.9L302.7 2165.2L306.7 2165.7L310.8 2165.2L314.8 2165.3L318.8 2165.5L322.9 2165.1L326.9 2165.1L330.9 2165.2L335 2165.5L339 2164.9L343.1 2164.8L347.1 2165.5L351.1 2164.9L355.2 2165.6L359.2 2164.8L363.2 2164.8L367.3 2163.9L371.3 2164.4L375.4 2163.1L379.4 2162.8L383.4 2162.5L387.5 2163L391.5 2163.1L395.5 2162.4L399.6 2162.7L403.6 2163.3L407.7 2162.9L411.7 2162.2L415.7 2162.4L419.8 2162.3L423.8 2162.3L427.8 2162.7L431.9 2162.2L435.9 2163.4L440 2162.7L444 2162.8L448 2163L452.1 2163.2L456.1 2163.3L460.1 2162.7L464.2 2162.6L468.2 2162.7L472.3 2162.1L476.3 2162.7L480.3 2163.1L484.4 2163.5L488.4 2163.2L492.4 2163.1L496.5 2163L500.5 2162.2L504.6 2162.6L508.6 2162.6L512.6 2163L516.7 2162.3L520.7 2162.7L524.7 2162.9L528.8 2163.2L532.8 2163.3L536.9 2163L540.9 2162.4L544.9 2163.2L549 2163.4L553 2162.9L557 2162.6L561.1 2162.9L565.1 2162.4L569.2 2163.2L573.2 2163.5L577.2 2162.9L581.3 2163.2L585.3 2163.3L589.3 2162.4L593.4 2163.5L597.4 2163L601.5 2162.4L605.5 2162.3L609.5 2162.5L613.6 2163L617.6 2163.1L621.6 2162.6L625.7 2163.5L629.7 2162.7L633.8 2162.8L637.8 2162.3L641.8 2163.5L645.9 2162.4L649.9 2163.4L653.9 2162.9L658 2163L662 2163L666 2162.6L670.1 2163.5L674.1 2163.6L678.2 2163.3L682.2 2163L686.2 2162.4L690.3 2163.3L694.3 2162.6L698.3 2163.4L702.4 2162.5L706.4 2163L710.5 2163.4L714.5 2162.5L718.5 2163L722.6 2162.3L726.6 2162.2L730.6 2162.5L734.7 2163.6L738.7 2163.5L742.8 2163.2L746.8 2162.7L750.8 2163.2L754.9 2163.3L758.9 2162.8L762.9 2163.1L767 2163.4L771 2162.3L775.1 2162.6L779.1 2162.9L783.1 2162.5L787.2 2162.8L791.2 2163.1L795.2 2162.6L799.3 2163.1L803.3 2162.7L807.4 2163.1L811.4 2162.8L815.4 2163.3L819.5 2162.4L823.5 2163.3L827.5 2162.6L831.6 2163.7L835.6 2163.2L839.7 2163.1L843.7 2163L847.7 2163.3L851.8 2163.4L855.8 2163.5L859.8 2163.5L863.9 2163.1L867.9 2163.8L872 2163.6L876 2163.7L880 2163L884.1 2163.1L888.1 2163.3L892.1 2163.8L896.2 2163.2L900.2 2163.2L904.3 2163.1L908.3 2163.8L912.3 2163L916.4 2162.6L920.4 2163.6L924.4 2163.8L928.5 2163.6L932.5 2163.4L936.6 2163.6L940.6 2163L944.6 2163.4L948.7 2162.7L952.7 2162.8L956.7 2163.2L960.8 2163.3L964.8 2163.2L968.9 2162.7L972.9 2163.6L976.9 2163.4L981 2163L985 2163.1L989 2163.2L993.1 2163L997.1 2162.8L1001.2 2164L1005.2 2164L1009.2 2163.6L1013.3 2163.9L1017.3 2163.3L1021.3 2163.8L1025.4 2163L1029.4 2163.8L1033.5 2163.5L1037.5 2164L1041.5 2162.9L1045.6 2163.9L1049.6 2162.9L1053.6 2163.5L1057.7 2164.1L1061.7 2162.8L1065.8 2163.1L1069.8 2163.2L1073.8 2163.3L1077.9 2162.9L1081.9 2164.1L1085.9 2164L1090 2163.4L1094 2163.3L1098 2163.7L1102.1 2162.9L1106.1 2162.9L1110.2 2164.1L1114.2 2163.3L1118.2 2163.6L1122.3 2164.2L1126.3 2164.3L1130.3 2163.6L1134.4 2163.2L1138.4 2163.3L1142.5 2164.2L1146.5 2164.2L1150.5 2163.2L1154.6 2164.1L1158.6 2163.5L1162.6 2163.6L1166.7 2163.2L1170.7 2164.2L1174.8 2164.4L1178.8 2163.3L1182.8 2163.9L1186.9 2163.3L1190.9 2164.3L1194.9 2163.1L1199 2163.2L1203 2164.1L1207.1 2163.5L1211.1 2164.3L1215.1 2164.3L1219.2 2164.1L1223.2 2163.3L1227.2 2164.1L1231.3 2164.4L1235.3 2163.7L1239.4 2163.2L1243.4 2163.4L1247.4 2163.6L1251.5 2164.1L1255.5 2163.4L1259.5 2163.4L1263.6 2163.5L1267.6 2164.1L1271.7 2164.3L1275.7 2163.7L1279.7 2164.1L1283.8 2164.4L1287.8 2164L1291.8 2163.5L1295.9 2163.6L1299.9 2164.5L1304 2164.2L1308 2163.6L1312 2164.1L1316.1 2163.4L1320.1 2164.6L1324.1 2163.9L1328.2 2164L1332.2 2164L1336.3 2163.3L1340.3 2164.1L1344.3 2163.7L1348.4 2163.7L1352.4 2164.4L1356.4 2163.4L1360.5 2163.7L1364.5 2164.4L1368.6 2163.7L1372.6 2163.7L1376.6 2164.1L1380.7 2163.6L1384.7 2164.6L1388.7 2164.8L1392.8 2163.4L1396.8 2164L1400.9 2164.4L1404.9 2163.9L1408.9 2164.7L1413 2164.1L1417 2163.7L1421 2164.2L1425.1 2164.3L1429.1 2163.9L1433.2 2164.4L1437.2 2164.6L1441.2 2164.2L1445.3 2164.2L1449.3 2164.7L1453.3 2164.4L1457.4 2164.2L1461.4 2164.8L1465.5 2163.8L1469.5 2164.6L1473.5 2163.8L1477.6 2164.4L1481.6 2163.9L1485.6 2164.2L1489.7 2164.6L1493.7 2164.7L1497.7 2164.7L1501.8 2163.9L1505.8 2164.3L1509.9 2163.9L1513.9 2164.4L1517.9 2164.3L1522 2163.7L1526 2164.4L1530 2164.6L1534.1 2164.4L1538.1 2164.9L1542.2 2163.9L1546.2 2163.9L1550.2 2163.7L1554.3 2164.4L1558.3 2164.3L1562.3 2164.3L1566.4 2164.1L1570.4 2164.8L1574.5 2163.8L1578.5 2165L1582.5 2164.5L1586.6 2164.5L1590.6 2164.8L1594.6 2164.1L1598.7 2163.9L1602.7 2164.2L1606.8 2163.8L1610.8 2164.2L1614.8 2164.6L1618.9 2164.5L1622.9 2164.2L1626.9 2164.6L1631 2163.9L1635 2165L1639.1 2164.1L1643.1 2164.2L1647.1 2164.1L1651.2 2164.8L1655.2 2165L1659.2 2165L1663.3 2163.9L1667.3 2164.4L1671.4 2164.4L1675.4 2164.2L1679.4 2165.2L1683.5 2164L1687.5 2164.6L1691.5 2165L1695.6 2165.3L1699.6 2164.1L1703.7 2164.6L1707.7 2165L1711.7 2164L1715.8 2164.3L1719.8 2165.2L1723.8 2164.2L1727.9 2164.5L1731.9 2164.4L1736 2164.6L1740 2164.1L1744 2164L1748.1 2165.4L1752.1 2165.1L1756.1 2165L1760.2 2164.4L1764.2 2164.4L1768.3 2164.8L1772.3 2164.4L1776.3 2164.7L1780.4 2165.4L1784.4 2164.6L1788.4 2164.6L1792.5 2165.5L1796.5 2164.9L1800.6 2164.2L1804.6 2164.7L1808.6 2165L1812.7 2164.2L1816.7 2164.6L1820.7 2165.1L1824.8 2165.4L1828.8 2165L1832.9 2165.4L1836.9 2164.8L1840.9 2164.7L1845 2165.4L1849 2164.7L1853 2165.3L1857.1 2164.5L1861.1 2164.7L1865.2 2164.5L1869.2 2165L1873.2 2164.5L1877.3 2164.5L1881.3 2164.5L1885.3 2164.9L1889.4 2164.7L1893.4 2164.9L1897.5 2165.7L1901.5 2165.2L1905.5 2165.5L1909.6 2164.6L1913.6 2164.8" fill="none" stroke="#fde0ea" stroke-width="6.6" stroke-linecap="round" stroke-dasharray="0.1 4.33" opacity="0.5"/>
<path d="M217.9 2163.4L221.9 2163.8L226 2164.1L230 2164.5L234 2164.1L238.1 2164.6L242.1 2163.9L246.2 2164.4L250.2 2164.6L254.2 2165.3L258.3 2165.2L262.3 2165.1L266.3 2164.2L270.4 2164.8L274.4 2165.4L278.5 2164.8L282.5 2165.3L286.5 2165.2L290.6 2164.7L294.6 2166.1L298.6 2165.9L302.7 2165.2L306.7 2165.7L310.8 2165.2L314.8 2165.3L318.8 2165.5L322.9 2165.1L326.9 2165.1L330.9 2165.2L335 2165.5L339 2164.9L343.1 2164.8L347.1 2165.5L351.1 2164.9L355.2 2165.6L359.2 2164.8L363.2 2164.8L367.3 2163.9L371.3 2164.4L375.4 2163.1L379.4 2162.8L383.4 2162.5L387.5 2163L391.5 2163.1L395.5 2162.4L399.6 2162.7L403.6 2163.3L407.7 2162.9L411.7 2162.2L415.7 2162.4L419.8 2162.3L423.8 2162.3L427.8 2162.7L431.9 2162.2L435.9 2163.4L440 2162.7L444 2162.8L448 2163L452.1 2163.2L456.1 2163.3L460.1 2162.7L464.2 2162.6L468.2 2162.7L472.3 2162.1L476.3 2162.7L480.3 2163.1L484.4 2163.5L488.4 2163.2L492.4 2163.1L496.5 2163L500.5 2162.2L504.6 2162.6L508.6 2162.6L512.6 2163L516.7 2162.3L520.7 2162.7L524.7 2162.9L528.8 2163.2L532.8 2163.3L536.9 2163L540.9 2162.4L544.9 2163.2L549 2163.4L553 2162.9L557 2162.6L561.1 2162.9L565.1 2162.4L569.2 2163.2L573.2 2163.5L577.2 2162.9L581.3 2163.2L585.3 2163.3L589.3 2162.4L593.4 2163.5L597.4 2163L601.5 2162.4L605.5 2162.3L609.5 2162.5L613.6 2163L617.6 2163.1L621.6 2162.6L625.7 2163.5L629.7 2162.7L633.8 2162.8L637.8 2162.3L641.8 2163.5L645.9 2162.4L649.9 2163.4L653.9 2162.9L658 2163L662 2163L666 2162.6L670.1 2163.5L674.1 2163.6L678.2 2163.3L682.2 2163L686.2 2162.4L690.3 2163.3L694.3 2162.6L698.3 2163.4L702.4 2162.5L706.4 2163L710.5 2163.4L714.5 2162.5L718.5 2163L722.6 2162.3L726.6 2162.2L730.6 2162.5L734.7 2163.6L738.7 2163.5L742.8 2163.2L746.8 2162.7L750.8 2163.2L754.9 2163.3L758.9 2162.8L762.9 2163.1L767 2163.4L771 2162.3L775.1 2162.6L779.1 2162.9L783.1 2162.5L787.2 2162.8L791.2 2163.1L795.2 2162.6L799.3 2163.1L803.3 2162.7L807.4 2163.1L811.4 2162.8L815.4 2163.3L819.5 2162.4L823.5 2163.3L827.5 2162.6L831.6 2163.7L835.6 2163.2L839.7 2163.1L843.7 2163L847.7 2163.3L851.8 2163.4L855.8 2163.5L859.8 2163.5L863.9 2163.1L867.9 2163.8L872 2163.6L876 2163.7L880 2163L884.1 2163.1L888.1 2163.3L892.1 2163.8L896.2 2163.2L900.2 2163.2L904.3 2163.1L908.3 2163.8L912.3 2163L916.4 2162.6L920.4 2163.6L924.4 2163.8L928.5 2163.6L932.5 2163.4L936.6 2163.6L940.6 2163L944.6 2163.4L948.7 2162.7L952.7 2162.8L956.7 2163.2L960.8 2163.3L964.8 2163.2L968.9 2162.7L972.9 2163.6L976.9 2163.4L981 2163L985 2163.1L989 2163.2L993.1 2163L997.1 2162.8L1001.2 2164L1005.2 2164L1009.2 2163.6L1013.3 2163.9L1017.3 2163.3L1021.3 2163.8L1025.4 2163L1029.4 2163.8L1033.5 2163.5L1037.5 2164L1041.5 2162.9L1045.6 2163.9L1049.6 2162.9L1053.6 2163.5L1057.7 2164.1L1061.7 2162.8L1065.8 2163.1L1069.8 2163.2L1073.8 2163.3L1077.9 2162.9L1081.9 2164.1L1085.9 2164L1090 2163.4L1094 2163.3L1098 2163.7L1102.1 2162.9L1106.1 2162.9L1110.2 2164.1L1114.2 2163.3L1118.2 2163.6L1122.3 2164.2L1126.3 2164.3L1130.3 2163.6L1134.4 2163.2L1138.4 2163.3L1142.5 2164.2L1146.5 2164.2L1150.5 2163.2L1154.6 2164.1L1158.6 2163.5L1162.6 2163.6L1166.7 2163.2L1170.7 2164.2L1174.8 2164.4L1178.8 2163.3L1182.8 2163.9L1186.9 2163.3L1190.9 2164.3L1194.9 2163.1L1199 2163.2L1203 2164.1L1207.1 2163.5L1211.1 2164.3L1215.1 2164.3L1219.2 2164.1L1223.2 2163.3L1227.2 2164.1L1231.3 2164.4L1235.3 2163.7L1239.4 2163.2L1243.4 2163.4L1247.4 2163.6L1251.5 2164.1L1255.5 2163.4L1259.5 2163.4L1263.6 2163.5L1267.6 2164.1L1271.7 2164.3L1275.7 2163.7L1279.7 2164.1L1283.8 2164.4L1287.8 2164L1291.8 2163.5L1295.9 2163.6L1299.9 2164.5L1304 2164.2L1308 2163.6L1312 2164.1L1316.1 2163.4L1320.1 2164.6L1324.1 2163.9L1328.2 2164L1332.2 2164L1336.3 2163.3L1340.3 2164.1L1344.3 2163.7L1348.4 2163.7L1352.4 2164.4L1356.4 2163.4L1360.5 2163.7L1364.5 2164.4L1368.6 2163.7L1372.6 2163.7L1376.6 2164.1L1380.7 2163.6L1384.7 2164.6L1388.7 2164.8L1392.8 2163.4L1396.8 2164L1400.9 2164.4L1404.9 2163.9L1408.9 2164.7L1413 2164.1L1417 2163.7L1421 2164.2L1425.1 2164.3L1429.1 2163.9L1433.2 2164.4L1437.2 2164.6L1441.2 2164.2L1445.3 2164.2L1449.3 2164.7L1453.3 2164.4L1457.4 2164.2L1461.4 2164.8L1465.5 2163.8L1469.5 2164.6L1473.5 2163.8L1477.6 2164.4L1481.6 2163.9L1485.6 2164.2L1489.7 2164.6L1493.7 2164.7L1497.7 2164.7L1501.8 2163.9L1505.8 2164.3L1509.9 2163.9L1513.9 2164.4L1517.9 2164.3L1522 2163.7L1526 2164.4L1530 2164.6L1534.1 2164.4L1538.1 2164.9L1542.2 2163.9L1546.2 2163.9L1550.2 2163.7L1554.3 2164.4L1558.3 2164.3L1562.3 2164.3L1566.4 2164.1L1570.4 2164.8L1574.5 2163.8L1578.5 2165L1582.5 2164.5L1586.6 2164.5L1590.6 2164.8L1594.6 2164.1L1598.7 2163.9L1602.7 2164.2L1606.8 2163.8L1610.8 2164.2L1614.8 2164.6L1618.9 2164.5L1622.9 2164.2L1626.9 2164.6L1631 2163.9L1635 2165L1639.1 2164.1L1643.1 2164.2L1647.1 2164.1L1651.2 2164.8L1655.2 2165L1659.2 2165L1663.3 2163.9L1667.3 2164.4L1671.4 2164.4L1675.4 2164.2L1679.4 2165.2L1683.5 2164L1687.5 2164.6L1691.5 2165L1695.6 2165.3L1699.6 2164.1L1703.7 2164.6L1707.7 2165L1711.7 2164L1715.8 2164.3L1719.8 2165.2L1723.8 2164.2L1727.9 2164.5L1731.9 2164.4L1736 2164.6L1740 2164.1L1744 2164L1748.1 2165.4L1752.1 2165.1L1756.1 2165L1760.2 2164.4L1764.2 2164.4L1768.3 2164.8L1772.3 2164.4L1776.3 2164.7L1780.4 2165.4L1784.4 2164.6L1788.4 2164.6L1792.5 2165.5L1796.5 2164.9L1800.6 2164.2L1804.6 2164.7L1808.6 2165L1812.7 2164.2L1816.7 2164.6L1820.7 2165.1L1824.8 2165.4L1828.8 2165L1832.9 2165.4L1836.9 2164.8L1840.9 2164.7L1845 2165.4L1849 2164.7L1853 2165.3L1857.1 2164.5L1861.1 2164.7L1865.2 2164.5L1869.2 2165L1873.2 2164.5L1877.3 2164.5L1881.3 2164.5L1885.3 2164.9L1889.4 2164.7L1893.4 2164.9L1897.5 2165.7L1901.5 2165.2L1905.5 2165.5L1909.6 2164.6L1913.6 2164.8" fill="none" stroke="#fde0ea" stroke-width="3.6" stroke-linecap="round" stroke-dasharray="0.1 4.33" opacity="0.85"/>
</g>
<rect x="219.1" y="1660" width="1695.7" height="604.9" fill="none" stroke="#000" stroke-width="3.7"/>
<line x1="219.1" y1="2264.9" x2="219.1" y2="2279.4" stroke="#000" stroke-width="3.7" stroke-linecap="butt"/>
<line x1="558.2" y1="2264.9" x2="558.2" y2="2279.4" stroke="#000" stroke-width="3.7" stroke-linecap="butt"/>
<line x1="897.4" y1="2264.9" x2="897.4" y2="2279.4" stroke="#000" stroke-width="3.7" stroke-linecap="butt"/>
<line x1="1236.5" y1="2264.9" x2="1236.5" y2="2279.4" stroke="#000" stroke-width="3.7" stroke-linecap="butt"/>
<line x1="1575.7" y1="2264.9" x2="1575.7" y2="2279.4" stroke="#000" stroke-width="3.7" stroke-linecap="butt"/>
<line x1="1914.8" y1="2264.9" x2="1914.8" y2="2279.4" stroke="#000" stroke-width="3.7" stroke-linecap="butt"/>
<line x1="388.7" y1="2264.9" x2="388.7" y2="2274.9" stroke="#000" stroke-width="3.7" stroke-linecap="butt"/>
<line x1="727.8" y1="2264.9" x2="727.8" y2="2274.9" stroke="#000" stroke-width="3.7" stroke-linecap="butt"/>
<line x1="1067" y1="2264.9" x2="1067" y2="2274.9" stroke="#000" stroke-width="3.7" stroke-linecap="butt"/>
<line x1="1406.1" y1="2264.9" x2="1406.1" y2="2274.9" stroke="#000" stroke-width="3.7" stroke-linecap="butt"/>
<line x1="1745.2" y1="2264.9" x2="1745.2" y2="2274.9" stroke="#000" stroke-width="3.7" stroke-linecap="butt"/>
<text x="219.1" y="2323.9" font-size="43.5" text-anchor="middle" fill="#000" font-weight="bold">0</text>
<text x="558.2" y="2323.9" font-size="43.5" text-anchor="middle" fill="#000" font-weight="bold">20</text>
<text x="897.4" y="2323.9" font-size="43.5" text-anchor="middle" fill="#000" font-weight="bold">40</text>
<text x="1236.5" y="2323.9" font-size="43.5" text-anchor="middle" fill="#000" font-weight="bold">60</text>
<text x="1575.7" y="2323.9" font-size="43.5" text-anchor="middle" fill="#000" font-weight="bold">80</text>
<text x="1914.8" y="2323.9" font-size="43.5" text-anchor="middle" fill="#000" font-weight="bold">100</text>
<line x1="204.1" y1="2264.9" x2="219.1" y2="2264.9" stroke="#000" stroke-width="3.7" stroke-linecap="butt"/>
<line x1="204.1" y1="2063.3" x2="219.1" y2="2063.3" stroke="#000" stroke-width="3.7" stroke-linecap="butt"/>
<line x1="204.1" y1="1861.6" x2="219.1" y2="1861.6" stroke="#000" stroke-width="3.7" stroke-linecap="butt"/>
<line x1="204.1" y1="1660" x2="219.1" y2="1660" stroke="#000" stroke-width="3.7" stroke-linecap="butt"/>
<line x1="209.1" y1="2164.1" x2="219.1" y2="2164.1" stroke="#000" stroke-width="3.7" stroke-linecap="butt"/>
<line x1="209.1" y1="1962.4" x2="219.1" y2="1962.4" stroke="#000" stroke-width="3.7" stroke-linecap="butt"/>
<line x1="209.1" y1="1760.8" x2="219.1" y2="1760.8" stroke="#000" stroke-width="3.7" stroke-linecap="butt"/>
<text x="192.6" y="2276.9" font-size="43.5" text-anchor="end" fill="#000" font-weight="bold">0</text>
<text x="192.6" y="2075.3" font-size="43.5" text-anchor="end" fill="#000" font-weight="bold">-20</text>
<text x="192.6" y="1873.6" font-size="43.5" text-anchor="end" fill="#000" font-weight="bold">-40</text>
<text x="192.6" y="1672" font-size="43.5" text-anchor="end" fill="#000" font-weight="bold">-60</text>
<text x="55" y="1683.8" font-size="108" text-anchor="start" fill="#000" font-weight="bold">g</text>
<text x="108.5" y="1952.3" font-size="45.3" text-anchor="middle" fill="#000" font-weight="bold" transform="rotate(-90 108.5 1952.3)"><tspan font-style="italic">j</tspan><tspan> (mA cm</tspan><tspan font-size="31.7" dy="-19">-2</tspan><tspan dy="19">)</tspan></text>
<text x="1070" y="2394" font-size="45.3" text-anchor="middle" fill="#000" font-weight="bold">Time (h)</text>
<text x="239" y="1747.4" font-size="39.6" text-anchor="start" fill="#9bb267" font-weight="bold">E=-0.15 V vs. RHE</text>
<text x="239" y="2050.9" font-size="39.6" text-anchor="start" fill="#8fcdd1" font-weight="bold">E=-0.10 V vs. RHE</text>
<text x="241.5" y="2147.3" font-size="39.9" text-anchor="start" fill="#d7336c" font-weight="bold">E=-0.07 V vs. RHE</text>
<text x="1889.5" y="1747.6" font-size="39" text-anchor="end" fill="#9bb267" font-weight="bold">95.9%</text>
<text x="1895.5" y="2050.9" font-size="39" text-anchor="end" fill="#8fcdd1" font-weight="bold">98.4%</text>
<text x="1895" y="2149.7" font-size="39" text-anchor="end" fill="#d7336c" font-weight="bold">99.3%</text>
<rect x="2118.1" y="1660" width="750.8" height="604.9" fill="url(#bgH)"/>
<clipPath id="clipH"><rect x="2118.1" y="1660" width="752.8" height="604.9"/></clipPath>
<g clip-path="url(#clipH)" fill="none" stroke-width="5.2" stroke-linecap="round" stroke-linejoin="round">
<path d="M2868.9 1671C2864.9 1671.4 2852.5 1672.5 2845 1673.5C2837.5 1674.5 2830.2 1675.5 2823.7 1676.8C2817.2 1678 2811.5 1679.5 2806 1681C2800.5 1682.5 2796.4 1683.6 2790.6 1686.1C2784.8 1688.6 2777.2 1692.3 2771 1696C2764.8 1699.7 2762.1 1701 2753.7 1708.2C2745.3 1715.5 2731 1727.5 2720.6 1739.5C2710.2 1751.5 2700.3 1765.9 2691.1 1780C2681.9 1794.1 2674 1807.6 2665.3 1824.2C2656.6 1840.8 2647.2 1861.1 2639 1879.5C2630.8 1897.9 2623.8 1916.4 2616 1934.8C2608.2 1953.2 2600 1971 2592 1990C2584 2009 2575.8 2028.7 2568 2049C2560.2 2069.3 2553.2 2090.1 2545.5 2111.6C2537.8 2133.1 2529.8 2152.3 2521.6 2178C2513.4 2203.7 2500.5 2251.3 2496.3 2266" stroke="#8466b0"/>
<path d="M2868.9 1671C2864.9 1671.4 2852.5 1672.5 2845 1673.5C2837.5 1674.5 2830.2 1675.5 2823.7 1676.8C2817.2 1678 2811.5 1679.5 2806 1681C2800.5 1682.5 2796.4 1683.6 2790.6 1686.1C2784.8 1688.6 2777.2 1692.3 2771 1696C2764.8 1699.7 2762.1 1701 2753.7 1708.2C2745.3 1715.5 2731 1727.5 2720.6 1739.5C2710.2 1751.5 2700.3 1765.9 2691.1 1780C2681.9 1794.1 2673.9 1807.6 2665.3 1824.2C2656.7 1840.8 2647.5 1861.1 2639.5 1879.5C2631.5 1897.9 2624.8 1916.4 2617.4 1934.8C2610 1953.2 2602.7 1971 2595.3 1990C2587.9 2009 2580.6 2028.7 2573.2 2049C2565.8 2069.3 2558.5 2090.4 2551.1 2111.6C2543.7 2132.8 2536.1 2150.3 2529 2176C2521.9 2201.7 2511.9 2251 2508.5 2266" stroke="#d7336c"/>
</g>
<rect x="2118.1" y="1660" width="750.8" height="604.9" fill="none" stroke="#000" stroke-width="3.7"/>
<line x1="2117.7" y1="2264.9" x2="2117.7" y2="2279.4" stroke="#000" stroke-width="3.7" stroke-linecap="butt"/>
<line x1="2267.9" y1="2264.9" x2="2267.9" y2="2279.4" stroke="#000" stroke-width="3.7" stroke-linecap="butt"/>
<line x1="2418.2" y1="2264.9" x2="2418.2" y2="2279.4" stroke="#000" stroke-width="3.7" stroke-linecap="butt"/>
<line x1="2568.4" y1="2264.9" x2="2568.4" y2="2279.4" stroke="#000" stroke-width="3.7" stroke-linecap="butt"/>
<line x1="2718.7" y1="2264.9" x2="2718.7" y2="2279.4" stroke="#000" stroke-width="3.7" stroke-linecap="butt"/>
<line x1="2868.9" y1="2264.9" x2="2868.9" y2="2279.4" stroke="#000" stroke-width="3.7" stroke-linecap="butt"/>
<line x1="2192.8" y1="2264.9" x2="2192.8" y2="2274.9" stroke="#000" stroke-width="3.7" stroke-linecap="butt"/>
<line x1="2343.1" y1="2264.9" x2="2343.1" y2="2274.9" stroke="#000" stroke-width="3.7" stroke-linecap="butt"/>
<line x1="2493.3" y1="2264.9" x2="2493.3" y2="2274.9" stroke="#000" stroke-width="3.7" stroke-linecap="butt"/>
<line x1="2643.5" y1="2264.9" x2="2643.5" y2="2274.9" stroke="#000" stroke-width="3.7" stroke-linecap="butt"/>
<line x1="2793.8" y1="2264.9" x2="2793.8" y2="2274.9" stroke="#000" stroke-width="3.7" stroke-linecap="butt"/>
<text x="2117.7" y="2323.9" font-size="43.8" text-anchor="middle" fill="#000" font-weight="bold">-1.0</text>
<text x="2267.9" y="2323.9" font-size="43.8" text-anchor="middle" fill="#000" font-weight="bold">-0.8</text>
<text x="2418.2" y="2323.9" font-size="43.8" text-anchor="middle" fill="#000" font-weight="bold">-0.6</text>
<text x="2568.4" y="2323.9" font-size="43.8" text-anchor="middle" fill="#000" font-weight="bold">-0.4</text>
<text x="2718.7" y="2323.9" font-size="43.8" text-anchor="middle" fill="#000" font-weight="bold">-0.2</text>
<text x="2868.9" y="2323.9" font-size="43.8" text-anchor="middle" fill="#000" font-weight="bold">0.0</text>
<line x1="2103.1" y1="1670.1" x2="2118.1" y2="1670.1" stroke="#000" stroke-width="3.7" stroke-linecap="butt"/>
<line x1="2103.1" y1="1868.4" x2="2118.1" y2="1868.4" stroke="#000" stroke-width="3.7" stroke-linecap="butt"/>
<line x1="2103.1" y1="2066.8" x2="2118.1" y2="2066.8" stroke="#000" stroke-width="3.7" stroke-linecap="butt"/>
<line x1="2103.1" y1="2265.1" x2="2118.1" y2="2265.1" stroke="#000" stroke-width="3.7" stroke-linecap="butt"/>
<line x1="2108.1" y1="1769.3" x2="2118.1" y2="1769.3" stroke="#000" stroke-width="3.7" stroke-linecap="butt"/>
<line x1="2108.1" y1="1967.6" x2="2118.1" y2="1967.6" stroke="#000" stroke-width="3.7" stroke-linecap="butt"/>
<line x1="2108.1" y1="2165.9" x2="2118.1" y2="2165.9" stroke="#000" stroke-width="3.7" stroke-linecap="butt"/>
<text x="2091.6" y="1682.1" font-size="43.8" text-anchor="end" fill="#000" font-weight="bold">0</text>
<text x="2091.6" y="1880.4" font-size="43.8" text-anchor="end" fill="#000" font-weight="bold">-200</text>
<text x="2091.6" y="2078.8" font-size="43.8" text-anchor="end" fill="#000" font-weight="bold">-400</text>
<text x="2091.6" y="2277.1" font-size="43.8" text-anchor="end" fill="#000" font-weight="bold">-600</text>
<text x="1953.6" y="1700" font-size="109" text-anchor="start" fill="#000" font-weight="bold">h</text>
<text x="1983" y="1952.3" font-size="45.3" text-anchor="middle" fill="#000" font-weight="bold" transform="rotate(-90 1983 1952.3)"><tspan font-style="italic">j</tspan><tspan> (mA cm</tspan><tspan font-size="31.7" dy="-19">-2</tspan><tspan dy="19">)</tspan></text>
<text x="2492.6" y="2390.2" font-size="45.3" text-anchor="middle" fill="#000" font-weight="bold">E (V vs. RHE)</text>
<line x1="2148" y1="1702.9" x2="2215.8" y2="1702.9" stroke="#d7336c" stroke-width="4.1" stroke-linecap="butt"/>
<line x1="2148" y1="1755" x2="2215.8" y2="1755" stroke="#8466b0" stroke-width="4.1" stroke-linecap="butt"/>
<text transform="translate(2228.7 1714) scale(1.084 1)" font-size="30.5" text-anchor="start" fill="#d7336c" font-weight="bold">Before 100 h long term test</text>
<text transform="translate(2228.7 1765.1) scale(1.084 1)" font-size="30.5" text-anchor="start" fill="#8466b0" font-weight="bold">After 100 h long term test</text></svg></body></html>
